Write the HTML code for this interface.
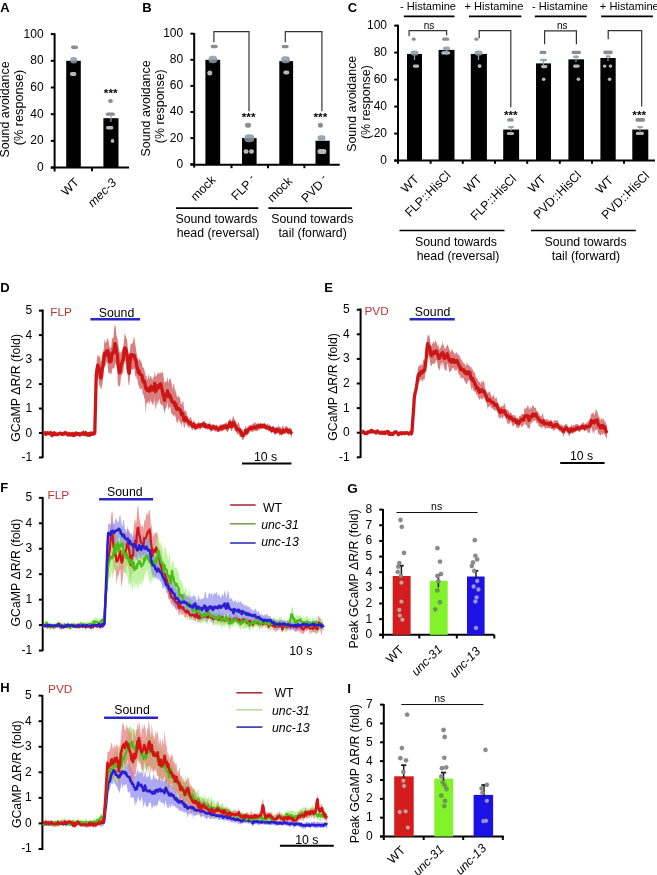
<!DOCTYPE html>
<html><head><meta charset="utf-8"><style>
html,body{margin:0;padding:0;background:#fff;width:657px;height:875px;overflow:hidden}
svg{display:block;will-change:transform}
text{font-family:"Liberation Sans", sans-serif}
</style></head><body>
<svg width="657" height="875" viewBox="0 0 657 875">
<rect width="657" height="875" fill="#fff"/>
<text x="0.30" y="11.60" font-size="13" text-anchor="start" fill="#000" font-weight="bold">A</text>
<line x1="54.60" y1="33.30" x2="54.60" y2="171.50" stroke="#000" stroke-width="2.0" stroke-linecap="butt"/>
<line x1="50.80" y1="167.60" x2="54.60" y2="167.60" stroke="#000" stroke-width="2.0" stroke-linecap="butt"/>
<text x="43.60" y="171.10" font-size="12" text-anchor="end" fill="#000">0</text>
<line x1="50.80" y1="140.90" x2="54.60" y2="140.90" stroke="#000" stroke-width="2.0" stroke-linecap="butt"/>
<text x="43.60" y="144.40" font-size="12" text-anchor="end" fill="#000">20</text>
<line x1="50.80" y1="114.20" x2="54.60" y2="114.20" stroke="#000" stroke-width="2.0" stroke-linecap="butt"/>
<text x="43.60" y="117.70" font-size="12" text-anchor="end" fill="#000">40</text>
<line x1="50.80" y1="87.50" x2="54.60" y2="87.50" stroke="#000" stroke-width="2.0" stroke-linecap="butt"/>
<text x="43.60" y="91.00" font-size="12" text-anchor="end" fill="#000">60</text>
<line x1="50.80" y1="60.80" x2="54.60" y2="60.80" stroke="#000" stroke-width="2.0" stroke-linecap="butt"/>
<text x="43.60" y="64.30" font-size="12" text-anchor="end" fill="#000">80</text>
<line x1="50.80" y1="34.10" x2="54.60" y2="34.10" stroke="#000" stroke-width="2.0" stroke-linecap="butt"/>
<text x="43.60" y="37.60" font-size="12" text-anchor="end" fill="#000">100</text>
<line x1="50.80" y1="167.60" x2="129.00" y2="167.60" stroke="#000" stroke-width="2.0" stroke-linecap="butt"/>
<line x1="92.00" y1="167.60" x2="92.00" y2="171.30" stroke="#000" stroke-width="2.0" stroke-linecap="butt"/>
<text x="9.00" y="109.50" font-size="12.45" text-anchor="middle" fill="#000" transform="rotate(-90 9.00 109.50)">Sound avoidance</text>
<text x="22.70" y="107.50" font-size="12.7" text-anchor="middle" fill="#000" transform="rotate(-90 22.70 107.50)">(% response)</text>
<rect x="66.20" y="60.80" width="14.60" height="106.80" fill="#000"/>
<rect x="103.40" y="118.20" width="15.10" height="49.39" fill="#000"/>
<text x="79.80" y="183.00" font-size="12.3" text-anchor="end" fill="#000" transform="rotate(-45 79.80 183.00)">WT</text>
<text x="117.00" y="183.50" font-size="12.3" text-anchor="end" fill="#000" font-style="italic" transform="rotate(-45 117.00 183.50)">mec-3</text>
<text x="110.70" y="96.74" font-size="11.8" text-anchor="middle" fill="#000" font-weight="bold">***</text>
<rect x="71.00" y="45.50" width="7.00" height="3.40" rx="1.70" ry="1.70" fill="#8c8c8c" fill-opacity="1.0"/>
<rect x="70.20" y="57.05" width="7.00" height="6.50" rx="3.25" ry="3.25" fill="#8a98a2" fill-opacity="0.85"/>
<rect x="69.95" y="72.00" width="6.50" height="4.00" rx="2.00" ry="2.00" fill="#b8b8b8" fill-opacity="1.0"/>
<rect x="108.15" y="99.10" width="4.70" height="3.80" rx="1.90" ry="1.90" fill="#8c8c8c" fill-opacity="1.0"/>
<rect x="105.90" y="112.60" width="9.00" height="3.20" rx="1.60" ry="1.60" fill="#8c8c8c" fill-opacity="1.0"/>
<line x1="111.00" y1="115.50" x2="111.00" y2="122.00" stroke="#8fa3b3" stroke-width="1.2" stroke-linecap="butt"/>
<rect x="105.95" y="126.10" width="7.50" height="3.40" rx="1.70" ry="1.70" fill="#b8b8b8" fill-opacity="1.0"/>
<rect x="110.65" y="139.05" width="3.70" height="3.70" rx="1.85" ry="1.85" fill="#b8b8b8" fill-opacity="1.0"/>
<text x="142.30" y="11.60" font-size="13" text-anchor="start" fill="#000" font-weight="bold">B</text>
<line x1="194.20" y1="33.00" x2="194.20" y2="167.60" stroke="#000" stroke-width="2.0" stroke-linecap="butt"/>
<line x1="190.40" y1="164.20" x2="194.20" y2="164.20" stroke="#000" stroke-width="2.0" stroke-linecap="butt"/>
<text x="183.20" y="167.60" font-size="12" text-anchor="end" fill="#000">0</text>
<line x1="190.40" y1="138.10" x2="194.20" y2="138.10" stroke="#000" stroke-width="2.0" stroke-linecap="butt"/>
<text x="183.20" y="141.50" font-size="12" text-anchor="end" fill="#000">20</text>
<line x1="190.40" y1="112.00" x2="194.20" y2="112.00" stroke="#000" stroke-width="2.0" stroke-linecap="butt"/>
<text x="183.20" y="115.40" font-size="12" text-anchor="end" fill="#000">40</text>
<line x1="190.40" y1="85.90" x2="194.20" y2="85.90" stroke="#000" stroke-width="2.0" stroke-linecap="butt"/>
<text x="183.20" y="89.30" font-size="12" text-anchor="end" fill="#000">60</text>
<line x1="190.40" y1="59.80" x2="194.20" y2="59.80" stroke="#000" stroke-width="2.0" stroke-linecap="butt"/>
<text x="183.20" y="63.20" font-size="12" text-anchor="end" fill="#000">80</text>
<line x1="190.40" y1="33.70" x2="194.20" y2="33.70" stroke="#000" stroke-width="2.0" stroke-linecap="butt"/>
<text x="183.20" y="37.10" font-size="12" text-anchor="end" fill="#000">100</text>
<line x1="190.40" y1="164.70" x2="339.70" y2="164.70" stroke="#000" stroke-width="2.0" stroke-linecap="butt"/>
<line x1="231.50" y1="164.70" x2="231.50" y2="168.20" stroke="#000" stroke-width="2.0" stroke-linecap="butt"/>
<line x1="268.00" y1="164.70" x2="268.00" y2="168.20" stroke="#000" stroke-width="2.0" stroke-linecap="butt"/>
<line x1="304.40" y1="164.70" x2="304.40" y2="168.20" stroke="#000" stroke-width="2.0" stroke-linecap="butt"/>
<text x="150.40" y="108.40" font-size="12.45" text-anchor="middle" fill="#000" transform="rotate(-90 150.40 108.40)">Sound avoidance</text>
<text x="164.20" y="106.20" font-size="12.45" text-anchor="middle" fill="#000" transform="rotate(-90 164.20 106.20)">(% response)</text>
<rect x="205.40" y="59.80" width="14.80" height="104.90" fill="#000"/>
<rect x="242.00" y="138.10" width="14.60" height="26.60" fill="#000"/>
<rect x="279.30" y="61.10" width="13.80" height="103.59" fill="#000"/>
<rect x="315.50" y="140.71" width="14.20" height="23.99" fill="#000"/>
<polyline points="213.90,42.20 213.90,31.70 249.00,31.70 249.00,111.20" fill="none" stroke="#333333" stroke-width="1.2" stroke-linejoin="miter"/>
<polyline points="285.30,42.20 285.30,31.70 321.90,31.70 321.90,111.20" fill="none" stroke="#333333" stroke-width="1.2" stroke-linejoin="miter"/>
<text x="248.60" y="121.14" font-size="11.8" text-anchor="middle" fill="#000" font-weight="bold">***</text>
<text x="320.40" y="121.14" font-size="11.8" text-anchor="middle" fill="#000" font-weight="bold">***</text>
<rect x="210.70" y="44.80" width="7.00" height="3.40" rx="1.70" ry="1.70" fill="#8c8c8c" fill-opacity="1.0"/>
<rect x="208.40" y="55.85" width="9.00" height="7.50" rx="3.75" ry="3.75" fill="#8a98a2" fill-opacity="0.85"/>
<rect x="207.30" y="70.60" width="5.00" height="5.00" rx="2.50" ry="2.50" fill="#b8b8b8" fill-opacity="1.0"/>
<rect x="245.00" y="122.70" width="6.00" height="5.00" rx="2.50" ry="2.50" fill="#8c8c8c" fill-opacity="1.0"/>
<rect x="244.30" y="134.30" width="10.00" height="8.00" rx="4.00" ry="4.00" fill="#8a98a2" fill-opacity="0.85"/>
<rect x="243.50" y="149.25" width="5.00" height="4.50" rx="2.25" ry="2.25" fill="#b8b8b8" fill-opacity="1.0"/>
<rect x="249.00" y="149.25" width="5.00" height="4.50" rx="2.25" ry="2.25" fill="#b8b8b8" fill-opacity="1.0"/>
<rect x="281.70" y="44.90" width="7.00" height="3.40" rx="1.70" ry="1.70" fill="#8c8c8c" fill-opacity="1.0"/>
<rect x="281.00" y="56.30" width="9.00" height="7.00" rx="3.50" ry="3.50" fill="#8a98a2" fill-opacity="0.85"/>
<rect x="283.30" y="70.40" width="6.00" height="4.00" rx="2.00" ry="2.00" fill="#b8b8b8" fill-opacity="1.0"/>
<rect x="317.90" y="122.70" width="5.00" height="5.00" rx="2.50" ry="2.50" fill="#8c8c8c" fill-opacity="1.0"/>
<rect x="317.50" y="135.25" width="8.00" height="5.50" rx="2.75" ry="2.75" fill="#8a98a2" fill-opacity="0.85"/>
<rect x="317.40" y="149.00" width="9.00" height="5.00" rx="2.50" ry="2.50" fill="#b8b8b8" fill-opacity="1.0"/>
<text x="216.30" y="180.70" font-size="12.3" text-anchor="end" fill="#000" transform="rotate(-45 216.30 180.70)">mock</text>
<text x="257.00" y="180.40" font-size="12.3" text-anchor="end" fill="#000" transform="rotate(-45 257.00 180.40)">FLP <tspan dy="-3.5" font-size="10.5">-</tspan></text>
<text x="293.00" y="182.00" font-size="12.3" text-anchor="end" fill="#000" transform="rotate(-45 293.00 182.00)">mock</text>
<text x="329.00" y="180.50" font-size="12.3" text-anchor="end" fill="#000" transform="rotate(-45 329.00 180.50)">PVD <tspan dy="-3.5" font-size="10.5">-</tspan></text>
<line x1="176.00" y1="208.10" x2="258.30" y2="208.10" stroke="#000" stroke-width="1.6" stroke-linecap="butt"/>
<line x1="268.40" y1="208.10" x2="352.10" y2="208.10" stroke="#000" stroke-width="1.6" stroke-linecap="butt"/>
<text x="216.50" y="222.60" font-size="12.3" text-anchor="middle" fill="#000">Sound towards</text>
<text x="218.00" y="237.40" font-size="12.3" text-anchor="middle" fill="#000">head (reversal)</text>
<text x="312.30" y="222.60" font-size="12.3" text-anchor="middle" fill="#000">Sound towards</text>
<text x="312.60" y="237.40" font-size="12.3" text-anchor="middle" fill="#000">tail (forward)</text>
<text x="347.80" y="11.60" font-size="13" text-anchor="start" fill="#000" font-weight="bold">C</text>
<line x1="398.00" y1="24.80" x2="398.00" y2="163.80" stroke="#000" stroke-width="2.0" stroke-linecap="butt"/>
<line x1="394.20" y1="160.60" x2="398.00" y2="160.60" stroke="#000" stroke-width="2.0" stroke-linecap="butt"/>
<text x="387.00" y="164.10" font-size="12" text-anchor="end" fill="#000">0</text>
<line x1="394.20" y1="133.60" x2="398.00" y2="133.60" stroke="#000" stroke-width="2.0" stroke-linecap="butt"/>
<text x="387.00" y="137.10" font-size="12" text-anchor="end" fill="#000">20</text>
<line x1="394.20" y1="106.60" x2="398.00" y2="106.60" stroke="#000" stroke-width="2.0" stroke-linecap="butt"/>
<text x="387.00" y="110.10" font-size="12" text-anchor="end" fill="#000">40</text>
<line x1="394.20" y1="79.60" x2="398.00" y2="79.60" stroke="#000" stroke-width="2.0" stroke-linecap="butt"/>
<text x="387.00" y="83.10" font-size="12" text-anchor="end" fill="#000">60</text>
<line x1="394.20" y1="52.60" x2="398.00" y2="52.60" stroke="#000" stroke-width="2.0" stroke-linecap="butt"/>
<text x="387.00" y="56.10" font-size="12" text-anchor="end" fill="#000">80</text>
<line x1="394.20" y1="25.60" x2="398.00" y2="25.60" stroke="#000" stroke-width="2.0" stroke-linecap="butt"/>
<text x="387.00" y="29.10" font-size="12" text-anchor="end" fill="#000">100</text>
<line x1="394.20" y1="160.40" x2="655.00" y2="160.40" stroke="#000" stroke-width="2.0" stroke-linecap="butt"/>
<line x1="430.60" y1="160.40" x2="430.60" y2="163.80" stroke="#000" stroke-width="2.0" stroke-linecap="butt"/>
<line x1="462.80" y1="160.40" x2="462.80" y2="163.80" stroke="#000" stroke-width="2.0" stroke-linecap="butt"/>
<line x1="495.00" y1="160.40" x2="495.00" y2="163.80" stroke="#000" stroke-width="2.0" stroke-linecap="butt"/>
<line x1="527.20" y1="160.40" x2="527.20" y2="163.80" stroke="#000" stroke-width="2.0" stroke-linecap="butt"/>
<line x1="559.80" y1="160.40" x2="559.80" y2="163.80" stroke="#000" stroke-width="2.0" stroke-linecap="butt"/>
<line x1="592.00" y1="160.40" x2="592.00" y2="163.80" stroke="#000" stroke-width="2.0" stroke-linecap="butt"/>
<line x1="624.00" y1="160.40" x2="624.00" y2="163.80" stroke="#000" stroke-width="2.0" stroke-linecap="butt"/>
<text x="356.00" y="103.80" font-size="12.45" text-anchor="middle" fill="#000" transform="rotate(-90 356.00 103.80)">Sound avoidance</text>
<text x="369.60" y="102.10" font-size="12.45" text-anchor="middle" fill="#000" transform="rotate(-90 369.60 102.10)">(% response)</text>
<rect x="407.00" y="53.95" width="15.00" height="106.45" fill="#000"/>
<rect x="438.60" y="49.90" width="15.90" height="110.50" fill="#000"/>
<rect x="470.80" y="53.95" width="16.10" height="106.45" fill="#000"/>
<rect x="503.20" y="129.55" width="15.90" height="30.85" fill="#000"/>
<rect x="536.00" y="63.40" width="15.00" height="97.00" fill="#000"/>
<rect x="568.40" y="59.35" width="15.60" height="101.05" fill="#000"/>
<rect x="600.40" y="58.00" width="15.30" height="102.40" fill="#000"/>
<rect x="632.30" y="129.55" width="16.00" height="30.85" fill="#000"/>
<text x="428.00" y="9.90" font-size="11.1" text-anchor="middle" fill="#000">- Histamine</text>
<line x1="403.80" y1="16.30" x2="454.50" y2="16.30" stroke="#000" stroke-width="1.8" stroke-linecap="butt"/>
<text x="494.00" y="9.90" font-size="11.1" text-anchor="middle" fill="#000">+ Histamine</text>
<line x1="469.00" y1="16.30" x2="521.40" y2="16.30" stroke="#000" stroke-width="1.8" stroke-linecap="butt"/>
<text x="560.00" y="9.90" font-size="11.1" text-anchor="middle" fill="#000">- Histamine</text>
<line x1="534.80" y1="16.30" x2="586.60" y2="16.30" stroke="#000" stroke-width="1.8" stroke-linecap="butt"/>
<text x="629.30" y="9.90" font-size="11.1" text-anchor="middle" fill="#000">+ Histamine</text>
<line x1="601.20" y1="16.30" x2="652.90" y2="16.30" stroke="#000" stroke-width="1.8" stroke-linecap="butt"/>
<polyline points="409.10,36.00 409.10,30.70 446.60,30.70 446.60,35.50" fill="none" stroke="#333333" stroke-width="1.2" stroke-linejoin="miter"/>
<text x="429.00" y="29.30" font-size="10" text-anchor="middle" fill="#000">ns</text>
<polyline points="544.60,44.20 544.60,30.90 576.40,30.90 576.40,44.20" fill="none" stroke="#333333" stroke-width="1.2" stroke-linejoin="miter"/>
<text x="562.20" y="29.30" font-size="10" text-anchor="middle" fill="#000">ns</text>
<polyline points="479.20,38.20 479.20,30.70 510.80,30.70 510.80,107.30" fill="none" stroke="#333333" stroke-width="1.2" stroke-linejoin="miter"/>
<polyline points="608.20,39.20 608.20,30.70 641.70,30.70 641.70,106.60" fill="none" stroke="#333333" stroke-width="1.2" stroke-linejoin="miter"/>
<text x="510.80" y="119.04" font-size="11.8" text-anchor="middle" fill="#000" font-weight="bold">***</text>
<text x="639.20" y="119.14" font-size="11.8" text-anchor="middle" fill="#000" font-weight="bold">***</text>
<rect x="411.70" y="37.60" width="4.00" height="3.20" rx="1.60" ry="1.60" fill="#8c8c8c" fill-opacity="1.0"/>
<rect x="410.50" y="50.50" width="8.00" height="5.00" rx="2.50" ry="2.50" fill="#8a98a2" fill-opacity="0.85"/>
<rect x="412.75" y="64.40" width="6.50" height="3.40" rx="1.70" ry="1.70" fill="#b8b8b8" fill-opacity="1.0"/>
<rect x="442.20" y="37.60" width="7.00" height="3.20" rx="1.60" ry="1.60" fill="#8c8c8c" fill-opacity="1.0"/>
<rect x="443.00" y="46.50" width="7.00" height="4.00" rx="2.00" ry="2.00" fill="#8a98a2" fill-opacity="0.85"/>
<rect x="441.20" y="51.20" width="9.00" height="3.40" rx="1.70" ry="1.70" fill="#b8b8b8" fill-opacity="1.0"/>
<rect x="474.40" y="37.60" width="4.00" height="3.20" rx="1.60" ry="1.60" fill="#8c8c8c" fill-opacity="1.0"/>
<rect x="474.50" y="50.50" width="8.00" height="5.00" rx="2.50" ry="2.50" fill="#8a98a2" fill-opacity="0.85"/>
<rect x="477.60" y="64.30" width="4.00" height="3.60" rx="1.80" ry="1.80" fill="#b8b8b8" fill-opacity="1.0"/>
<rect x="507.10" y="118.30" width="6.60" height="3.20" rx="1.60" ry="1.60" fill="#8c8c8c" fill-opacity="1.0"/>
<rect x="508.00" y="125.90" width="6.00" height="2.20" rx="1.10" ry="1.10" fill="#8a98a2" fill-opacity="0.85"/>
<rect x="506.85" y="131.90" width="7.30" height="3.00" rx="1.50" ry="1.50" fill="#b8b8b8" fill-opacity="1.0"/>
<rect x="539.50" y="50.80" width="7.00" height="3.20" rx="1.60" ry="1.60" fill="#8c8c8c" fill-opacity="1.0"/>
<rect x="540.00" y="58.70" width="7.00" height="2.60" rx="1.30" ry="1.30" fill="#8a98a2" fill-opacity="0.85"/>
<rect x="541.00" y="65.00" width="6.40" height="3.20" rx="1.60" ry="1.60" fill="#b8b8b8" fill-opacity="1.0"/>
<rect x="541.90" y="77.60" width="3.60" height="3.40" rx="1.70" ry="1.70" fill="#b8b8b8" fill-opacity="1.0"/>
<rect x="571.55" y="50.80" width="9.50" height="3.20" rx="1.60" ry="1.60" fill="#8c8c8c" fill-opacity="1.0"/>
<rect x="573.00" y="55.50" width="6.00" height="2.60" rx="1.30" ry="1.30" fill="#8a98a2" fill-opacity="0.85"/>
<rect x="573.00" y="64.50" width="6.80" height="3.20" rx="1.60" ry="1.60" fill="#b8b8b8" fill-opacity="1.0"/>
<rect x="576.60" y="77.60" width="3.60" height="3.40" rx="1.70" ry="1.70" fill="#b8b8b8" fill-opacity="1.0"/>
<rect x="603.20" y="50.60" width="9.60" height="3.60" rx="1.80" ry="1.80" fill="#8c8c8c" fill-opacity="1.0"/>
<rect x="605.50" y="55.25" width="5.00" height="2.50" rx="1.25" ry="1.25" fill="#8a98a2" fill-opacity="0.85"/>
<rect x="602.80" y="64.40" width="3.60" height="3.40" rx="1.70" ry="1.70" fill="#b8b8b8" fill-opacity="1.0"/>
<rect x="608.70" y="64.40" width="3.60" height="3.40" rx="1.70" ry="1.70" fill="#b8b8b8" fill-opacity="1.0"/>
<rect x="607.80" y="77.60" width="3.60" height="3.40" rx="1.70" ry="1.70" fill="#b8b8b8" fill-opacity="1.0"/>
<rect x="635.30" y="118.10" width="9.80" height="3.60" rx="1.80" ry="1.80" fill="#8c8c8c" fill-opacity="1.0"/>
<rect x="637.00" y="125.90" width="6.00" height="2.20" rx="1.10" ry="1.10" fill="#8a98a2" fill-opacity="0.85"/>
<rect x="635.80" y="131.80" width="8.20" height="3.20" rx="1.60" ry="1.60" fill="#b8b8b8" fill-opacity="1.0"/>
<line x1="414.50" y1="55.00" x2="414.50" y2="60.00" stroke="#8fa3b3" stroke-width="1.2" stroke-linecap="butt"/>
<line x1="446.50" y1="49.00" x2="446.50" y2="55.00" stroke="#8fa3b3" stroke-width="1.2" stroke-linecap="butt"/>
<line x1="478.50" y1="55.00" x2="478.50" y2="60.00" stroke="#8fa3b3" stroke-width="1.2" stroke-linecap="butt"/>
<line x1="511.00" y1="127.00" x2="511.00" y2="131.00" stroke="#8fa3b3" stroke-width="1.2" stroke-linecap="butt"/>
<line x1="543.50" y1="60.00" x2="543.50" y2="66.00" stroke="#8fa3b3" stroke-width="1.2" stroke-linecap="butt"/>
<line x1="576.00" y1="57.00" x2="576.00" y2="62.00" stroke="#8fa3b3" stroke-width="1.2" stroke-linecap="butt"/>
<line x1="608.00" y1="56.00" x2="608.00" y2="61.00" stroke="#8fa3b3" stroke-width="1.2" stroke-linecap="butt"/>
<line x1="640.00" y1="127.00" x2="640.00" y2="131.00" stroke="#8fa3b3" stroke-width="1.2" stroke-linecap="butt"/>
<text x="419.50" y="180.00" font-size="12.3" text-anchor="end" fill="#000" transform="rotate(-45 419.50 180.00)">WT</text>
<text x="451.50" y="176.00" font-size="12.3" text-anchor="end" fill="#000" transform="rotate(-45 451.50 176.00)">FLP::HisCl</text>
<text x="482.50" y="180.00" font-size="12.3" text-anchor="end" fill="#000" transform="rotate(-45 482.50 180.00)">WT</text>
<text x="517.00" y="179.50" font-size="12.3" text-anchor="end" fill="#000" transform="rotate(-45 517.00 179.50)">FLP::HisCl</text>
<text x="546.50" y="180.00" font-size="12.3" text-anchor="end" fill="#000" transform="rotate(-45 546.50 180.00)">WT</text>
<text x="582.00" y="176.00" font-size="12.3" text-anchor="end" fill="#000" transform="rotate(-45 582.00 176.00)">PVD::HisCl</text>
<text x="614.00" y="181.00" font-size="12.3" text-anchor="end" fill="#000" transform="rotate(-45 614.00 181.00)">WT</text>
<text x="650.00" y="176.50" font-size="12.3" text-anchor="end" fill="#000" transform="rotate(-45 650.00 176.50)">PVD::HisCl</text>
<line x1="399.50" y1="230.40" x2="504.50" y2="230.40" stroke="#000" stroke-width="1.5" stroke-linecap="butt"/>
<line x1="531.00" y1="230.40" x2="635.80" y2="230.40" stroke="#000" stroke-width="1.5" stroke-linecap="butt"/>
<text x="456.00" y="246.30" font-size="12.3" text-anchor="middle" fill="#000">Sound towards</text>
<text x="458.00" y="259.60" font-size="12.3" text-anchor="middle" fill="#000">head (reversal)</text>
<text x="585.60" y="246.30" font-size="12.3" text-anchor="middle" fill="#000">Sound towards</text>
<text x="586.00" y="259.60" font-size="12.3" text-anchor="middle" fill="#000">tail (forward)</text>
<text x="0.30" y="292.00" font-size="13" text-anchor="start" fill="#000" font-weight="bold">D</text>
<line x1="42.70" y1="309.50" x2="42.70" y2="458.00" stroke="#000" stroke-width="2.0" stroke-linecap="butt"/>
<line x1="38.90" y1="457.47" x2="42.70" y2="457.47" stroke="#000" stroke-width="2.0" stroke-linecap="butt"/>
<text x="32.10" y="460.97" font-size="12" text-anchor="end" fill="#000">-1</text>
<line x1="38.90" y1="433.00" x2="42.70" y2="433.00" stroke="#000" stroke-width="2.0" stroke-linecap="butt"/>
<text x="32.10" y="436.50" font-size="12" text-anchor="end" fill="#000">0</text>
<line x1="38.90" y1="408.53" x2="42.70" y2="408.53" stroke="#000" stroke-width="2.0" stroke-linecap="butt"/>
<text x="32.10" y="412.03" font-size="12" text-anchor="end" fill="#000">1</text>
<line x1="38.90" y1="384.06" x2="42.70" y2="384.06" stroke="#000" stroke-width="2.0" stroke-linecap="butt"/>
<text x="32.10" y="387.56" font-size="12" text-anchor="end" fill="#000">2</text>
<line x1="38.90" y1="359.59" x2="42.70" y2="359.59" stroke="#000" stroke-width="2.0" stroke-linecap="butt"/>
<text x="32.10" y="363.09" font-size="12" text-anchor="end" fill="#000">3</text>
<line x1="38.90" y1="335.12" x2="42.70" y2="335.12" stroke="#000" stroke-width="2.0" stroke-linecap="butt"/>
<text x="32.10" y="338.62" font-size="12" text-anchor="end" fill="#000">4</text>
<line x1="38.90" y1="310.65" x2="42.70" y2="310.65" stroke="#000" stroke-width="2.0" stroke-linecap="butt"/>
<text x="32.10" y="314.15" font-size="12" text-anchor="end" fill="#000">5</text>
<text x="19.80" y="387.90" font-size="12.3" text-anchor="middle" fill="#000" transform="rotate(-90 19.80 387.90)">GCaMP ΔR/R (fold)</text>
<text x="50.20" y="315.50" font-size="11.8" text-anchor="start" fill="#c03434">FLP</text>
<line x1="90.40" y1="319.20" x2="140.10" y2="319.20" stroke="#2a26c8" stroke-width="2.6" stroke-linecap="butt"/>
<text x="116.50" y="316.60" font-size="12.3" text-anchor="middle" fill="#000">Sound</text>
<line x1="242.00" y1="463.60" x2="291.50" y2="463.60" stroke="#000" stroke-width="2.0" stroke-linecap="butt"/>
<text x="265.60" y="460.60" font-size="12.3" text-anchor="middle" fill="#000">10 s</text>
<polygon points="43.00,431.28 43.75,430.89 44.50,431.51 45.25,430.74 46.00,432.23 46.75,430.70 47.50,430.53 48.25,431.53 49.00,431.82 49.75,431.30 50.50,430.85 51.25,431.36 52.00,434.13 52.75,431.89 53.50,431.89 54.25,431.17 55.00,432.88 55.75,431.98 56.50,432.76 57.25,432.79 58.00,432.73 58.75,431.89 59.50,432.22 60.25,431.33 61.00,431.55 61.75,432.32 62.50,432.03 63.25,431.64 64.00,431.76 64.75,430.12 65.50,431.28 66.25,431.35 67.00,432.44 67.75,432.96 68.50,433.24 69.25,432.03 70.00,432.87 70.75,433.00 71.50,432.05 72.25,431.52 73.00,433.55 73.75,433.94 74.50,432.39 75.25,433.18 76.00,431.25 76.75,431.52 77.50,432.78 78.25,432.61 79.00,432.26 79.75,432.92 80.50,431.84 81.25,431.42 82.00,430.46 82.75,431.19 83.50,429.28 84.25,431.78 85.00,431.54 85.75,430.44 86.50,432.47 87.25,432.84 88.00,432.02 88.75,431.46 89.50,433.71 90.25,432.47 91.00,431.21 91.75,432.19 92.50,432.13 93.25,431.03 94.00,432.17 94.75,431.47 95.50,399.40 96.25,366.82 97.00,358.42 97.75,354.18 98.50,355.82 99.25,358.10 100.00,353.84 100.75,362.36 101.50,360.19 102.25,353.76 103.00,354.48 103.75,349.11 104.50,338.83 105.25,342.83 106.00,342.38 106.75,340.79 107.50,338.08 108.25,339.22 109.00,344.40 109.75,347.15 110.50,347.81 111.25,347.51 112.00,337.10 112.75,339.33 113.50,337.21 114.25,328.08 115.00,324.54 115.75,327.33 116.50,336.05 117.25,337.40 118.00,341.87 118.75,347.29 119.50,351.54 120.25,353.91 121.00,350.87 121.75,352.08 122.50,348.45 123.25,348.48 124.00,340.85 124.75,332.74 125.50,335.52 126.25,337.40 127.00,339.46 127.75,347.09 128.50,354.27 129.25,356.54 130.00,349.23 130.75,343.51 131.50,344.10 132.25,342.69 133.00,343.04 133.75,336.53 134.50,338.85 135.25,344.45 136.00,348.27 136.75,354.85 137.50,357.56 138.25,361.34 139.00,356.77 139.75,360.04 140.50,360.77 141.25,361.46 142.00,364.31 142.75,367.71 143.50,367.47 144.25,369.28 145.00,372.14 145.75,375.89 146.50,375.89 147.25,380.42 148.00,377.24 148.75,373.40 149.50,379.61 150.25,375.71 151.00,375.98 151.75,378.76 152.50,379.78 153.25,377.13 154.00,376.70 154.75,370.88 155.50,376.79 156.25,376.24 157.00,374.47 157.75,373.83 158.50,372.82 159.25,372.27 160.00,374.63 160.75,371.24 161.50,373.39 162.25,371.75 163.00,372.62 163.75,378.84 164.50,383.00 165.25,381.19 166.00,382.06 166.75,381.42 167.50,375.93 168.25,383.71 169.00,379.59 169.75,378.99 170.50,378.59 171.25,382.08 172.00,385.36 172.75,389.45 173.50,383.71 174.25,384.41 175.00,393.33 175.75,388.14 176.50,395.07 177.25,396.75 178.00,397.43 178.75,394.88 179.50,397.20 180.25,399.29 181.00,403.65 181.75,404.54 182.50,401.52 183.25,401.11 184.00,409.06 184.75,411.52 185.50,410.76 186.25,410.64 187.00,414.46 187.75,416.23 188.50,417.69 189.25,418.83 190.00,418.55 190.75,416.23 191.50,419.10 192.25,422.48 193.00,421.80 193.75,420.32 194.50,421.42 195.25,423.15 196.00,423.29 196.75,423.80 197.50,423.03 198.25,422.61 199.00,421.62 199.75,423.43 200.50,423.61 201.25,422.40 202.00,422.28 202.75,420.93 203.50,421.29 204.25,420.37 205.00,423.08 205.75,423.01 206.50,422.89 207.25,423.29 208.00,424.39 208.75,423.30 209.50,422.44 210.25,424.13 211.00,425.49 211.75,424.66 212.50,424.04 213.25,424.34 214.00,424.14 214.75,425.39 215.50,425.06 216.25,424.20 217.00,425.55 217.75,425.17 218.50,426.95 219.25,425.05 220.00,426.16 220.75,423.42 221.50,424.83 222.25,424.71 223.00,423.74 223.75,424.00 224.50,423.73 225.25,422.45 226.00,423.33 226.75,421.87 227.50,424.40 228.25,423.56 229.00,422.34 229.75,418.51 230.50,419.09 231.25,421.39 232.00,419.70 232.75,417.20 233.50,415.68 234.25,419.38 235.00,419.33 235.75,421.19 236.50,422.06 237.25,424.74 238.00,422.79 238.75,421.93 239.50,424.93 240.25,427.77 241.00,427.67 241.75,431.88 242.50,432.52 243.25,432.72 244.00,431.01 244.75,430.00 245.50,425.13 246.25,427.33 247.00,429.33 247.75,426.00 248.50,425.97 249.25,424.91 250.00,425.39 250.75,424.46 251.50,424.99 252.25,424.07 253.00,423.87 253.75,423.59 254.50,422.55 255.25,422.14 256.00,423.13 256.75,423.93 257.50,423.01 258.25,423.85 259.00,423.05 259.75,424.16 260.50,422.18 261.25,423.60 262.00,424.17 262.75,423.02 263.50,423.71 264.25,422.67 265.00,423.59 265.75,424.57 266.50,424.60 267.25,423.60 268.00,423.60 268.75,425.56 269.50,424.32 270.25,425.08 271.00,426.98 271.75,427.55 272.50,426.07 273.25,425.48 274.00,427.46 274.75,428.02 275.50,429.20 276.25,426.50 277.00,426.95 277.75,427.00 278.50,425.15 279.25,426.16 280.00,427.24 280.75,426.98 281.50,428.54 282.25,426.09 283.00,425.14 283.75,428.03 284.50,427.86 285.25,426.05 286.00,426.43 286.75,425.49 287.50,427.29 288.25,428.40 289.00,427.71 289.75,427.31 290.50,428.49 291.25,428.10 292.00,429.51 292.00,438.76 291.25,436.54 290.50,435.04 289.75,434.12 289.00,434.39 288.25,435.23 287.50,433.70 286.75,433.14 286.00,433.80 285.25,433.79 284.50,434.01 283.75,434.80 283.00,433.18 282.25,434.32 281.50,436.14 280.75,434.11 280.00,436.18 279.25,435.37 278.50,432.98 277.75,433.98 277.00,433.41 276.25,433.93 275.50,434.82 274.75,434.89 274.00,433.76 273.25,432.11 272.50,431.49 271.75,433.51 271.00,432.89 270.25,431.90 269.50,431.22 268.75,430.97 268.00,430.61 267.25,429.59 266.50,430.21 265.75,430.08 265.00,429.80 264.25,428.37 263.50,429.00 262.75,427.99 262.00,429.31 261.25,429.20 260.50,427.93 259.75,430.28 259.00,429.58 258.25,430.61 257.50,431.59 256.75,430.69 256.00,431.42 255.25,430.91 254.50,430.19 253.75,431.18 253.00,431.46 252.25,432.31 251.50,432.06 250.75,430.62 250.00,432.21 249.25,432.44 248.50,433.29 247.75,433.02 247.00,436.85 246.25,436.11 245.50,433.60 244.75,437.35 244.00,437.73 243.25,440.14 242.50,439.69 241.75,439.06 241.00,435.28 240.25,437.01 239.50,436.14 238.75,434.07 238.00,434.28 237.25,434.84 236.50,432.84 235.75,431.47 235.00,431.04 234.25,429.85 233.50,427.40 232.75,428.77 232.00,430.40 231.25,431.57 230.50,428.90 229.75,426.40 229.00,429.57 228.25,431.46 227.50,432.85 226.75,430.76 226.00,431.14 225.25,428.92 224.50,429.52 223.75,430.89 223.00,430.09 222.25,431.81 221.50,431.50 220.75,429.79 220.00,431.51 219.25,431.52 218.50,432.32 217.75,431.67 217.00,432.28 216.25,431.20 215.50,431.61 214.75,431.70 214.00,430.31 213.25,430.51 212.50,431.35 211.75,430.68 211.00,432.16 210.25,430.26 209.50,428.30 208.75,428.46 208.00,429.85 207.25,429.48 206.50,428.51 205.75,429.22 205.00,429.30 204.25,426.56 203.50,427.97 202.75,429.07 202.00,427.51 201.25,427.88 200.50,429.49 199.75,430.26 199.00,427.86 198.25,429.40 197.50,429.30 196.75,429.57 196.00,429.48 195.25,431.32 194.50,427.97 193.75,428.08 193.00,429.17 192.25,431.01 191.50,428.79 190.75,425.95 190.00,426.73 189.25,427.98 188.50,427.71 187.75,425.71 187.00,425.97 186.25,423.83 185.50,423.11 184.75,426.96 184.00,428.74 183.25,422.72 182.50,421.77 181.75,427.13 181.00,422.55 180.25,423.76 179.50,420.75 178.75,419.60 178.00,422.09 177.25,423.30 176.50,421.76 175.75,417.03 175.00,416.52 174.25,414.15 173.50,416.89 172.75,414.18 172.00,414.60 171.25,413.00 170.50,407.22 169.75,406.58 169.00,408.35 168.25,409.30 167.50,401.71 166.75,406.51 166.00,408.13 165.25,409.23 164.50,414.12 163.75,409.62 163.00,406.69 162.25,404.40 161.50,405.27 160.75,404.30 160.00,402.61 159.25,398.48 158.50,401.49 157.75,405.49 157.00,399.39 156.25,407.28 155.50,409.66 154.75,396.94 154.00,407.02 153.25,401.57 152.50,405.38 151.75,402.07 151.00,402.10 150.25,398.78 149.50,405.27 148.75,401.67 148.00,401.15 147.25,403.79 146.50,403.33 145.75,413.70 145.00,399.63 144.25,398.15 143.50,394.70 142.75,394.36 142.00,387.88 141.25,389.11 140.50,389.44 139.75,388.80 139.00,385.98 138.25,385.09 137.50,379.43 136.75,378.71 136.00,374.71 135.25,378.12 134.50,369.36 133.75,368.44 133.00,369.54 132.25,369.58 131.50,370.28 130.75,366.34 130.00,376.69 129.25,384.82 128.50,385.13 127.75,375.78 127.00,370.66 126.25,368.95 125.50,360.85 124.75,361.13 124.00,366.07 123.25,372.66 122.50,373.77 121.75,374.71 121.00,376.52 120.25,384.21 119.50,386.98 118.75,385.07 118.00,387.34 117.25,371.22 116.50,366.43 115.75,362.80 115.00,364.87 114.25,368.84 113.50,368.22 112.75,368.05 112.00,370.96 111.25,375.27 110.50,372.38 109.75,373.81 109.00,373.06 108.25,372.61 107.50,363.87 106.75,361.66 106.00,363.96 105.25,366.36 104.50,365.49 103.75,371.08 103.00,379.03 102.25,385.37 101.50,388.61 100.75,389.18 100.00,384.58 99.25,386.48 98.50,378.18 97.75,376.19 97.00,380.01 96.25,385.82 95.50,411.51 94.75,435.08 94.00,435.70 93.25,435.43 92.50,435.35 91.75,436.04 91.00,435.16 90.25,435.94 89.50,436.91 88.75,435.57 88.00,436.15 87.25,437.10 86.50,437.08 85.75,434.81 85.00,436.07 84.25,436.69 83.50,434.91 82.75,435.63 82.00,435.59 81.25,435.60 80.50,435.51 79.75,436.65 79.00,435.87 78.25,435.92 77.50,435.76 76.75,434.84 76.00,434.74 75.25,436.56 74.50,435.97 73.75,437.72 73.00,436.86 72.25,435.22 71.50,436.87 70.75,437.10 70.00,436.21 69.25,435.45 68.50,437.18 67.75,436.49 67.00,435.61 66.25,434.66 65.50,435.32 64.75,435.46 64.00,436.00 63.25,436.21 62.50,436.35 61.75,436.18 61.00,435.66 60.25,434.74 59.50,435.28 58.75,435.45 58.00,436.63 57.25,436.16 56.50,436.38 55.75,435.60 55.00,436.28 54.25,434.53 53.50,434.88 52.75,435.16 52.00,437.46 51.25,434.91 50.50,434.83 49.75,435.51 49.00,435.47 48.25,434.72 47.50,434.35 46.75,435.03 46.00,435.71 45.25,434.41 44.50,435.54 43.75,434.31 43.00,434.40" fill="#d47070" fill-opacity="0.9" stroke="none"/>
<polyline points="43.00,432.68 43.75,432.87 44.50,433.60 45.25,432.67 46.00,434.24 46.75,433.57 47.50,433.00 48.25,433.42 49.00,433.66 49.75,433.70 50.50,432.61 51.25,433.19 52.00,435.61 52.75,433.35 53.50,433.38 54.25,432.78 55.00,434.51 55.75,433.85 56.50,434.29 57.25,434.20 58.00,434.26 58.75,433.51 59.50,433.69 60.25,433.17 61.00,433.80 61.75,434.35 62.50,433.97 63.25,433.50 64.00,433.74 64.75,432.90 65.50,433.51 66.25,433.02 67.00,434.20 67.75,434.79 68.50,434.84 69.25,433.52 70.00,434.72 70.75,434.54 71.50,434.60 72.25,433.47 73.00,435.38 73.75,435.43 74.50,433.96 75.25,434.87 76.00,433.02 76.75,433.25 77.50,434.23 78.25,434.14 79.00,433.72 79.75,434.98 80.50,434.03 81.25,434.16 82.00,433.56 82.75,434.00 83.50,432.95 84.25,434.06 85.00,433.98 85.75,432.61 86.50,434.68 87.25,434.90 88.00,433.92 88.75,433.60 89.50,435.33 90.25,433.90 91.00,432.87 91.75,434.27 92.50,433.73 93.25,433.28 94.00,433.87 94.75,433.13 95.50,404.48 96.25,375.12 97.00,369.09 97.75,365.21 98.50,366.46 99.25,370.93 100.00,372.83 100.75,378.21 101.50,375.73 102.25,368.19 103.00,366.01 103.75,359.78 104.50,353.22 105.25,355.93 106.00,353.14 106.75,351.13 107.50,350.53 108.25,352.91 109.00,357.51 109.75,362.02 110.50,361.66 111.25,360.47 112.00,353.05 112.75,353.56 113.50,352.44 114.25,348.33 115.00,343.71 115.75,346.23 116.50,352.22 117.25,354.19 118.00,363.18 118.75,368.30 119.50,372.86 120.25,371.27 121.00,365.14 121.75,363.57 122.50,360.58 123.25,360.21 124.00,351.98 124.75,347.85 125.50,348.36 126.25,350.63 127.00,354.52 127.75,360.11 128.50,371.66 129.25,373.30 130.00,362.36 130.75,354.77 131.50,354.76 132.25,356.37 133.00,355.12 133.75,355.05 134.50,355.86 135.25,359.86 136.00,360.20 136.75,366.71 137.50,368.40 138.25,372.27 139.00,370.64 139.75,374.17 140.50,374.26 141.25,374.96 142.00,375.40 142.75,380.48 143.50,382.12 144.25,380.82 145.00,383.96 145.75,388.64 146.50,387.61 147.25,390.49 148.00,390.05 148.75,388.60 149.50,391.26 150.25,387.52 151.00,386.31 151.75,388.91 152.50,390.04 153.25,388.89 154.00,389.60 154.75,383.43 155.50,391.52 156.25,390.08 157.00,386.20 157.75,386.73 158.50,387.94 159.25,384.93 160.00,385.51 160.75,383.69 161.50,387.24 162.25,390.60 163.00,395.15 163.75,395.31 164.50,400.37 165.25,394.06 166.00,394.16 166.75,395.31 167.50,390.91 168.25,396.71 169.00,394.29 169.75,395.67 170.50,396.76 171.25,399.35 172.00,401.45 172.75,402.41 173.50,402.54 174.25,402.10 175.00,405.86 175.75,403.75 176.50,408.96 177.25,409.41 178.00,408.14 178.75,408.53 179.50,409.31 180.25,409.65 181.00,412.59 181.75,414.92 182.50,413.20 183.25,415.45 184.00,420.24 184.75,420.45 185.50,417.57 186.25,418.90 187.00,420.48 187.75,420.90 188.50,421.69 189.25,423.38 190.00,422.83 190.75,422.70 191.50,424.09 192.25,426.22 193.00,425.33 193.75,424.35 194.50,425.08 195.25,427.75 196.00,426.57 196.75,426.76 197.50,425.63 198.25,426.22 199.00,425.10 199.75,426.14 200.50,426.14 201.25,424.70 202.00,424.72 202.75,424.60 203.50,424.94 204.25,423.78 205.00,426.67 205.75,426.57 206.50,426.19 207.25,426.10 208.00,427.09 208.75,425.68 209.50,425.69 210.25,426.92 211.00,428.82 211.75,427.44 212.50,427.16 213.25,426.80 214.00,426.94 214.75,428.09 215.50,428.39 216.25,427.39 217.00,428.51 217.75,428.65 218.50,429.81 219.25,428.87 220.00,429.08 220.75,426.93 221.50,428.69 222.25,427.84 223.00,426.52 223.75,427.85 224.50,426.67 225.25,425.88 226.00,427.43 226.75,426.00 227.50,427.89 228.25,426.86 229.00,425.75 229.75,422.38 230.50,424.19 231.25,426.94 232.00,425.95 232.75,423.87 233.50,422.42 234.25,424.68 235.00,425.98 235.75,426.33 236.50,428.18 237.25,429.68 238.00,429.36 238.75,429.41 239.50,429.70 240.25,431.68 241.00,431.04 241.75,435.18 242.50,435.37 243.25,435.60 244.00,434.11 244.75,433.54 245.50,430.50 246.25,431.97 247.00,432.65 247.75,429.49 248.50,429.27 249.25,429.01 250.00,429.15 250.75,427.77 251.50,428.32 252.25,427.83 253.00,427.55 253.75,427.94 254.50,426.79 255.25,427.62 256.00,427.86 256.75,427.29 257.50,426.05 258.25,426.52 259.00,425.88 259.75,426.77 260.50,425.28 261.25,426.14 262.00,426.76 262.75,425.43 263.50,426.17 264.25,425.24 265.00,426.82 265.75,427.31 266.50,427.09 267.25,427.05 268.00,427.80 268.75,428.57 269.50,427.52 270.25,428.20 271.00,429.52 271.75,430.43 272.50,428.52 273.25,428.47 274.00,430.48 274.75,431.30 275.50,431.81 276.25,429.47 277.00,429.81 277.75,430.64 278.50,429.72 279.25,431.04 280.00,432.00 280.75,430.87 281.50,433.00 282.25,430.49 283.00,430.24 283.75,431.73 284.50,430.82 285.25,430.95 286.00,430.50 286.75,429.51 287.50,430.48 288.25,431.73 289.00,430.75 289.75,430.83 290.50,431.78 291.25,432.94 292.00,433.76" fill="none" stroke="#cc1616" stroke-width="3.3" stroke-linejoin="round"/>
<text x="324.20" y="292.00" font-size="13" text-anchor="start" fill="#000" font-weight="bold">E</text>
<line x1="360.60" y1="308.50" x2="360.60" y2="458.00" stroke="#000" stroke-width="2.0" stroke-linecap="butt"/>
<line x1="356.80" y1="457.30" x2="360.60" y2="457.30" stroke="#000" stroke-width="2.0" stroke-linecap="butt"/>
<text x="349.60" y="460.80" font-size="12" text-anchor="end" fill="#000">-1</text>
<line x1="356.80" y1="432.70" x2="360.60" y2="432.70" stroke="#000" stroke-width="2.0" stroke-linecap="butt"/>
<text x="349.60" y="436.20" font-size="12" text-anchor="end" fill="#000">0</text>
<line x1="356.80" y1="408.10" x2="360.60" y2="408.10" stroke="#000" stroke-width="2.0" stroke-linecap="butt"/>
<text x="349.60" y="411.60" font-size="12" text-anchor="end" fill="#000">1</text>
<line x1="356.80" y1="383.50" x2="360.60" y2="383.50" stroke="#000" stroke-width="2.0" stroke-linecap="butt"/>
<text x="349.60" y="387.00" font-size="12" text-anchor="end" fill="#000">2</text>
<line x1="356.80" y1="358.90" x2="360.60" y2="358.90" stroke="#000" stroke-width="2.0" stroke-linecap="butt"/>
<text x="349.60" y="362.40" font-size="12" text-anchor="end" fill="#000">3</text>
<line x1="356.80" y1="334.30" x2="360.60" y2="334.30" stroke="#000" stroke-width="2.0" stroke-linecap="butt"/>
<text x="349.60" y="337.80" font-size="12" text-anchor="end" fill="#000">4</text>
<line x1="356.80" y1="309.70" x2="360.60" y2="309.70" stroke="#000" stroke-width="2.0" stroke-linecap="butt"/>
<text x="349.60" y="313.20" font-size="12" text-anchor="end" fill="#000">5</text>
<text x="337.20" y="386.90" font-size="12.3" text-anchor="middle" fill="#000" transform="rotate(-90 337.20 386.90)">GCaMP ΔR/R (fold)</text>
<text x="364.50" y="315.40" font-size="11.8" text-anchor="start" fill="#c03434">PVD</text>
<line x1="409.50" y1="319.20" x2="454.80" y2="319.20" stroke="#2a26c8" stroke-width="2.6" stroke-linecap="butt"/>
<text x="432.60" y="315.50" font-size="12.3" text-anchor="middle" fill="#000">Sound</text>
<line x1="560.20" y1="462.90" x2="604.60" y2="462.90" stroke="#000" stroke-width="2.0" stroke-linecap="butt"/>
<text x="581.50" y="459.50" font-size="12.3" text-anchor="middle" fill="#000">10 s</text>
<polygon points="361.00,430.71 361.75,430.43 362.50,429.91 363.25,429.17 364.00,430.37 364.75,431.05 365.50,431.39 366.25,431.39 367.00,431.71 367.75,429.45 368.50,429.96 369.25,430.07 370.00,429.57 370.75,430.15 371.50,428.62 372.25,428.94 373.00,430.19 373.75,430.07 374.50,430.02 375.25,430.36 376.00,431.25 376.75,430.84 377.50,429.08 378.25,430.16 379.00,430.90 379.75,431.08 380.50,430.66 381.25,429.77 382.00,430.24 382.75,431.04 383.50,431.62 384.25,430.76 385.00,431.85 385.75,431.20 386.50,430.03 387.25,430.06 388.00,430.03 388.75,432.49 389.50,430.63 390.25,432.16 391.00,431.47 391.75,431.96 392.50,432.15 393.25,431.00 394.00,430.57 394.75,430.79 395.50,429.93 396.25,430.27 397.00,430.79 397.75,431.04 398.50,432.26 399.25,431.76 400.00,431.33 400.75,430.76 401.50,431.79 402.25,431.37 403.00,430.72 403.75,431.55 404.50,431.22 405.25,430.94 406.00,431.17 406.75,431.22 407.50,431.87 408.25,432.29 409.00,431.30 409.75,431.46 410.50,430.20 411.25,431.53 412.00,429.73 412.75,417.25 413.50,407.62 414.25,394.83 415.00,389.63 415.75,386.49 416.50,381.78 417.25,374.57 418.00,367.84 418.75,365.57 419.50,366.36 420.25,364.84 421.00,364.07 421.75,366.09 422.50,364.34 423.25,359.49 424.00,359.97 424.75,361.89 425.50,353.25 426.25,346.97 427.00,339.55 427.75,335.08 428.50,335.77 429.25,334.85 430.00,339.84 430.75,345.20 431.50,346.09 432.25,343.48 433.00,343.16 433.75,341.10 434.50,344.09 435.25,340.11 436.00,341.28 436.75,343.36 437.50,346.64 438.25,343.76 439.00,348.65 439.75,348.89 440.50,347.94 441.25,344.72 442.00,346.16 442.75,340.38 443.50,345.49 444.25,347.19 445.00,349.39 445.75,347.91 446.50,346.54 447.25,344.15 448.00,345.49 448.75,348.10 449.50,350.07 450.25,351.28 451.00,352.26 451.75,349.07 452.50,349.79 453.25,351.92 454.00,352.14 454.75,355.06 455.50,352.88 456.25,352.69 457.00,352.06 457.75,355.18 458.50,353.72 459.25,356.97 460.00,355.27 460.75,359.29 461.50,359.79 462.25,360.81 463.00,362.57 463.75,363.13 464.50,363.45 465.25,364.92 466.00,366.69 466.75,361.05 467.50,365.10 468.25,364.46 469.00,365.29 469.75,366.07 470.50,367.41 471.25,366.78 472.00,370.34 472.75,368.49 473.50,372.46 474.25,371.28 475.00,373.80 475.75,377.08 476.50,378.33 477.25,378.11 478.00,380.01 478.75,382.09 479.50,381.98 480.25,382.61 481.00,384.78 481.75,379.71 482.50,382.69 483.25,380.75 484.00,381.40 484.75,385.86 485.50,389.23 486.25,390.29 487.00,393.22 487.75,392.62 488.50,392.50 489.25,391.34 490.00,391.60 490.75,394.55 491.50,397.09 492.25,396.06 493.00,396.81 493.75,393.50 494.50,398.18 495.25,399.05 496.00,396.28 496.75,398.58 497.50,401.96 498.25,403.33 499.00,406.18 499.75,406.36 500.50,407.49 501.25,405.41 502.00,406.77 502.75,406.03 503.50,405.43 504.25,403.03 505.00,404.83 505.75,408.70 506.50,409.16 507.25,410.17 508.00,409.55 508.75,411.20 509.50,413.19 510.25,412.60 511.00,411.67 511.75,414.33 512.50,415.07 513.25,415.28 514.00,415.13 514.75,415.39 515.50,414.63 516.25,418.54 517.00,417.71 517.75,416.80 518.50,419.21 519.25,415.82 520.00,415.89 520.75,415.67 521.50,414.01 522.25,414.06 523.00,413.79 523.75,414.89 524.50,407.31 525.25,409.78 526.00,406.84 526.75,408.65 527.50,405.35 528.25,405.83 529.00,409.00 529.75,409.21 530.50,406.62 531.25,409.23 532.00,406.16 532.75,405.23 533.50,405.75 534.25,408.05 535.00,407.54 535.75,407.83 536.50,410.85 537.25,410.94 538.00,412.17 538.75,412.95 539.50,415.11 540.25,415.95 541.00,416.85 541.75,415.75 542.50,412.94 543.25,415.36 544.00,419.51 544.75,418.77 545.50,419.77 546.25,419.42 547.00,418.96 547.75,419.54 548.50,419.57 549.25,421.20 550.00,421.02 550.75,419.01 551.50,420.31 552.25,421.46 553.00,423.30 553.75,420.45 554.50,420.62 555.25,420.36 556.00,420.97 556.75,419.94 557.50,420.10 558.25,421.83 559.00,423.46 559.75,424.54 560.50,424.56 561.25,425.06 562.00,424.34 562.75,425.64 563.50,426.62 564.25,424.50 565.00,425.06 565.75,423.59 566.50,424.12 567.25,425.06 568.00,426.48 568.75,426.45 569.50,428.05 570.25,428.06 571.00,425.49 571.75,424.62 572.50,426.26 573.25,424.67 574.00,425.49 574.75,424.89 575.50,424.31 576.25,424.04 577.00,424.27 577.75,424.06 578.50,424.95 579.25,425.33 580.00,425.35 580.75,424.71 581.50,424.12 582.25,422.69 583.00,422.93 583.75,422.17 584.50,423.90 585.25,423.63 586.00,423.61 586.75,422.60 587.50,421.78 588.25,421.48 589.00,420.76 589.75,418.94 590.50,416.83 591.25,413.69 592.00,413.59 592.75,413.40 593.50,411.77 594.25,415.60 595.00,413.85 595.75,408.90 596.50,410.33 597.25,411.20 598.00,414.48 598.75,416.46 599.50,417.29 600.25,421.06 601.00,418.06 601.75,418.66 602.50,420.09 603.25,417.48 604.00,420.57 604.75,421.37 605.50,421.38 606.25,425.34 607.00,423.98 607.00,437.17 606.25,438.67 605.50,436.04 604.75,434.91 604.00,434.08 603.25,432.48 602.50,435.41 601.75,433.24 601.00,435.02 600.25,435.72 599.50,433.82 598.75,435.03 598.00,432.45 597.25,429.17 596.50,429.95 595.75,430.22 595.00,429.30 594.25,434.10 593.50,430.32 592.75,433.93 592.00,429.23 591.25,426.74 590.50,429.72 589.75,433.20 589.00,432.07 588.25,433.70 587.50,431.24 586.75,430.47 586.00,431.03 585.25,430.27 584.50,431.75 583.75,430.39 583.00,429.17 582.25,430.21 581.50,429.69 580.75,430.95 580.00,431.80 579.25,431.90 578.50,431.78 577.75,430.82 577.00,430.33 576.25,430.64 575.50,432.20 574.75,432.01 574.00,433.00 573.25,432.77 572.50,434.17 571.75,433.43 571.00,432.04 570.25,434.50 569.50,436.02 568.75,435.19 568.00,434.02 567.25,432.86 566.50,430.64 565.75,431.57 565.00,433.18 564.25,434.91 563.50,436.49 562.75,433.70 562.00,433.24 561.25,432.24 560.50,431.43 559.75,432.10 559.00,430.57 558.25,430.10 557.50,428.30 556.75,428.74 556.00,429.09 555.25,429.45 554.50,430.21 553.75,430.68 553.00,430.11 552.25,428.79 551.50,429.14 550.75,428.88 550.00,427.73 549.25,428.67 548.50,427.95 547.75,428.71 547.00,427.83 546.25,427.71 545.50,429.46 544.75,427.87 544.00,427.71 543.25,425.63 542.50,427.22 541.75,428.81 541.00,426.67 540.25,426.98 539.50,426.53 538.75,425.91 538.00,423.68 537.25,423.33 536.50,423.08 535.75,420.55 535.00,419.95 534.25,421.64 533.50,420.99 532.75,420.90 532.00,423.75 531.25,422.23 530.50,423.84 529.75,428.44 529.00,428.72 528.25,427.64 527.50,427.69 526.75,425.35 526.00,424.30 525.25,425.54 524.50,421.50 523.75,425.34 523.00,425.48 522.25,427.04 521.50,426.97 520.75,425.01 520.00,425.57 519.25,427.54 518.50,428.49 517.75,426.96 517.00,428.48 516.25,426.68 515.50,423.87 514.75,424.41 514.00,425.37 513.25,426.54 512.50,426.04 511.75,423.83 511.00,421.33 510.25,421.76 509.50,423.92 508.75,424.75 508.00,422.16 507.25,424.44 506.50,419.77 505.75,418.81 505.00,416.78 504.25,415.32 503.50,416.80 502.75,418.27 502.00,419.49 501.25,416.04 500.50,418.63 499.75,417.26 499.00,419.56 498.25,415.81 497.50,412.41 496.75,410.18 496.00,410.54 495.25,409.85 494.50,411.19 493.75,409.31 493.00,409.23 492.25,408.17 491.50,408.31 490.75,406.94 490.00,405.67 489.25,405.90 488.50,407.08 487.75,409.82 487.00,405.11 486.25,401.85 485.50,401.32 484.75,399.01 484.00,398.24 483.25,397.13 482.50,399.54 481.75,399.78 481.00,397.92 480.25,398.54 479.50,400.35 478.75,397.99 478.00,397.83 477.25,393.77 476.50,395.68 475.75,392.57 475.00,391.86 474.25,390.88 473.50,391.41 472.75,387.30 472.00,390.62 471.25,388.59 470.50,385.21 469.75,380.58 469.00,380.13 468.25,380.83 467.50,383.00 466.75,383.66 466.00,383.89 465.25,381.48 464.50,381.17 463.75,379.05 463.00,377.61 462.25,378.13 461.50,378.31 460.75,378.50 460.00,374.20 459.25,375.56 458.50,374.49 457.75,370.00 457.00,368.47 456.25,371.30 455.50,370.00 454.75,371.19 454.00,367.56 453.25,369.05 452.50,367.78 451.75,369.27 451.00,371.77 450.25,371.08 449.50,373.00 448.75,368.91 448.00,364.71 447.25,363.61 446.50,370.97 445.75,370.27 445.00,370.21 444.25,368.36 443.50,364.68 442.75,361.73 442.00,367.47 441.25,362.27 440.50,365.11 439.75,371.56 439.00,368.11 438.25,368.78 437.50,364.31 436.75,359.99 436.00,360.39 435.25,362.47 434.50,364.31 433.75,363.17 433.00,364.08 432.25,363.82 431.50,366.18 430.75,365.94 430.00,361.76 429.25,357.68 428.50,356.72 427.75,353.90 427.00,358.09 426.25,365.37 425.50,372.29 424.75,378.45 424.00,380.29 423.25,379.09 422.50,381.64 421.75,380.71 421.00,379.48 420.25,379.81 419.50,381.95 418.75,381.85 418.00,382.79 417.25,387.43 416.50,391.99 415.75,396.77 415.00,397.64 414.25,403.12 413.50,414.26 412.75,423.33 412.00,433.80 411.25,435.85 410.50,433.93 409.75,435.60 409.00,436.05 408.25,435.65 407.50,434.91 406.75,434.49 406.00,434.51 405.25,434.79 404.50,435.48 403.75,435.52 403.00,434.40 402.25,434.81 401.50,435.43 400.75,434.71 400.00,435.35 399.25,435.47 398.50,437.10 397.75,435.55 397.00,435.19 396.25,433.93 395.50,433.73 394.75,434.77 394.00,435.47 393.25,436.02 392.50,436.29 391.75,435.84 391.00,434.91 390.25,436.06 389.50,434.58 388.75,435.62 388.00,433.18 387.25,433.83 386.50,434.03 385.75,434.61 385.00,436.49 384.25,433.59 383.50,434.92 382.75,435.49 382.00,434.83 381.25,434.52 380.50,435.27 379.75,434.70 379.00,434.50 378.25,434.27 377.50,433.06 376.75,434.39 376.00,434.91 375.25,434.07 374.50,433.68 373.75,433.97 373.00,433.78 372.25,433.27 371.50,431.92 370.75,433.72 370.00,432.98 369.25,433.46 368.50,433.72 367.75,433.60 367.00,435.05 366.25,434.50 365.50,435.20 364.75,435.38 364.00,434.45 363.25,433.15 362.50,433.78 361.75,433.48 361.00,433.38" fill="#d47070" fill-opacity="0.9" stroke="none"/>
<polyline points="361.00,432.03 361.75,432.19 362.50,432.28 363.25,431.56 364.00,432.49 364.75,433.53 365.50,433.46 366.25,433.00 367.00,433.51 367.75,432.16 368.50,432.12 369.25,431.88 370.00,431.17 370.75,431.96 371.50,430.40 372.25,430.58 373.00,431.68 373.75,431.68 374.50,431.64 375.25,431.95 376.00,432.77 376.75,432.27 377.50,430.96 378.25,431.98 379.00,432.45 379.75,432.97 380.50,432.55 381.25,432.55 382.00,433.10 382.75,432.92 383.50,433.11 384.25,432.08 385.00,433.28 385.75,432.60 386.50,432.14 387.25,431.71 388.00,431.51 388.75,434.05 389.50,433.01 390.25,434.63 391.00,433.53 391.75,433.83 392.50,434.43 393.25,433.98 394.00,432.75 394.75,432.42 395.50,431.90 396.25,432.07 397.00,432.90 397.75,433.38 398.50,434.61 399.25,433.59 400.00,433.14 400.75,432.91 401.50,433.83 402.25,432.92 403.00,432.78 403.75,433.40 404.50,433.45 405.25,433.14 406.00,432.89 406.75,432.66 407.50,433.19 408.25,433.70 409.00,433.74 409.75,433.46 410.50,432.35 411.25,433.71 412.00,432.10 412.75,420.16 413.50,410.79 414.25,398.38 415.00,393.25 415.75,390.61 416.50,386.51 417.25,381.53 418.00,376.13 418.75,374.03 419.50,375.29 420.25,372.83 421.00,371.73 421.75,372.96 422.50,372.25 423.25,370.44 424.00,370.95 424.75,370.10 425.50,363.94 426.25,357.64 427.00,348.26 427.75,343.58 428.50,345.74 429.25,346.52 430.00,349.17 430.75,353.84 431.50,355.71 432.25,354.07 433.00,353.44 433.75,351.69 434.50,353.31 435.25,351.30 436.00,350.85 436.75,351.85 437.50,353.98 438.25,355.97 439.00,358.51 439.75,357.56 440.50,355.54 441.25,353.95 442.00,354.88 442.75,352.46 443.50,355.24 444.25,358.29 445.00,357.83 445.75,357.29 446.50,356.46 447.25,353.79 448.00,355.63 448.75,358.90 449.50,360.73 450.25,359.42 451.00,362.10 451.75,360.44 452.50,359.45 453.25,361.96 454.00,359.84 454.75,362.33 455.50,361.01 456.25,361.14 457.00,360.52 457.75,362.46 458.50,364.45 459.25,365.87 460.00,366.79 460.75,369.51 461.50,368.73 462.25,370.00 463.00,370.10 463.75,369.71 464.50,372.30 465.25,372.33 466.00,373.53 466.75,372.09 467.50,373.68 468.25,372.00 469.00,372.07 469.75,372.65 470.50,376.61 471.25,378.41 472.00,379.75 472.75,378.35 473.50,380.94 474.25,382.03 475.00,384.19 475.75,385.42 476.50,388.33 477.25,387.55 478.00,388.29 478.75,390.94 479.50,392.14 480.25,390.72 481.00,391.17 481.75,389.75 482.50,391.64 483.25,390.64 484.00,391.77 484.75,392.90 485.50,395.13 486.25,396.11 487.00,398.64 487.75,400.67 488.50,400.09 489.25,399.43 490.00,400.63 490.75,400.63 491.50,402.22 492.25,402.20 493.00,402.45 493.75,403.23 494.50,405.30 495.25,404.86 496.00,404.70 496.75,404.59 497.50,406.93 498.25,408.83 499.00,410.81 499.75,410.84 500.50,412.59 501.25,410.13 502.00,411.26 502.75,411.90 503.50,411.62 504.25,410.78 505.00,411.96 505.75,414.49 506.50,415.03 507.25,416.62 508.00,415.72 508.75,416.74 509.50,418.35 510.25,417.40 511.00,417.17 511.75,418.64 512.50,419.24 513.25,420.54 514.00,419.43 514.75,419.69 515.50,420.02 516.25,422.66 517.00,422.23 517.75,421.24 518.50,423.61 519.25,422.34 520.00,421.16 520.75,420.12 521.50,419.20 522.25,419.71 523.00,419.14 523.75,419.99 524.50,416.22 525.25,416.53 526.00,415.65 526.75,416.48 527.50,415.67 528.25,417.10 529.00,420.31 529.75,418.07 530.50,416.63 531.25,416.33 532.00,416.71 532.75,414.15 533.50,415.08 534.25,415.60 535.00,414.52 535.75,414.04 536.50,416.60 537.25,417.12 538.00,418.25 538.75,419.49 539.50,420.06 540.25,420.73 541.00,421.97 541.75,422.21 542.50,421.65 543.25,420.83 544.00,423.79 544.75,422.79 545.50,423.72 546.25,423.29 547.00,423.55 547.75,423.83 548.50,423.41 549.25,424.82 550.00,424.26 550.75,422.85 551.50,424.63 552.25,425.06 553.00,426.56 553.75,425.76 554.50,425.85 555.25,424.93 556.00,424.69 556.75,424.75 557.50,425.07 558.25,427.04 559.00,427.27 559.75,428.15 560.50,428.19 561.25,428.90 562.00,428.75 562.75,430.43 563.50,431.35 564.25,429.87 565.00,429.43 565.75,428.19 566.50,427.81 567.25,429.03 568.00,430.48 568.75,430.23 569.50,431.86 570.25,431.21 571.00,428.80 571.75,429.76 572.50,430.71 573.25,429.38 574.00,429.57 574.75,429.12 575.50,429.48 576.25,427.99 577.00,427.80 577.75,427.65 578.50,428.90 579.25,428.50 580.00,428.11 580.75,428.03 581.50,426.91 582.25,427.27 583.00,426.35 583.75,427.65 584.50,428.25 585.25,426.99 586.00,427.04 586.75,426.25 587.50,426.83 588.25,426.57 589.00,425.94 589.75,426.24 590.50,424.13 591.25,420.61 592.00,422.36 592.75,421.49 593.50,421.32 594.25,422.92 595.00,420.76 595.75,420.46 596.50,421.10 597.25,420.00 598.00,423.72 598.75,425.51 599.50,425.45 600.25,427.74 601.00,427.91 601.75,425.77 602.50,426.15 603.25,425.80 604.00,428.22 604.75,427.20 605.50,429.20 606.25,431.71 607.00,430.66" fill="none" stroke="#cc1616" stroke-width="3.3" stroke-linejoin="round"/>
<text x="0.30" y="492.00" font-size="13" text-anchor="start" fill="#000" font-weight="bold">F</text>
<line x1="42.70" y1="497.00" x2="42.70" y2="651.00" stroke="#000" stroke-width="2.0" stroke-linecap="butt"/>
<line x1="38.90" y1="650.55" x2="42.70" y2="650.55" stroke="#000" stroke-width="2.0" stroke-linecap="butt"/>
<text x="32.10" y="654.05" font-size="12" text-anchor="end" fill="#000">-1</text>
<line x1="38.90" y1="625.10" x2="42.70" y2="625.10" stroke="#000" stroke-width="2.0" stroke-linecap="butt"/>
<text x="32.10" y="628.60" font-size="12" text-anchor="end" fill="#000">0</text>
<line x1="38.90" y1="599.65" x2="42.70" y2="599.65" stroke="#000" stroke-width="2.0" stroke-linecap="butt"/>
<text x="32.10" y="603.15" font-size="12" text-anchor="end" fill="#000">1</text>
<line x1="38.90" y1="574.20" x2="42.70" y2="574.20" stroke="#000" stroke-width="2.0" stroke-linecap="butt"/>
<text x="32.10" y="577.70" font-size="12" text-anchor="end" fill="#000">2</text>
<line x1="38.90" y1="548.75" x2="42.70" y2="548.75" stroke="#000" stroke-width="2.0" stroke-linecap="butt"/>
<text x="32.10" y="552.25" font-size="12" text-anchor="end" fill="#000">3</text>
<line x1="38.90" y1="523.30" x2="42.70" y2="523.30" stroke="#000" stroke-width="2.0" stroke-linecap="butt"/>
<text x="32.10" y="526.80" font-size="12" text-anchor="end" fill="#000">4</text>
<line x1="38.90" y1="497.85" x2="42.70" y2="497.85" stroke="#000" stroke-width="2.0" stroke-linecap="butt"/>
<text x="32.10" y="501.35" font-size="12" text-anchor="end" fill="#000">5</text>
<text x="20.00" y="572.60" font-size="12.3" text-anchor="middle" fill="#000" transform="rotate(-90 20.00 572.60)">GCaMP ΔR/R (fold)</text>
<text x="47.50" y="499.40" font-size="11.8" text-anchor="start" fill="#c03434">FLP</text>
<line x1="99.10" y1="499.20" x2="153.10" y2="499.20" stroke="#2a26c8" stroke-width="2.6" stroke-linecap="butt"/>
<text x="124.80" y="496.40" font-size="12.3" text-anchor="middle" fill="#000">Sound</text>
<text x="300.80" y="654.50" font-size="12.3" text-anchor="middle" fill="#000">10 s</text>
<polygon points="43.00,624.75 43.75,623.84 44.50,624.21 45.25,624.03 46.00,624.12 46.75,623.94 47.50,625.83 48.25,623.89 49.00,624.04 49.75,623.74 50.50,624.89 51.25,624.75 52.00,624.70 52.75,624.22 53.50,626.09 54.25,623.09 55.00,624.42 55.75,623.17 56.50,623.23 57.25,623.94 58.00,624.78 58.75,621.62 59.50,622.07 60.25,624.24 61.00,624.48 61.75,625.79 62.50,624.75 63.25,625.28 64.00,623.73 64.75,621.83 65.50,624.58 66.25,623.76 67.00,624.54 67.75,625.23 68.50,624.93 69.25,625.23 70.00,625.41 70.75,623.58 71.50,623.01 72.25,623.53 73.00,624.29 73.75,623.18 74.50,624.23 75.25,624.41 76.00,622.64 76.75,623.51 77.50,623.53 78.25,625.26 79.00,625.11 79.75,624.37 80.50,624.14 81.25,624.00 82.00,624.47 82.75,625.41 83.50,623.55 84.25,622.27 85.00,624.81 85.75,625.91 86.50,624.94 87.25,624.94 88.00,623.77 88.75,623.81 89.50,622.85 90.25,624.56 91.00,625.67 91.75,624.26 92.50,624.68 93.25,625.37 94.00,624.80 94.75,623.57 95.50,623.64 96.25,624.62 97.00,624.50 97.75,624.36 98.50,622.18 99.25,623.47 100.00,624.80 100.75,622.73 101.50,622.02 102.25,624.04 103.00,622.68 103.75,622.11 104.50,612.38 105.25,598.17 106.00,583.40 106.75,574.31 107.50,558.14 108.25,548.37 109.00,536.66 109.75,535.85 110.50,525.26 111.25,514.67 112.00,510.75 112.75,513.54 113.50,528.59 114.25,525.23 115.00,537.58 115.75,533.47 116.50,543.68 117.25,545.14 118.00,537.60 118.75,539.53 119.50,539.87 120.25,529.38 121.00,543.77 121.75,549.31 122.50,547.69 123.25,537.79 124.00,536.66 124.75,538.60 125.50,536.44 126.25,534.35 127.00,529.77 127.75,525.92 128.50,531.75 129.25,530.76 130.00,535.53 130.75,549.81 131.50,541.67 132.25,539.85 133.00,534.63 133.75,527.35 134.50,520.85 135.25,518.83 136.00,524.94 136.75,517.17 137.50,506.80 138.25,505.27 139.00,515.17 139.75,520.13 140.50,524.31 141.25,526.93 142.00,526.13 142.75,524.40 143.50,529.96 144.25,519.76 145.00,521.17 145.75,517.65 146.50,513.43 147.25,512.94 148.00,516.38 148.75,510.71 149.50,509.56 150.25,514.75 151.00,529.31 151.75,522.25 152.50,537.42 153.25,536.04 154.00,532.31 154.75,534.94 155.50,532.73 156.25,532.93 157.00,531.79 157.75,535.25 158.50,544.48 159.25,547.08 160.00,549.00 160.75,550.74 161.50,552.49 162.25,560.07 163.00,562.89 163.75,559.84 164.50,565.43 165.25,564.21 166.00,571.88 166.75,571.42 167.50,572.84 168.25,578.00 169.00,583.50 169.75,582.53 170.50,586.11 171.25,590.13 172.00,590.77 172.75,590.34 173.50,592.01 174.25,591.45 175.00,592.80 175.75,595.88 176.50,597.93 177.25,595.14 178.00,599.48 178.75,601.41 179.50,602.73 180.25,599.94 181.00,602.19 181.75,602.36 182.50,603.22 183.25,600.69 184.00,604.76 184.75,606.07 185.50,606.73 186.25,607.95 187.00,604.57 187.75,607.21 188.50,607.08 189.25,609.97 190.00,608.56 190.75,609.46 191.50,610.55 192.25,609.61 193.00,609.16 193.75,609.45 194.50,609.07 195.25,612.90 196.00,609.50 196.75,607.77 197.50,611.95 198.25,614.12 199.00,611.90 199.75,613.15 200.50,611.20 201.25,609.58 202.00,610.12 202.75,610.28 203.50,611.63 204.25,612.92 205.00,611.10 205.75,612.46 206.50,612.00 207.25,610.87 208.00,613.27 208.75,611.18 209.50,612.11 210.25,611.14 211.00,614.26 211.75,613.00 212.50,615.55 213.25,616.39 214.00,615.53 214.75,613.86 215.50,614.24 216.25,614.10 217.00,614.66 217.75,615.75 218.50,615.16 219.25,614.78 220.00,616.20 220.75,614.27 221.50,615.19 222.25,612.35 223.00,615.75 223.75,615.91 224.50,616.62 225.25,616.28 226.00,614.60 226.75,616.09 227.50,615.35 228.25,614.23 229.00,615.69 229.75,613.85 230.50,615.77 231.25,616.83 232.00,617.41 232.75,617.43 233.50,616.38 234.25,614.13 235.00,615.26 235.75,614.03 236.50,613.06 237.25,616.57 238.00,617.65 238.75,617.15 239.50,616.92 240.25,619.14 241.00,618.76 241.75,616.86 242.50,616.44 243.25,617.42 244.00,616.06 244.75,616.67 245.50,618.91 246.25,617.88 247.00,619.35 247.75,616.25 248.50,618.65 249.25,619.38 250.00,615.76 250.75,617.75 251.50,617.28 252.25,619.65 253.00,620.61 253.75,618.05 254.50,618.79 255.25,617.80 256.00,618.54 256.75,616.42 257.50,616.64 258.25,620.06 259.00,619.64 259.75,619.60 260.50,619.79 261.25,619.39 262.00,619.53 262.75,621.40 263.50,619.14 264.25,617.48 265.00,617.91 265.75,620.72 266.50,620.38 267.25,619.79 268.00,620.39 268.75,623.12 269.50,619.86 270.25,617.99 271.00,621.06 271.75,618.83 272.50,619.30 273.25,622.03 274.00,622.44 274.75,621.59 275.50,623.60 276.25,623.52 277.00,622.83 277.75,621.55 278.50,622.03 279.25,623.53 280.00,621.51 280.75,620.65 281.50,622.98 282.25,625.20 283.00,623.88 283.75,623.27 284.50,621.77 285.25,621.39 286.00,621.08 286.75,623.86 287.50,622.71 288.25,623.23 289.00,623.08 289.75,622.52 290.50,623.29 291.25,622.71 292.00,621.24 292.75,620.29 293.50,621.53 294.25,621.58 295.00,622.87 295.75,622.42 296.50,623.21 297.25,623.54 298.00,623.79 298.75,622.60 299.50,622.85 300.25,622.36 301.00,623.75 301.75,625.29 302.50,623.40 303.25,625.33 304.00,624.82 304.75,623.32 305.50,622.70 306.25,622.83 307.00,623.49 307.75,620.79 308.50,621.78 309.25,622.04 310.00,624.66 310.75,622.63 311.50,624.45 312.25,622.77 313.00,624.48 313.75,622.51 314.50,621.31 315.25,619.99 316.00,621.62 316.75,622.85 317.50,623.44 318.25,616.07 319.00,615.92 319.75,618.24 320.50,617.98 321.25,621.46 322.00,623.38 322.00,635.08 321.25,633.96 320.50,630.13 319.75,631.68 319.00,628.25 318.25,630.69 317.50,633.69 316.75,632.80 316.00,634.38 315.25,632.25 314.50,632.34 313.75,632.35 313.00,632.60 312.25,632.18 311.50,633.11 310.75,631.81 310.00,635.34 309.25,630.71 308.50,629.46 307.75,630.00 307.00,631.49 306.25,631.28 305.50,630.17 304.75,631.66 304.00,633.69 303.25,634.07 302.50,632.60 301.75,633.53 301.00,633.43 300.25,631.51 299.50,631.54 298.75,631.01 298.00,630.78 297.25,630.69 296.50,631.90 295.75,632.16 295.00,631.04 294.25,629.55 293.50,630.22 292.75,628.36 292.00,628.93 291.25,629.78 290.50,631.46 289.75,629.03 289.00,629.69 288.25,629.86 287.50,629.76 286.75,632.69 286.00,628.94 285.25,631.11 284.50,629.10 283.75,630.63 283.00,631.55 282.25,632.90 281.50,629.62 280.75,627.17 280.00,627.75 279.25,629.59 278.50,629.01 277.75,629.27 277.00,632.12 276.25,630.42 275.50,632.15 274.75,629.46 274.00,630.35 273.25,630.46 272.50,628.32 271.75,626.49 271.00,629.24 270.25,627.18 269.50,627.09 268.75,630.37 268.00,628.95 267.25,627.99 266.50,626.68 265.75,628.12 265.00,626.70 264.25,625.85 263.50,626.20 262.75,627.77 262.00,626.63 261.25,627.69 260.50,626.13 259.75,627.72 259.00,626.85 258.25,626.99 257.50,625.04 256.75,626.06 256.00,626.09 255.25,624.48 254.50,626.36 253.75,626.21 253.00,628.80 252.25,627.87 251.50,626.04 250.75,626.35 250.00,623.64 249.25,625.78 248.50,626.25 247.75,625.46 247.00,627.54 246.25,627.73 245.50,625.21 244.75,623.75 244.00,622.96 243.25,624.63 242.50,624.27 241.75,624.52 241.00,625.82 240.25,626.40 239.50,622.67 238.75,623.65 238.00,623.96 237.25,624.15 236.50,621.15 235.75,622.25 235.00,623.40 234.25,621.94 233.50,623.50 232.75,624.18 232.00,624.66 231.25,624.58 230.50,623.37 229.75,622.59 229.00,622.67 228.25,622.29 227.50,622.65 226.75,623.94 226.00,623.66 225.25,622.99 224.50,624.31 223.75,624.57 223.00,625.68 222.25,622.12 221.50,624.27 220.75,622.57 220.00,624.86 219.25,623.46 218.50,622.59 217.75,624.19 217.00,622.47 216.25,620.93 215.50,621.12 214.75,622.60 214.00,622.79 213.25,622.45 212.50,622.50 211.75,621.49 211.00,622.18 210.25,618.72 209.50,619.60 208.75,618.65 208.00,621.53 207.25,620.08 206.50,620.27 205.75,621.16 205.00,619.57 204.25,620.22 203.50,620.16 202.75,620.37 202.00,620.73 201.25,619.43 200.50,623.00 199.75,622.98 199.00,620.18 198.25,623.51 197.50,621.99 196.75,617.21 196.00,620.48 195.25,622.09 194.50,620.17 193.75,620.85 193.00,619.27 192.25,619.19 191.50,619.60 190.75,618.91 190.00,619.73 189.25,619.06 188.50,616.19 187.75,617.90 187.00,616.11 186.25,617.43 185.50,617.72 184.75,617.45 184.00,615.62 183.25,613.64 182.50,614.92 181.75,614.36 181.00,614.79 180.25,611.48 179.50,615.82 178.75,615.22 178.00,611.21 177.25,608.23 176.50,611.43 175.75,608.91 175.00,607.25 174.25,606.54 173.50,605.71 172.75,606.57 172.00,603.56 171.25,605.09 170.50,602.29 169.75,599.41 169.00,599.70 168.25,597.49 167.50,592.84 166.75,588.57 166.00,589.25 165.25,582.46 164.50,582.93 163.75,582.53 163.00,580.78 162.25,581.03 161.50,577.47 160.75,573.97 160.00,571.30 159.25,571.77 158.50,572.00 157.75,570.98 157.00,564.82 156.25,562.16 155.50,565.74 154.75,567.70 154.00,564.59 153.25,561.97 152.50,569.57 151.75,565.54 151.00,557.08 150.25,545.54 149.50,543.12 148.75,548.25 148.00,549.37 147.25,548.00 146.50,551.58 145.75,553.70 145.00,554.08 144.25,552.91 143.50,559.30 142.75,559.74 142.00,559.07 141.25,563.07 140.50,561.21 139.75,559.70 139.00,554.84 138.25,545.20 137.50,545.68 136.75,556.60 136.00,560.06 135.25,558.47 134.50,569.38 133.75,560.88 133.00,573.43 132.25,573.60 131.50,575.02 130.75,582.31 130.00,579.21 129.25,570.29 128.50,569.13 127.75,564.60 127.00,564.92 126.25,567.10 125.50,571.63 124.75,574.41 124.00,569.19 123.25,572.40 122.50,580.42 121.75,586.87 121.00,583.02 120.25,569.12 119.50,571.46 118.75,574.63 118.00,575.63 117.25,579.57 116.50,585.17 115.75,568.67 115.00,571.76 114.25,566.06 113.50,574.89 112.75,564.90 112.00,549.79 111.25,553.18 110.50,560.26 109.75,566.68 109.00,566.77 108.25,570.37 107.50,578.98 106.75,591.95 106.00,601.57 105.25,610.75 104.50,618.64 103.75,626.98 103.00,628.04 102.25,628.82 101.50,626.52 100.75,627.54 100.00,629.08 99.25,627.59 98.50,626.69 97.75,628.28 97.00,628.56 96.25,628.31 95.50,627.18 94.75,626.94 94.00,628.20 93.25,629.22 92.50,629.20 91.75,629.46 91.00,629.58 90.25,628.58 89.50,627.37 88.75,627.34 88.00,626.81 87.25,628.35 86.50,628.35 85.75,629.62 85.00,628.41 84.25,625.87 83.50,627.41 82.75,628.52 82.00,628.14 81.25,627.37 80.50,628.01 79.75,628.73 79.00,628.72 78.25,628.94 77.50,628.16 76.75,628.21 76.00,627.20 75.25,627.48 74.50,628.09 73.75,627.28 73.00,628.61 72.25,627.43 71.50,628.09 70.75,627.27 70.00,629.51 69.25,628.35 68.50,628.03 67.75,628.95 67.00,628.54 66.25,627.46 65.50,628.85 64.75,627.33 64.00,628.43 63.25,628.96 62.50,628.89 61.75,629.78 61.00,628.37 60.25,627.90 59.50,625.25 58.75,624.97 58.00,628.01 57.25,627.49 56.50,627.17 55.75,627.50 55.00,627.95 54.25,626.88 53.50,629.07 52.75,627.47 52.00,628.17 51.25,628.85 50.50,629.45 49.75,627.82 49.00,627.26 48.25,627.13 47.50,628.93 46.75,626.78 46.00,627.18 45.25,627.58 44.50,628.20 43.75,627.79 43.00,628.24" fill="#e47a7a" fill-opacity="0.75" stroke="none"/>
<polygon points="43.00,623.79 43.75,623.90 44.50,622.59 45.25,622.12 46.00,620.30 46.75,620.36 47.50,622.67 48.25,623.22 49.00,624.42 49.75,623.26 50.50,621.60 51.25,623.33 52.00,623.52 52.75,622.22 53.50,624.84 54.25,623.17 55.00,623.87 55.75,624.36 56.50,622.83 57.25,620.46 58.00,621.37 58.75,623.33 59.50,623.11 60.25,622.63 61.00,622.42 61.75,622.35 62.50,622.53 63.25,621.98 64.00,623.68 64.75,621.97 65.50,624.60 66.25,623.96 67.00,622.98 67.75,621.31 68.50,621.89 69.25,623.87 70.00,625.68 70.75,624.74 71.50,624.23 72.25,623.93 73.00,622.10 73.75,621.76 74.50,623.08 75.25,623.74 76.00,622.82 76.75,624.10 77.50,623.32 78.25,622.05 79.00,622.87 79.75,623.52 80.50,620.45 81.25,621.69 82.00,620.91 82.75,621.93 83.50,622.76 84.25,621.82 85.00,622.47 85.75,623.27 86.50,621.52 87.25,621.23 88.00,621.67 88.75,621.75 89.50,621.44 90.25,621.26 91.00,621.98 91.75,619.80 92.50,619.03 93.25,619.84 94.00,618.53 94.75,618.82 95.50,616.99 96.25,617.61 97.00,618.42 97.75,618.59 98.50,619.35 99.25,619.47 100.00,619.30 100.75,619.61 101.50,616.84 102.25,615.68 103.00,616.77 103.75,618.24 104.50,613.31 105.25,595.85 106.00,585.73 106.75,573.75 107.50,559.03 108.25,553.01 109.00,547.55 109.75,545.06 110.50,542.00 111.25,542.48 112.00,542.75 112.75,539.31 113.50,533.36 114.25,526.20 115.00,523.89 115.75,537.46 116.50,530.16 117.25,531.20 118.00,522.65 118.75,533.06 119.50,530.40 120.25,527.51 121.00,529.31 121.75,528.78 122.50,525.92 123.25,525.92 124.00,528.89 124.75,532.79 125.50,537.10 126.25,544.11 127.00,538.33 127.75,538.17 128.50,544.66 129.25,537.79 130.00,538.85 130.75,546.37 131.50,546.88 132.25,545.74 133.00,549.59 133.75,545.03 134.50,552.57 135.25,545.89 136.00,546.66 136.75,552.46 137.50,542.77 138.25,544.84 139.00,545.19 139.75,547.71 140.50,543.03 141.25,550.70 142.00,549.68 142.75,549.24 143.50,547.99 144.25,533.37 145.00,537.41 145.75,537.79 146.50,531.28 147.25,537.58 148.00,538.79 148.75,542.50 149.50,544.23 150.25,545.94 151.00,545.49 151.75,546.72 152.50,544.77 153.25,546.53 154.00,543.93 154.75,549.59 155.50,547.87 156.25,536.45 157.00,545.27 157.75,531.94 158.50,535.48 159.25,540.49 160.00,544.12 160.75,541.48 161.50,545.88 162.25,546.21 163.00,550.70 163.75,557.95 164.50,547.85 165.25,545.44 166.00,550.19 166.75,553.85 167.50,555.00 168.25,560.80 169.00,554.62 169.75,554.56 170.50,565.91 171.25,569.61 172.00,558.51 172.75,563.27 173.50,560.18 174.25,569.27 175.00,567.72 175.75,566.95 176.50,568.62 177.25,569.60 178.00,572.71 178.75,571.93 179.50,582.49 180.25,578.75 181.00,579.05 181.75,584.15 182.50,580.80 183.25,587.84 184.00,590.05 184.75,592.32 185.50,586.63 186.25,587.84 187.00,595.00 187.75,596.33 188.50,590.54 189.25,588.58 190.00,594.79 190.75,598.39 191.50,599.59 192.25,601.03 193.00,601.00 193.75,603.58 194.50,600.52 195.25,599.03 196.00,603.19 196.75,604.15 197.50,603.38 198.25,604.55 199.00,604.43 199.75,606.63 200.50,607.56 201.25,607.30 202.00,611.54 202.75,606.05 203.50,607.13 204.25,606.41 205.00,609.22 205.75,607.37 206.50,606.20 207.25,607.81 208.00,605.85 208.75,604.98 209.50,608.91 210.25,608.60 211.00,609.65 211.75,608.55 212.50,608.77 213.25,608.85 214.00,612.31 214.75,612.58 215.50,612.62 216.25,611.65 217.00,612.84 217.75,614.12 218.50,607.98 219.25,608.52 220.00,611.04 220.75,611.84 221.50,614.34 222.25,615.21 223.00,612.07 223.75,612.97 224.50,614.30 225.25,614.97 226.00,612.44 226.75,611.07 227.50,614.20 228.25,612.01 229.00,618.36 229.75,617.40 230.50,616.94 231.25,614.25 232.00,616.44 232.75,616.69 233.50,614.52 234.25,615.50 235.00,613.98 235.75,613.27 236.50,613.62 237.25,613.55 238.00,616.07 238.75,616.08 239.50,616.05 240.25,619.20 241.00,617.05 241.75,614.91 242.50,618.45 243.25,615.84 244.00,617.07 244.75,617.01 245.50,615.02 246.25,617.12 247.00,616.48 247.75,618.21 248.50,617.90 249.25,620.84 250.00,618.26 250.75,618.04 251.50,615.87 252.25,617.59 253.00,617.80 253.75,619.54 254.50,619.58 255.25,616.27 256.00,618.95 256.75,616.17 257.50,615.22 258.25,616.16 259.00,615.69 259.75,619.67 260.50,619.27 261.25,617.93 262.00,616.58 262.75,614.98 263.50,617.60 264.25,615.18 265.00,617.05 265.75,618.49 266.50,618.02 267.25,619.35 268.00,618.53 268.75,618.39 269.50,620.95 270.25,617.81 271.00,620.32 271.75,620.50 272.50,617.79 273.25,617.25 274.00,617.41 274.75,617.55 275.50,619.20 276.25,619.91 277.00,621.96 277.75,617.75 278.50,619.60 279.25,617.43 280.00,616.82 280.75,617.69 281.50,619.63 282.25,619.80 283.00,620.73 283.75,619.04 284.50,619.15 285.25,620.09 286.00,621.45 286.75,619.71 287.50,619.62 288.25,618.87 289.00,620.02 289.75,619.07 290.50,613.96 291.25,609.01 292.00,607.07 292.75,608.18 293.50,611.80 294.25,613.21 295.00,617.03 295.75,618.03 296.50,614.59 297.25,615.86 298.00,614.97 298.75,616.36 299.50,616.52 300.25,614.52 301.00,615.10 301.75,617.11 302.50,617.59 303.25,618.30 304.00,618.67 304.75,617.89 305.50,617.42 306.25,616.72 307.00,614.58 307.75,616.38 308.50,618.50 309.25,618.85 310.00,617.93 310.75,622.78 311.50,621.02 312.25,618.18 313.00,616.66 313.75,619.15 314.50,619.30 315.25,620.29 316.00,616.86 316.75,616.85 317.50,619.90 318.25,621.05 319.00,622.79 319.75,620.98 320.50,619.19 321.25,618.60 322.00,619.69 322.75,621.07 322.75,630.10 322.00,630.47 321.25,629.90 320.50,630.21 319.75,629.62 319.00,631.63 318.25,631.77 317.50,631.44 316.75,627.41 316.00,628.76 315.25,630.58 314.50,628.36 313.75,627.23 313.00,626.19 312.25,628.22 311.50,631.88 310.75,633.67 310.00,628.12 309.25,629.11 308.50,628.19 307.75,626.82 307.00,627.21 306.25,628.31 305.50,626.44 304.75,627.89 304.00,629.81 303.25,627.87 302.50,627.06 301.75,629.05 301.00,625.60 300.25,624.44 299.50,625.71 298.75,625.26 298.00,624.73 297.25,626.41 296.50,624.89 295.75,627.67 295.00,626.98 294.25,625.99 293.50,627.03 292.75,624.00 292.00,624.41 291.25,621.48 290.50,625.42 289.75,628.13 289.00,630.31 288.25,627.70 287.50,629.32 286.75,631.21 286.00,632.27 285.25,631.68 284.50,629.28 283.75,628.93 283.00,630.10 282.25,629.70 281.50,629.82 280.75,628.13 280.00,628.04 279.25,629.13 278.50,628.42 277.75,628.72 277.00,631.15 276.25,629.80 275.50,627.14 274.75,626.98 274.00,625.99 273.25,625.32 272.50,626.11 271.75,628.34 271.00,630.25 270.25,629.70 269.50,632.47 268.75,628.23 268.00,627.19 267.25,630.02 266.50,626.43 265.75,627.92 265.00,627.85 264.25,624.84 263.50,627.60 262.75,624.94 262.00,625.84 261.25,626.83 260.50,629.13 259.75,629.12 259.00,627.32 258.25,627.59 257.50,627.35 256.75,625.11 256.00,627.11 255.25,626.01 254.50,627.42 253.75,627.15 253.00,626.71 252.25,627.20 251.50,626.76 250.75,629.19 250.00,630.84 249.25,630.38 248.50,628.89 247.75,626.67 247.00,624.98 246.25,627.91 245.50,627.02 244.75,629.41 244.00,628.72 243.25,628.30 242.50,628.28 241.75,626.71 241.00,629.97 240.25,629.42 239.50,628.42 238.75,627.03 238.00,625.50 237.25,626.00 236.50,624.64 235.75,623.48 235.00,625.44 234.25,625.59 233.50,624.60 232.75,626.78 232.00,627.40 231.25,624.92 230.50,629.67 229.75,628.79 229.00,630.87 228.25,626.17 227.50,626.23 226.75,622.53 226.00,622.47 225.25,626.77 224.50,627.04 223.75,624.67 223.00,625.01 222.25,626.25 221.50,628.55 220.75,625.50 220.00,626.26 219.25,624.22 218.50,623.19 217.75,626.74 217.00,625.74 216.25,623.97 215.50,624.40 214.75,624.94 214.00,624.80 213.25,624.51 212.50,622.76 211.75,621.88 211.00,622.08 210.25,622.02 209.50,620.43 208.75,618.11 208.00,621.57 207.25,623.83 206.50,623.19 205.75,622.35 205.00,622.62 204.25,620.99 203.50,622.51 202.75,622.24 202.00,625.18 201.25,621.70 200.50,621.76 199.75,621.20 199.00,617.11 198.25,616.44 197.50,616.51 196.75,619.24 196.00,622.50 195.25,617.72 194.50,619.38 193.75,619.74 193.00,619.03 192.25,619.40 191.50,620.73 190.75,618.67 190.00,618.08 189.25,610.92 188.50,614.39 187.75,620.75 187.00,619.19 186.25,612.67 185.50,610.41 184.75,610.99 184.00,610.89 183.25,610.10 182.50,607.28 181.75,608.09 181.00,605.70 180.25,606.11 179.50,610.30 178.75,602.81 178.00,600.74 177.25,604.72 176.50,608.20 175.75,602.18 175.00,601.22 174.25,596.93 173.50,593.90 172.75,589.23 172.00,586.33 171.25,604.70 170.50,602.09 169.75,592.58 169.00,591.82 168.25,591.94 167.50,591.45 166.75,587.88 166.00,581.17 165.25,582.48 164.50,580.48 163.75,588.47 163.00,583.57 162.25,583.64 161.50,583.46 160.75,576.40 160.00,575.51 159.25,569.93 158.50,567.77 157.75,566.17 157.00,579.05 156.25,575.55 155.50,579.02 154.75,581.28 154.00,574.67 153.25,579.26 152.50,578.52 151.75,585.73 151.00,578.16 150.25,581.91 149.50,584.11 148.75,576.42 148.00,574.03 147.25,571.14 146.50,570.28 145.75,572.08 145.00,578.55 144.25,574.13 143.50,583.91 142.75,579.43 142.00,581.87 141.25,586.45 140.50,582.54 139.75,585.86 139.00,581.08 138.25,589.97 137.50,586.96 136.75,585.13 136.00,582.48 135.25,584.75 134.50,589.29 133.75,579.85 133.00,591.34 132.25,590.49 131.50,582.81 130.75,588.73 130.00,582.47 129.25,583.09 128.50,585.53 127.75,580.01 127.00,572.37 126.25,578.68 125.50,572.93 124.75,571.77 124.00,572.70 123.25,565.59 122.50,558.23 121.75,559.79 121.00,563.20 120.25,560.69 119.50,561.55 118.75,571.12 118.00,568.99 117.25,566.96 116.50,565.88 115.75,571.06 115.00,560.63 114.25,571.62 113.50,571.27 112.75,580.48 112.00,572.75 111.25,572.11 110.50,578.19 109.75,576.95 109.00,577.28 108.25,584.58 107.50,586.20 106.75,595.65 106.00,601.14 105.25,610.16 104.50,622.25 103.75,624.56 103.00,623.46 102.25,623.90 101.50,623.28 100.75,625.69 100.00,625.58 99.25,625.17 98.50,625.10 97.75,626.09 97.00,624.75 96.25,625.56 95.50,625.38 94.75,625.45 94.00,624.01 93.25,625.59 92.50,625.80 91.75,627.07 91.00,628.87 90.25,627.46 89.50,627.93 88.75,626.48 88.00,627.35 87.25,627.66 86.50,627.25 85.75,628.22 85.00,626.97 84.25,628.00 83.50,628.62 82.75,627.23 82.00,625.81 81.25,626.14 80.50,625.63 79.75,627.18 79.00,627.02 78.25,626.91 77.50,628.02 76.75,628.22 76.00,627.62 75.25,629.03 74.50,627.39 73.75,626.78 73.00,627.78 72.25,628.02 71.50,628.27 70.75,629.08 70.00,630.16 69.25,628.55 68.50,626.96 67.75,626.71 67.00,629.42 66.25,628.83 65.50,629.68 64.75,626.93 64.00,628.64 63.25,627.49 62.50,626.98 61.75,627.53 61.00,626.83 60.25,627.23 59.50,627.80 58.75,628.95 58.00,627.99 57.25,627.45 56.50,627.39 55.75,629.47 55.00,628.90 54.25,628.57 53.50,630.00 52.75,627.40 52.00,628.95 51.25,629.01 50.50,627.83 49.75,628.50 49.00,629.67 48.25,628.21 47.50,627.12 46.75,624.69 46.00,625.64 45.25,626.67 44.50,627.31 43.75,628.61 43.00,629.60" fill="#a6f07a" fill-opacity="0.7" stroke="none"/>
<polygon points="43.00,624.73 43.75,623.85 44.50,623.84 45.25,624.52 46.00,624.57 46.75,623.11 47.50,623.66 48.25,623.11 49.00,624.27 49.75,623.22 50.50,623.69 51.25,623.80 52.00,623.76 52.75,624.44 53.50,624.46 54.25,623.70 55.00,623.53 55.75,624.42 56.50,624.22 57.25,623.53 58.00,622.87 58.75,622.64 59.50,624.14 60.25,624.01 61.00,623.56 61.75,623.86 62.50,624.72 63.25,624.51 64.00,625.13 64.75,624.72 65.50,623.61 66.25,624.34 67.00,623.11 67.75,623.01 68.50,622.89 69.25,623.65 70.00,623.79 70.75,623.54 71.50,623.41 72.25,623.73 73.00,623.57 73.75,624.33 74.50,624.49 75.25,624.52 76.00,624.03 76.75,624.66 77.50,623.90 78.25,623.21 79.00,622.73 79.75,623.98 80.50,623.69 81.25,623.78 82.00,622.64 82.75,623.36 83.50,623.40 84.25,624.18 85.00,623.28 85.75,623.77 86.50,623.53 87.25,623.62 88.00,624.74 88.75,624.70 89.50,624.28 90.25,624.13 91.00,624.03 91.75,623.22 92.50,624.03 93.25,623.78 94.00,623.26 94.75,623.32 95.50,623.37 96.25,623.92 97.00,623.61 97.75,623.31 98.50,622.92 99.25,622.31 100.00,624.70 100.75,624.28 101.50,624.08 102.25,622.25 103.00,622.36 103.75,622.56 104.50,621.72 105.25,602.03 106.00,580.27 106.75,559.04 107.50,534.86 108.25,523.95 109.00,523.97 109.75,522.99 110.50,525.92 111.25,523.86 112.00,523.87 112.75,522.61 113.50,523.89 114.25,524.16 115.00,520.41 115.75,518.05 116.50,519.18 117.25,521.34 118.00,522.67 118.75,520.59 119.50,516.03 120.25,515.04 121.00,520.34 121.75,523.57 122.50,526.89 123.25,520.28 124.00,520.18 124.75,528.25 125.50,529.01 126.25,530.73 127.00,532.37 127.75,528.50 128.50,529.30 129.25,532.68 130.00,532.31 130.75,534.69 131.50,532.98 132.25,534.66 133.00,537.37 133.75,535.33 134.50,536.21 135.25,533.38 136.00,533.48 136.75,537.51 137.50,540.16 138.25,540.53 139.00,537.84 139.75,539.80 140.50,540.07 141.25,542.46 142.00,534.65 142.75,535.48 143.50,534.93 144.25,537.69 145.00,537.42 145.75,537.09 146.50,537.94 147.25,538.67 148.00,537.13 148.75,537.44 149.50,539.93 150.25,539.39 151.00,548.96 151.75,553.69 152.50,555.76 153.25,553.09 154.00,554.13 154.75,557.44 155.50,561.33 156.25,560.04 157.00,561.48 157.75,560.60 158.50,560.83 159.25,561.37 160.00,562.61 160.75,557.99 161.50,556.40 162.25,564.50 163.00,566.82 163.75,570.38 164.50,571.48 165.25,573.52 166.00,576.05 166.75,575.31 167.50,575.81 168.25,578.44 169.00,579.25 169.75,580.78 170.50,579.58 171.25,580.31 172.00,583.81 172.75,582.64 173.50,585.20 174.25,586.84 175.00,587.89 175.75,588.37 176.50,589.00 177.25,589.18 178.00,590.77 178.75,591.37 179.50,594.39 180.25,596.60 181.00,594.21 181.75,595.13 182.50,595.79 183.25,596.09 184.00,592.35 184.75,594.06 185.50,594.93 186.25,595.65 187.00,596.52 187.75,596.99 188.50,595.74 189.25,596.93 190.00,598.25 190.75,594.63 191.50,598.21 192.25,595.22 193.00,597.80 193.75,593.56 194.50,596.42 195.25,595.24 196.00,598.87 196.75,600.83 197.50,599.79 198.25,594.47 199.00,597.18 199.75,599.14 200.50,599.21 201.25,599.30 202.00,598.44 202.75,598.66 203.50,598.55 204.25,596.70 205.00,591.89 205.75,591.64 206.50,597.75 207.25,598.50 208.00,597.68 208.75,592.55 209.50,593.07 210.25,594.16 211.00,594.34 211.75,592.22 212.50,596.65 213.25,594.19 214.00,593.42 214.75,592.77 215.50,594.23 216.25,591.63 217.00,592.60 217.75,596.38 218.50,594.54 219.25,594.04 220.00,597.03 220.75,597.65 221.50,596.95 222.25,593.47 223.00,595.22 223.75,596.09 224.50,589.95 225.25,592.68 226.00,595.91 226.75,598.41 227.50,590.16 228.25,591.80 229.00,594.97 229.75,599.62 230.50,598.85 231.25,597.70 232.00,598.95 232.75,600.54 233.50,602.70 234.25,600.80 235.00,600.56 235.75,600.86 236.50,601.19 237.25,603.59 238.00,602.72 238.75,599.24 239.50,603.25 240.25,601.46 241.00,601.06 241.75,603.80 242.50,603.36 243.25,604.24 244.00,604.78 244.75,606.11 245.50,604.90 246.25,605.36 247.00,607.29 247.75,605.83 248.50,607.24 249.25,606.66 250.00,606.99 250.75,609.27 251.50,608.75 252.25,610.60 253.00,610.09 253.75,611.33 254.50,609.40 255.25,608.59 256.00,609.31 256.75,611.56 257.50,612.80 258.25,610.61 259.00,611.68 259.75,613.94 260.50,614.47 261.25,613.75 262.00,615.42 262.75,614.83 263.50,615.99 264.25,614.99 265.00,614.19 265.75,615.98 266.50,613.07 267.25,613.90 268.00,615.70 268.75,616.19 269.50,616.34 270.25,615.63 271.00,617.46 271.75,618.38 272.50,618.94 273.25,618.39 274.00,619.30 274.75,620.22 275.50,618.78 276.25,620.15 277.00,619.96 277.75,620.15 278.50,620.63 279.25,619.86 280.00,620.64 280.75,619.24 281.50,619.71 282.25,620.31 283.00,620.44 283.75,620.73 284.50,620.28 285.25,620.98 286.00,621.51 286.75,621.08 287.50,620.85 288.25,619.47 289.00,621.39 289.75,621.87 290.50,621.50 291.25,621.61 292.00,622.45 292.75,620.94 293.50,622.86 294.25,621.67 295.00,621.77 295.75,621.55 296.50,621.93 297.25,622.44 298.00,621.48 298.75,622.81 299.50,621.94 300.25,621.92 301.00,620.51 301.75,621.70 302.50,619.97 303.25,621.80 304.00,621.19 304.75,621.41 305.50,621.23 306.25,620.52 307.00,621.82 307.75,621.25 308.50,621.31 309.25,620.61 310.00,621.35 310.75,621.11 311.50,620.73 312.25,621.50 313.00,620.10 313.75,621.31 314.50,620.43 315.25,621.51 316.00,621.74 316.75,621.60 317.50,621.49 318.25,622.00 319.00,622.40 319.75,622.26 320.50,621.38 321.25,623.07 322.00,621.15 322.75,622.18 323.50,623.89 323.50,632.02 322.75,629.74 322.00,628.53 321.25,629.48 320.50,628.46 319.75,629.27 319.00,628.63 318.25,629.40 317.50,628.45 316.75,628.36 316.00,628.79 315.25,628.05 314.50,627.36 313.75,628.44 313.00,627.70 312.25,628.51 311.50,628.16 310.75,629.49 310.00,628.91 309.25,628.83 308.50,628.62 307.75,628.84 307.00,628.44 306.25,627.75 305.50,628.24 304.75,627.47 304.00,627.05 303.25,628.58 302.50,627.74 301.75,629.91 301.00,628.91 300.25,628.66 299.50,629.39 298.75,629.88 298.00,628.90 297.25,630.24 296.50,629.94 295.75,631.08 295.00,629.11 294.25,631.76 293.50,630.18 292.75,629.21 292.00,629.59 291.25,629.92 290.50,629.50 289.75,628.88 289.00,628.35 288.25,629.21 287.50,627.84 286.75,629.03 286.00,629.89 285.25,627.80 284.50,626.58 283.75,627.99 283.00,626.88 282.25,628.52 281.50,628.47 280.75,627.75 280.00,627.65 279.25,627.50 278.50,629.03 277.75,629.98 277.00,630.18 276.25,628.11 275.50,627.91 274.75,627.70 274.00,626.15 273.25,626.14 272.50,626.37 271.75,626.28 271.00,624.91 270.25,624.05 269.50,624.34 268.75,624.46 268.00,625.07 267.25,623.17 266.50,624.08 265.75,624.19 265.00,624.01 264.25,625.34 263.50,625.65 262.75,623.71 262.00,623.59 261.25,622.96 260.50,623.12 259.75,624.43 259.00,622.71 258.25,623.73 257.50,624.36 256.75,623.31 256.00,622.53 255.25,620.56 254.50,620.53 253.75,621.90 253.00,623.83 252.25,622.42 251.50,620.83 250.75,620.65 250.00,620.85 249.25,620.59 248.50,621.55 247.75,619.43 247.00,621.03 246.25,621.60 245.50,620.05 244.75,623.44 244.00,620.16 243.25,618.74 242.50,618.77 241.75,624.49 241.00,620.56 240.25,622.92 239.50,623.69 238.75,622.85 238.00,620.59 237.25,623.32 236.50,618.35 235.75,619.86 235.00,620.42 234.25,616.59 233.50,621.10 232.75,619.82 232.00,623.18 231.25,621.31 230.50,619.86 229.75,622.68 229.00,618.97 228.25,614.86 227.50,612.02 226.75,617.74 226.00,620.04 225.25,618.04 224.50,613.60 223.75,619.11 223.00,617.12 222.25,616.18 221.50,617.79 220.75,620.28 220.00,617.71 219.25,618.45 218.50,617.18 217.75,620.84 217.00,616.57 216.25,617.65 215.50,617.76 214.75,617.81 214.00,619.21 213.25,626.46 212.50,621.98 211.75,617.98 211.00,619.35 210.25,620.54 209.50,616.12 208.75,619.65 208.00,617.56 207.25,621.11 206.50,623.75 205.75,618.72 205.00,615.58 204.25,616.30 203.50,617.88 202.75,619.53 202.00,620.21 201.25,620.07 200.50,619.01 199.75,621.11 199.00,619.75 198.25,617.35 197.50,618.74 196.75,619.64 196.00,617.84 195.25,614.68 194.50,615.87 193.75,617.33 193.00,617.98 192.25,616.20 191.50,616.61 190.75,617.48 190.00,616.92 189.25,613.43 188.50,615.35 187.75,612.54 187.00,612.80 186.25,611.20 185.50,611.63 184.75,612.40 184.00,610.33 183.25,609.30 182.50,610.74 181.75,610.05 181.00,608.92 180.25,611.81 179.50,610.42 178.75,606.88 178.00,606.42 177.25,606.89 176.50,607.25 175.75,609.03 175.00,608.55 174.25,601.78 173.50,603.54 172.75,603.31 172.00,602.35 171.25,598.67 170.50,598.43 169.75,599.02 169.00,599.48 168.25,595.62 167.50,592.61 166.75,593.54 166.00,592.11 165.25,588.34 164.50,587.23 163.75,587.48 163.00,588.86 162.25,587.12 161.50,582.28 160.75,582.60 160.00,580.48 159.25,579.49 158.50,579.53 157.75,577.62 157.00,580.83 156.25,576.87 155.50,577.13 154.75,576.41 154.00,576.77 153.25,578.04 152.50,575.06 151.75,573.89 151.00,569.48 150.25,564.78 149.50,558.72 148.75,560.81 148.00,559.26 147.25,560.55 146.50,557.36 145.75,556.37 145.00,556.18 144.25,556.44 143.50,555.25 142.75,555.95 142.00,554.10 141.25,558.24 140.50,558.32 139.75,556.35 139.00,553.21 138.25,559.28 137.50,561.16 136.75,560.37 136.00,556.50 135.25,558.05 134.50,556.18 133.75,556.90 133.00,561.67 132.25,556.66 131.50,552.87 130.75,554.39 130.00,553.89 129.25,554.46 128.50,551.57 127.75,547.45 127.00,548.41 126.25,547.32 125.50,545.96 124.75,546.98 124.00,544.83 123.25,547.62 122.50,546.75 121.75,545.81 121.00,542.89 120.25,541.29 119.50,537.36 118.75,537.25 118.00,539.49 117.25,541.58 116.50,543.44 115.75,545.03 115.00,541.71 114.25,544.10 113.50,541.92 112.75,539.11 112.00,541.54 111.25,540.16 110.50,542.65 109.75,541.13 109.00,541.83 108.25,541.73 107.50,555.39 106.75,573.23 106.00,591.98 105.25,608.71 104.50,626.20 103.75,627.12 103.00,626.04 102.25,625.95 101.50,627.73 100.75,628.51 100.00,628.38 99.25,626.58 98.50,626.43 97.75,626.92 97.00,627.06 96.25,627.25 95.50,626.85 94.75,627.38 94.00,627.43 93.25,628.15 92.50,628.36 91.75,628.22 91.00,628.05 90.25,628.43 89.50,628.65 88.75,628.22 88.00,628.50 87.25,626.93 86.50,626.80 85.75,627.14 85.00,627.32 84.25,627.47 83.50,626.77 82.75,627.92 82.00,627.14 81.25,627.58 80.50,627.96 79.75,628.26 79.00,627.64 78.25,626.92 77.50,627.52 76.75,628.07 76.00,628.23 75.25,628.84 74.50,627.97 73.75,627.67 73.00,626.64 72.25,627.02 71.50,627.36 70.75,627.84 70.00,628.33 69.25,627.42 68.50,627.03 67.75,626.83 67.00,627.28 66.25,627.76 65.50,626.58 64.75,627.85 64.00,628.42 63.25,627.71 62.50,628.08 61.75,628.27 61.00,629.78 60.25,629.14 59.50,628.74 58.75,627.69 58.00,627.01 57.25,626.83 56.50,627.55 55.75,628.07 55.00,627.15 54.25,627.77 53.50,627.78 52.75,627.70 52.00,627.18 51.25,627.61 50.50,627.64 49.75,626.91 49.00,627.32 48.25,626.82 47.50,626.80 46.75,626.65 46.00,627.52 45.25,627.87 44.50,626.92 43.75,627.32 43.00,627.88" fill="#8a84f0" fill-opacity="0.65" stroke="none"/>
<polyline points="43.00,626.64 43.75,625.52 44.50,626.18 45.25,626.04 46.00,625.75 46.75,625.33 47.50,627.12 48.25,625.58 49.00,625.44 49.75,625.57 50.50,627.19 51.25,626.72 52.00,626.34 52.75,625.67 53.50,627.60 54.25,625.16 55.00,626.38 55.75,625.64 56.50,625.21 57.25,625.97 58.00,626.35 58.75,623.58 59.50,623.85 60.25,626.36 61.00,626.34 61.75,627.66 62.50,626.45 63.25,626.76 64.00,625.76 64.75,624.68 65.50,626.61 66.25,625.57 67.00,626.20 67.75,626.70 68.50,626.39 69.25,626.82 70.00,626.97 70.75,624.94 71.50,625.60 72.25,625.65 73.00,626.65 73.75,625.47 74.50,626.23 75.25,625.94 76.00,625.17 76.75,625.87 77.50,625.41 78.25,626.96 79.00,626.64 79.75,626.37 80.50,625.89 81.25,625.78 82.00,626.19 82.75,626.97 83.50,625.93 84.25,624.53 85.00,626.78 85.75,627.44 86.50,626.41 87.25,626.60 88.00,625.17 88.75,625.59 89.50,625.65 90.25,627.07 91.00,627.77 91.75,626.51 92.50,626.43 93.25,626.83 94.00,626.17 94.75,625.35 95.50,625.29 96.25,626.02 97.00,626.55 97.75,626.36 98.50,624.69 99.25,626.02 100.00,627.12 100.75,625.00 101.50,624.62 102.25,626.61 103.00,626.15 103.75,624.70 104.50,615.56 105.25,603.31 106.00,591.15 106.75,581.99 107.50,569.48 108.25,560.71 109.00,554.25 109.75,550.51 110.50,542.27 111.25,535.64 112.00,530.99 112.75,535.41 113.50,547.24 114.25,546.71 115.00,555.39 115.75,554.55 116.50,561.74 117.25,561.22 118.00,559.90 118.75,557.04 119.50,554.69 120.25,551.09 121.00,559.89 121.75,562.63 122.50,561.33 123.25,554.12 124.00,554.40 124.75,554.77 125.50,551.18 126.25,548.81 127.00,544.52 127.75,542.28 128.50,547.35 129.25,550.44 130.00,556.23 130.75,565.07 131.50,559.32 132.25,555.06 133.00,555.57 133.75,543.92 134.50,545.01 135.25,540.63 136.00,545.39 136.75,537.28 137.50,528.29 138.25,527.73 139.00,533.82 139.75,535.92 140.50,540.54 141.25,542.70 142.00,543.42 142.75,543.76 143.50,545.61 144.25,538.10 145.00,538.83 145.75,537.67 146.50,536.26 147.25,533.12 148.00,531.43 148.75,532.33 149.50,529.42 150.25,533.57 151.00,543.15 151.75,547.10 152.50,555.82 153.25,550.56 154.00,549.60 154.75,552.16 155.50,549.12 156.25,547.50 157.00,550.68 157.75,553.04 158.50,558.26 159.25,558.88 160.00,561.03 160.75,565.32 161.50,567.37 162.25,571.45 163.00,572.08 163.75,571.33 164.50,574.18 165.25,574.27 166.00,580.02 166.75,579.68 167.50,583.04 168.25,586.07 169.00,590.34 169.75,590.98 170.50,593.86 171.25,597.06 172.00,597.03 172.75,598.42 173.50,598.84 174.25,599.42 175.00,601.19 175.75,601.72 176.50,603.32 177.25,602.25 178.00,604.81 178.75,607.87 179.50,608.15 180.25,605.48 181.00,607.09 181.75,606.98 182.50,608.54 183.25,607.14 184.00,609.81 184.75,610.75 185.50,611.51 186.25,612.70 187.00,610.38 187.75,612.55 188.50,611.61 189.25,614.12 190.00,615.00 190.75,614.90 191.50,615.58 192.25,614.42 193.00,614.67 193.75,615.69 194.50,614.88 195.25,617.50 196.00,615.26 196.75,612.61 197.50,615.71 198.25,618.07 199.00,615.99 199.75,618.16 200.50,617.46 201.25,615.29 202.00,615.56 202.75,615.83 203.50,616.15 204.25,616.94 205.00,614.95 205.75,616.74 206.50,616.58 207.25,615.80 208.00,617.56 208.75,615.37 209.50,616.06 210.25,614.97 211.00,617.74 211.75,616.27 212.50,618.39 213.25,619.07 214.00,618.72 214.75,617.82 215.50,617.72 216.25,617.75 217.00,618.28 217.75,619.70 218.50,618.97 219.25,619.70 220.00,619.62 220.75,618.64 221.50,619.04 222.25,617.01 223.00,619.90 223.75,619.67 224.50,620.87 225.25,619.63 226.00,618.50 226.75,620.19 227.50,618.87 228.25,618.71 229.00,619.73 229.75,619.01 230.50,620.18 231.25,620.82 232.00,621.31 232.75,620.66 233.50,619.85 234.25,618.73 235.00,619.39 235.75,618.83 236.50,618.20 237.25,621.34 238.00,621.26 238.75,620.03 239.50,619.69 240.25,622.61 241.00,622.17 241.75,621.24 242.50,619.72 243.25,620.26 244.00,619.40 244.75,619.84 245.50,621.71 246.25,622.01 247.00,623.05 247.75,621.07 248.50,622.39 249.25,622.64 250.00,620.88 250.75,622.19 251.50,622.27 252.25,623.37 253.00,624.87 253.75,622.10 254.50,622.77 255.25,621.44 256.00,622.72 256.75,621.74 257.50,621.52 258.25,623.67 259.00,622.96 259.75,624.15 260.50,623.11 261.25,622.18 262.00,622.21 262.75,624.12 263.50,622.58 264.25,621.71 265.00,621.84 265.75,623.95 266.50,623.25 267.25,622.84 268.00,624.06 268.75,626.59 269.50,624.10 270.25,623.66 271.00,625.21 271.75,623.05 272.50,625.15 273.25,625.92 274.00,626.45 274.75,625.53 275.50,626.87 276.25,626.28 277.00,626.37 277.75,625.49 278.50,625.88 279.25,626.56 280.00,624.98 280.75,624.24 281.50,626.63 282.25,629.51 283.00,627.73 283.75,626.82 284.50,624.85 285.25,625.97 286.00,624.80 286.75,627.36 287.50,625.96 288.25,626.00 289.00,626.18 289.75,626.00 290.50,626.97 291.25,626.43 292.00,625.89 292.75,625.41 293.50,626.23 294.25,624.96 295.00,626.26 295.75,626.84 296.50,627.53 297.25,627.21 298.00,627.00 298.75,625.71 299.50,626.06 300.25,625.93 301.00,627.38 301.75,628.57 302.50,628.22 303.25,629.58 304.00,628.72 304.75,627.52 305.50,626.81 306.25,627.33 307.00,627.63 307.75,626.40 308.50,625.89 309.25,626.47 310.00,628.57 310.75,626.87 311.50,628.36 312.25,628.09 313.00,628.95 313.75,627.12 314.50,625.87 315.25,627.47 316.00,628.62 316.75,628.07 317.50,629.40 318.25,625.28 319.00,622.54 319.75,625.85 320.50,623.72 321.25,626.81 322.00,628.30" fill="none" stroke="#d41414" stroke-width="2.2" stroke-linejoin="round"/>
<polyline points="43.00,625.49 43.75,625.68 44.50,624.79 45.25,624.55 46.00,623.20 46.75,622.54 47.50,625.13 48.25,625.71 49.00,626.83 49.75,625.49 50.50,625.20 51.25,626.71 52.00,626.85 52.75,625.33 53.50,627.37 54.25,626.01 55.00,626.27 55.75,626.56 56.50,624.87 57.25,624.24 58.00,624.43 58.75,626.32 59.50,625.45 60.25,625.14 61.00,624.97 61.75,625.55 62.50,625.15 63.25,625.10 64.00,626.25 64.75,624.88 65.50,626.79 66.25,626.20 67.00,626.11 67.75,624.33 68.50,624.54 69.25,626.40 70.00,628.13 70.75,626.79 71.50,626.34 72.25,626.20 73.00,624.91 73.75,624.51 74.50,625.29 75.25,626.44 76.00,625.63 76.75,626.21 77.50,625.48 78.25,624.65 79.00,624.99 79.75,625.34 80.50,623.64 81.25,624.30 82.00,624.08 82.75,624.89 83.50,626.03 84.25,624.96 85.00,624.72 85.75,625.61 86.50,624.73 87.25,624.79 88.00,624.88 88.75,624.22 89.50,623.91 90.25,623.93 91.00,624.98 91.75,624.10 92.50,623.29 93.25,623.20 94.00,621.12 94.75,622.09 95.50,621.52 96.25,621.91 97.00,621.96 97.75,623.07 98.50,622.52 99.25,622.68 100.00,622.68 100.75,622.54 101.50,619.82 102.25,620.55 103.00,620.19 103.75,621.27 104.50,618.28 105.25,604.80 106.00,593.48 106.75,585.46 107.50,570.84 108.25,566.25 109.00,561.88 109.75,560.13 110.50,558.04 111.25,556.46 112.00,558.39 112.75,556.92 113.50,551.83 114.25,550.29 115.00,544.10 115.75,553.54 116.50,545.28 117.25,544.87 118.00,542.75 118.75,551.60 119.50,546.40 120.25,544.67 121.00,546.07 121.75,542.98 122.50,544.26 123.25,549.37 124.00,555.91 124.75,554.88 125.50,553.62 126.25,558.07 127.00,553.58 127.75,555.91 128.50,559.80 129.25,562.57 130.00,559.34 130.75,562.88 131.50,561.53 132.25,565.70 133.00,567.59 133.75,562.43 134.50,570.17 135.25,566.65 136.00,566.29 136.75,568.37 137.50,563.70 138.25,564.39 139.00,561.09 139.75,561.84 140.50,563.01 141.25,566.45 142.00,566.08 142.75,564.60 143.50,563.88 144.25,558.15 145.00,560.49 145.75,557.18 146.50,555.86 147.25,556.11 148.00,558.25 148.75,559.63 149.50,562.11 150.25,562.57 151.00,562.40 151.75,565.72 152.50,561.54 153.25,563.40 154.00,560.85 154.75,566.99 155.50,563.90 156.25,557.88 157.00,561.12 157.75,551.32 158.50,550.76 159.25,554.49 160.00,558.40 160.75,560.23 161.50,563.30 162.25,562.62 163.00,564.88 163.75,572.33 164.50,565.09 165.25,569.38 166.00,568.91 166.75,569.91 167.50,575.88 168.25,577.31 169.00,575.74 169.75,576.35 170.50,582.71 171.25,583.10 172.00,570.86 172.75,576.10 173.50,577.18 174.25,582.40 175.00,582.87 175.75,586.01 176.50,583.85 177.25,586.05 178.00,587.40 178.75,588.46 179.50,596.00 180.25,594.71 181.00,596.18 181.75,596.91 182.50,594.99 183.25,600.02 184.00,601.49 184.75,602.27 185.50,602.81 186.25,601.84 187.00,605.29 187.75,606.27 188.50,604.47 189.25,602.79 190.00,607.12 190.75,607.32 191.50,608.27 192.25,610.18 193.00,610.37 193.75,611.31 194.50,610.35 195.25,609.29 196.00,612.17 196.75,611.82 197.50,609.97 198.25,610.29 199.00,609.72 199.75,613.83 200.50,614.20 201.25,614.52 202.00,617.57 202.75,614.89 203.50,614.48 204.25,613.59 205.00,616.38 205.75,614.03 206.50,614.04 207.25,614.83 208.00,614.00 208.75,612.22 209.50,614.52 210.25,615.85 211.00,615.65 211.75,616.54 212.50,616.48 213.25,615.72 214.00,617.83 214.75,617.88 215.50,618.94 216.25,618.08 217.00,618.60 217.75,619.75 218.50,615.58 219.25,615.81 220.00,616.82 220.75,618.01 221.50,620.80 222.25,620.30 223.00,618.17 223.75,618.88 224.50,620.14 225.25,619.98 226.00,616.87 226.75,617.94 227.50,620.48 228.25,618.54 229.00,623.69 229.75,622.81 230.50,623.46 231.25,620.19 232.00,622.24 232.75,622.48 233.50,620.12 234.25,620.75 235.00,619.87 235.75,618.37 236.50,620.43 237.25,620.60 238.00,621.14 238.75,622.25 239.50,622.93 240.25,624.25 241.00,623.97 241.75,620.52 242.50,622.88 243.25,621.76 244.00,621.76 244.75,621.69 245.50,619.46 246.25,621.39 247.00,620.31 247.75,622.54 248.50,623.68 249.25,625.83 250.00,625.52 250.75,623.64 251.50,622.34 252.25,623.33 253.00,622.73 253.75,623.48 254.50,623.39 255.25,620.46 256.00,622.56 256.75,621.00 257.50,621.46 258.25,621.52 259.00,622.93 259.75,624.63 260.50,624.40 261.25,622.48 262.00,621.09 262.75,620.27 263.50,622.86 264.25,620.92 265.00,622.75 265.75,622.79 266.50,621.82 267.25,624.15 268.00,622.86 268.75,622.61 269.50,624.77 270.25,622.27 271.00,624.22 271.75,623.99 272.50,622.36 273.25,621.63 274.00,621.68 274.75,622.34 275.50,623.19 276.25,623.95 277.00,625.75 277.75,623.23 278.50,624.16 279.25,623.19 280.00,622.29 280.75,623.56 281.50,624.16 282.25,624.18 283.00,625.41 283.75,623.52 284.50,623.86 285.25,625.23 286.00,626.20 286.75,624.76 287.50,624.02 288.25,623.56 289.00,624.05 289.75,623.09 290.50,618.76 291.25,614.40 292.00,614.61 292.75,616.56 293.50,619.70 294.25,618.74 295.00,622.10 295.75,623.13 296.50,621.03 297.25,621.78 298.00,620.19 298.75,620.91 299.50,620.74 300.25,619.29 301.00,620.89 301.75,621.77 302.50,621.77 303.25,622.86 304.00,622.67 304.75,622.79 305.50,622.05 306.25,623.30 307.00,621.29 307.75,622.37 308.50,624.05 309.25,624.41 310.00,622.84 310.75,626.85 311.50,625.04 312.25,623.42 313.00,622.14 313.75,623.32 314.50,623.26 315.25,624.54 316.00,621.77 316.75,622.03 317.50,624.82 318.25,625.21 319.00,626.88 319.75,625.02 320.50,624.34 321.25,624.02 322.00,624.88 322.75,625.92" fill="none" stroke="#4cbc18" stroke-width="2.2" stroke-linejoin="round"/>
<polyline points="43.00,626.51 43.75,625.75 44.50,625.37 45.25,625.96 46.00,625.90 46.75,625.22 47.50,625.36 48.25,624.91 49.00,625.81 49.75,625.25 50.50,625.43 51.25,625.70 52.00,625.50 52.75,625.99 53.50,625.96 54.25,625.89 55.00,625.57 55.75,626.07 56.50,625.85 57.25,625.09 58.00,624.54 58.75,624.74 59.50,625.89 60.25,625.97 61.00,626.27 61.75,625.67 62.50,626.24 63.25,626.18 64.00,627.04 64.75,626.52 65.50,625.31 66.25,626.21 67.00,625.50 67.75,624.89 68.50,625.29 69.25,625.48 70.00,625.90 70.75,625.69 71.50,625.57 72.25,625.52 73.00,625.26 73.75,626.29 74.50,626.04 75.25,626.52 76.00,626.32 76.75,626.48 77.50,625.92 78.25,625.34 79.00,625.37 79.75,626.16 80.50,626.06 81.25,625.66 82.00,625.37 82.75,626.02 83.50,625.27 84.25,625.96 85.00,625.74 85.75,625.73 86.50,625.26 87.25,625.27 88.00,626.20 88.75,626.09 89.50,626.35 90.25,626.31 91.00,625.83 91.75,625.35 92.50,625.78 93.25,625.74 94.00,624.93 94.75,625.01 95.50,625.03 96.25,625.52 97.00,625.17 97.75,625.01 98.50,624.91 99.25,624.24 100.00,626.37 100.75,625.89 101.50,625.69 102.25,624.18 103.00,624.16 103.75,624.62 104.50,623.80 105.25,605.52 106.00,586.15 106.75,566.17 107.50,545.07 108.25,533.06 109.00,533.81 109.75,533.49 110.50,534.69 111.25,531.45 112.00,531.35 112.75,530.82 113.50,532.32 114.25,532.79 115.00,531.53 115.75,530.78 116.50,530.39 117.25,530.25 118.00,530.21 118.75,528.76 119.50,529.44 120.25,530.75 121.00,533.83 121.75,534.06 122.50,535.98 123.25,535.61 124.00,534.71 124.75,538.03 125.50,538.33 126.25,539.10 127.00,539.56 127.75,538.53 128.50,540.96 129.25,543.43 130.00,540.93 130.75,544.14 131.50,543.98 132.25,544.57 133.00,546.38 133.75,545.01 134.50,544.14 135.25,545.80 136.00,547.37 136.75,548.89 137.50,550.41 138.25,549.66 139.00,545.37 139.75,546.69 140.50,548.71 141.25,549.77 142.00,546.14 142.75,545.98 143.50,546.55 144.25,548.16 145.00,548.57 145.75,547.86 146.50,546.71 147.25,549.26 148.00,550.33 148.75,549.62 149.50,549.88 150.25,552.27 151.00,559.25 151.75,562.67 152.50,564.17 153.25,565.18 154.00,565.49 154.75,566.68 155.50,569.04 156.25,569.56 157.00,571.31 157.75,568.59 158.50,569.15 159.25,570.12 160.00,572.14 160.75,572.21 161.50,572.89 162.25,575.29 163.00,577.13 163.75,578.55 164.50,579.83 165.25,581.46 166.00,584.40 166.75,584.94 167.50,585.78 168.25,586.14 169.00,589.03 169.75,588.64 170.50,590.33 171.25,589.35 172.00,591.36 172.75,593.09 173.50,593.39 174.25,593.72 175.00,596.23 175.75,598.59 176.50,598.22 177.25,598.22 178.00,598.92 178.75,600.49 179.50,602.54 180.25,603.50 181.00,601.91 181.75,602.36 182.50,602.53 183.25,602.32 184.00,601.41 184.75,602.61 185.50,602.73 186.25,602.60 187.00,603.95 187.75,604.41 188.50,605.12 189.25,604.77 190.00,606.36 190.75,605.57 191.50,606.51 192.25,607.20 193.00,607.59 193.75,604.58 194.50,605.05 195.25,603.67 196.00,607.15 196.75,608.80 197.50,607.91 198.25,606.49 199.00,607.74 199.75,608.43 200.50,608.40 201.25,607.93 202.00,609.99 202.75,608.74 203.50,608.56 204.25,605.65 205.00,606.13 205.75,606.82 206.50,611.12 207.25,610.91 208.00,608.02 208.75,609.06 209.50,606.66 210.25,606.34 211.00,607.54 211.75,607.16 212.50,609.73 213.25,609.74 214.00,607.28 214.75,606.65 215.50,607.85 216.25,607.58 217.00,607.04 217.75,608.31 218.50,606.53 219.25,605.67 220.00,607.01 220.75,607.81 221.50,607.52 222.25,605.80 223.00,605.93 223.75,605.81 224.50,603.58 225.25,606.12 226.00,608.56 226.75,608.32 227.50,603.46 228.25,604.88 229.00,607.14 229.75,609.01 230.50,609.33 231.25,609.69 232.00,609.92 232.75,609.72 233.50,613.15 234.25,609.00 235.00,609.66 235.75,610.41 236.50,610.65 237.25,611.46 238.00,609.69 238.75,609.85 239.50,612.18 240.25,611.23 241.00,612.19 241.75,614.07 242.50,611.11 243.25,611.82 244.00,612.24 244.75,613.16 245.50,612.76 246.25,614.53 247.00,613.86 247.75,613.44 248.50,615.18 249.25,614.19 250.00,614.46 250.75,615.36 251.50,615.05 252.25,615.75 253.00,615.83 253.75,616.24 254.50,614.85 255.25,615.56 256.00,617.21 256.75,617.37 257.50,617.69 258.25,617.30 259.00,616.89 259.75,618.94 260.50,618.70 261.25,618.87 262.00,619.68 262.75,619.81 263.50,621.07 264.25,619.98 265.00,619.85 265.75,620.52 266.50,620.61 267.25,619.93 268.00,620.84 268.75,620.50 269.50,620.52 270.25,619.85 271.00,621.22 271.75,621.94 272.50,622.95 273.25,622.11 274.00,622.57 274.75,624.32 275.50,623.78 276.25,623.81 277.00,624.61 277.75,624.34 278.50,624.50 279.25,623.73 280.00,624.34 280.75,624.20 281.50,623.93 282.25,624.18 283.00,623.58 283.75,624.75 284.50,623.84 285.25,624.09 286.00,624.93 286.75,624.91 287.50,624.62 288.25,624.23 289.00,624.73 289.75,624.86 290.50,625.25 291.25,625.47 292.00,625.67 292.75,625.65 293.50,626.36 294.25,626.29 295.00,625.22 295.75,625.63 296.50,625.26 297.25,625.59 298.00,624.26 298.75,625.62 299.50,625.24 300.25,625.46 301.00,625.28 301.75,625.61 302.50,624.18 303.25,624.96 304.00,624.00 304.75,624.70 305.50,625.20 306.25,624.23 307.00,625.53 307.75,624.76 308.50,624.76 309.25,625.29 310.00,625.47 310.75,625.02 311.50,624.57 312.25,625.00 313.00,623.80 313.75,624.75 314.50,624.37 315.25,625.03 316.00,624.95 316.75,625.23 317.50,625.34 318.25,625.06 319.00,625.14 319.75,625.17 320.50,624.46 321.25,625.97 322.00,625.47 322.75,625.77 323.50,627.27" fill="none" stroke="#2a1ed0" stroke-width="2.6" stroke-linejoin="round"/>
<line x1="230.10" y1="505.00" x2="255.70" y2="505.00" stroke="#b0303c" stroke-width="1.6" stroke-linecap="butt"/>
<line x1="230.10" y1="523.80" x2="255.70" y2="523.80" stroke="#7ea050" stroke-width="1.6" stroke-linecap="butt"/>
<line x1="230.10" y1="543.00" x2="255.70" y2="543.00" stroke="#3232b4" stroke-width="1.6" stroke-linecap="butt"/>
<text x="263.00" y="511.60" font-size="12.3" text-anchor="start" fill="#000">WT</text>
<text x="261.20" y="528.90" font-size="12.3" text-anchor="start" fill="#000" font-style="italic">unc-31</text>
<text x="261.20" y="545.70" font-size="12.3" text-anchor="start" fill="#000" font-style="italic">unc-13</text>
<text x="0.30" y="692.00" font-size="13" text-anchor="start" fill="#000" font-weight="bold">H</text>
<line x1="42.40" y1="695.00" x2="42.40" y2="850.00" stroke="#000" stroke-width="2.0" stroke-linecap="butt"/>
<line x1="38.60" y1="848.95" x2="42.40" y2="848.95" stroke="#000" stroke-width="2.0" stroke-linecap="butt"/>
<text x="31.80" y="852.45" font-size="12" text-anchor="end" fill="#000">-1</text>
<line x1="38.60" y1="823.40" x2="42.40" y2="823.40" stroke="#000" stroke-width="2.0" stroke-linecap="butt"/>
<text x="31.80" y="826.90" font-size="12" text-anchor="end" fill="#000">0</text>
<line x1="38.60" y1="797.85" x2="42.40" y2="797.85" stroke="#000" stroke-width="2.0" stroke-linecap="butt"/>
<text x="31.80" y="801.35" font-size="12" text-anchor="end" fill="#000">1</text>
<line x1="38.60" y1="772.30" x2="42.40" y2="772.30" stroke="#000" stroke-width="2.0" stroke-linecap="butt"/>
<text x="31.80" y="775.80" font-size="12" text-anchor="end" fill="#000">2</text>
<line x1="38.60" y1="746.75" x2="42.40" y2="746.75" stroke="#000" stroke-width="2.0" stroke-linecap="butt"/>
<text x="31.80" y="750.25" font-size="12" text-anchor="end" fill="#000">3</text>
<line x1="38.60" y1="721.20" x2="42.40" y2="721.20" stroke="#000" stroke-width="2.0" stroke-linecap="butt"/>
<text x="31.80" y="724.70" font-size="12" text-anchor="end" fill="#000">4</text>
<line x1="38.60" y1="695.65" x2="42.40" y2="695.65" stroke="#000" stroke-width="2.0" stroke-linecap="butt"/>
<text x="31.80" y="699.15" font-size="12" text-anchor="end" fill="#000">5</text>
<text x="21.40" y="774.25" font-size="12.3" text-anchor="middle" fill="#000" transform="rotate(-90 21.40 774.25)">GCaMP ΔR/R (fold)</text>
<text x="48.10" y="693.40" font-size="11.8" text-anchor="start" fill="#c03434">PVD</text>
<line x1="104.10" y1="717.70" x2="158.00" y2="717.70" stroke="#2a26c8" stroke-width="2.6" stroke-linecap="butt"/>
<text x="132.00" y="713.70" font-size="12.3" text-anchor="middle" fill="#000">Sound</text>
<line x1="279.90" y1="845.70" x2="333.80" y2="845.70" stroke="#000" stroke-width="2.0" stroke-linecap="butt"/>
<text x="306.80" y="843.50" font-size="12.3" text-anchor="middle" fill="#000">10 s</text>
<polygon points="43.00,822.38 43.75,822.49 44.50,821.50 45.25,822.30 46.00,821.65 46.75,822.63 47.50,822.54 48.25,821.80 49.00,821.73 49.75,820.78 50.50,821.20 51.25,819.92 52.00,821.20 52.75,822.49 53.50,821.82 54.25,821.89 55.00,820.81 55.75,820.48 56.50,821.15 57.25,821.34 58.00,821.11 58.75,820.96 59.50,821.84 60.25,821.13 61.00,820.79 61.75,820.39 62.50,821.48 63.25,822.13 64.00,821.42 64.75,821.76 65.50,822.17 66.25,822.21 67.00,821.84 67.75,820.83 68.50,821.19 69.25,821.23 70.00,822.16 70.75,822.26 71.50,821.89 72.25,821.28 73.00,821.11 73.75,821.72 74.50,821.92 75.25,820.86 76.00,821.26 76.75,821.82 77.50,821.40 78.25,821.38 79.00,820.88 79.75,821.52 80.50,821.27 81.25,821.96 82.00,821.87 82.75,822.02 83.50,822.27 84.25,820.68 85.00,821.27 85.75,821.81 86.50,822.09 87.25,822.32 88.00,821.65 88.75,820.94 89.50,821.29 90.25,822.02 91.00,820.90 91.75,821.05 92.50,820.84 93.25,820.82 94.00,820.93 94.75,821.87 95.50,822.75 96.25,820.69 97.00,821.59 97.75,821.57 98.50,821.68 99.25,821.61 100.00,821.29 100.75,821.04 101.50,821.13 102.25,819.70 103.00,819.49 103.75,819.99 104.50,815.59 105.25,807.30 106.00,799.72 106.75,789.34 107.50,783.16 108.25,776.95 109.00,774.39 109.75,773.49 110.50,768.57 111.25,766.52 112.00,759.43 112.75,758.87 113.50,754.49 114.25,755.78 115.00,759.40 115.75,764.10 116.50,763.74 117.25,765.50 118.00,763.10 118.75,761.26 119.50,762.47 120.25,759.39 121.00,755.17 121.75,756.86 122.50,760.51 123.25,760.23 124.00,761.24 124.75,761.27 125.50,756.89 126.25,756.41 127.00,761.78 127.75,763.84 128.50,764.67 129.25,759.48 130.00,764.14 130.75,767.40 131.50,769.16 132.25,773.18 133.00,767.67 133.75,771.92 134.50,776.13 135.25,776.00 136.00,775.52 136.75,771.93 137.50,770.59 138.25,769.77 139.00,774.58 139.75,771.52 140.50,773.08 141.25,771.31 142.00,772.48 142.75,773.29 143.50,776.92 144.25,775.73 145.00,770.41 145.75,773.49 146.50,778.26 147.25,776.46 148.00,776.33 148.75,777.26 149.50,770.96 150.25,776.16 151.00,780.53 151.75,779.08 152.50,779.95 153.25,773.91 154.00,774.87 154.75,778.64 155.50,778.58 156.25,777.67 157.00,779.66 157.75,779.93 158.50,778.96 159.25,778.59 160.00,776.21 160.75,781.14 161.50,781.07 162.25,778.28 163.00,780.69 163.75,781.64 164.50,780.05 165.25,776.96 166.00,774.32 166.75,779.89 167.50,781.05 168.25,781.97 169.00,777.43 169.75,782.60 170.50,785.01 171.25,784.62 172.00,786.23 172.75,787.91 173.50,786.74 174.25,787.59 175.00,788.82 175.75,791.95 176.50,789.06 177.25,788.56 178.00,789.41 178.75,794.35 179.50,794.15 180.25,793.44 181.00,794.45 181.75,793.73 182.50,791.83 183.25,794.17 184.00,793.54 184.75,797.00 185.50,795.35 186.25,796.37 187.00,799.28 187.75,799.13 188.50,798.92 189.25,798.96 190.00,799.35 190.75,798.63 191.50,801.27 192.25,801.87 193.00,802.96 193.75,801.71 194.50,800.69 195.25,801.97 196.00,805.05 196.75,803.09 197.50,802.22 198.25,801.79 199.00,803.43 199.75,804.16 200.50,803.46 201.25,803.84 202.00,804.86 202.75,804.47 203.50,805.25 204.25,807.23 205.00,808.39 205.75,809.00 206.50,809.84 207.25,809.44 208.00,809.16 208.75,807.30 209.50,807.90 210.25,808.43 211.00,810.18 211.75,808.06 212.50,808.87 213.25,809.87 214.00,809.56 214.75,810.34 215.50,811.99 216.25,813.08 217.00,812.64 217.75,811.61 218.50,812.61 219.25,813.45 220.00,812.76 220.75,812.02 221.50,812.04 222.25,812.62 223.00,814.77 223.75,813.53 224.50,812.96 225.25,812.59 226.00,812.04 226.75,813.49 227.50,815.25 228.25,814.73 229.00,815.01 229.75,813.56 230.50,815.50 231.25,816.11 232.00,816.65 232.75,816.69 233.50,815.59 234.25,816.00 235.00,816.40 235.75,817.42 236.50,817.02 237.25,815.93 238.00,816.57 238.75,815.86 239.50,815.03 240.25,816.73 241.00,817.68 241.75,817.74 242.50,817.62 243.25,817.46 244.00,816.86 244.75,816.00 245.50,817.64 246.25,817.53 247.00,816.84 247.75,818.07 248.50,817.50 249.25,818.84 250.00,816.23 250.75,817.64 251.50,817.76 252.25,820.00 253.00,820.90 253.75,818.27 254.50,818.41 255.25,818.95 256.00,819.54 256.75,817.00 257.50,817.50 258.25,819.53 259.00,819.37 259.75,819.75 260.50,819.92 261.25,819.01 262.00,817.74 262.75,819.39 263.50,819.15 264.25,819.42 265.00,820.43 265.75,819.58 266.50,818.77 267.25,819.21 268.00,819.56 268.75,820.38 269.50,821.09 270.25,820.60 271.00,819.20 271.75,820.01 272.50,819.81 273.25,819.01 274.00,819.58 274.75,819.59 275.50,820.76 276.25,820.23 277.00,821.11 277.75,821.58 278.50,820.80 279.25,820.58 280.00,821.30 280.75,820.22 281.50,820.74 282.25,821.32 283.00,820.68 283.75,821.04 284.50,820.01 285.25,820.19 286.00,820.38 286.75,820.24 287.50,820.81 288.25,821.15 289.00,820.85 289.75,820.97 290.50,821.92 291.25,820.50 292.00,820.84 292.75,820.68 293.50,821.51 294.25,821.54 295.00,822.44 295.75,821.40 296.50,820.82 297.25,821.59 298.00,821.77 298.75,821.19 299.50,821.76 300.25,822.89 301.00,821.62 301.75,822.23 302.50,823.48 303.25,823.49 304.00,822.74 304.75,823.14 305.50,822.13 306.25,821.68 307.00,821.41 307.75,822.17 308.50,822.35 309.25,822.34 310.00,823.80 310.75,822.95 311.50,821.77 312.25,822.29 313.00,821.91 313.75,821.78 314.50,821.48 315.25,821.38 316.00,822.53 316.75,822.50 317.50,821.49 318.25,822.12 319.00,822.20 319.75,821.65 320.50,822.60 321.25,822.54 322.00,821.89 322.75,822.34 323.50,823.28 324.25,821.87 325.00,821.39 325.75,822.04 326.50,821.98 327.25,821.01 327.25,828.00 326.50,827.39 325.75,827.78 325.00,826.41 324.25,827.18 323.50,828.33 322.75,827.59 322.00,827.66 321.25,827.94 320.50,828.09 319.75,827.28 319.00,827.44 318.25,827.96 317.50,828.10 316.75,828.22 316.00,827.73 315.25,828.20 314.50,827.39 313.75,827.79 313.00,827.43 312.25,826.85 311.50,827.02 310.75,827.93 310.00,828.74 309.25,826.53 308.50,827.57 307.75,827.16 307.00,826.96 306.25,827.07 305.50,828.13 304.75,828.24 304.00,828.65 303.25,828.35 302.50,828.87 301.75,828.45 301.00,826.88 300.25,827.53 299.50,826.81 298.75,825.91 298.00,826.29 297.25,826.52 296.50,826.22 295.75,826.52 295.00,827.09 294.25,828.04 293.50,827.58 292.75,826.02 292.00,825.53 291.25,825.70 290.50,827.31 289.75,827.21 289.00,826.17 288.25,826.45 287.50,825.62 286.75,825.63 286.00,825.95 285.25,825.17 284.50,825.03 283.75,825.68 283.00,825.05 282.25,826.23 281.50,825.40 280.75,824.57 280.00,825.28 279.25,824.73 278.50,825.72 277.75,825.81 277.00,825.63 276.25,825.83 275.50,825.48 274.75,825.70 274.00,824.55 273.25,824.69 272.50,824.92 271.75,824.99 271.00,825.30 270.25,825.62 269.50,824.91 268.75,824.65 268.00,825.08 267.25,825.07 266.50,824.39 265.75,824.67 265.00,825.24 264.25,824.50 263.50,824.42 262.75,824.36 262.00,823.43 261.25,824.57 260.50,824.51 259.75,825.23 259.00,824.27 258.25,825.68 257.50,824.21 256.75,823.55 256.00,824.40 255.25,824.25 254.50,823.73 253.75,824.55 253.00,826.20 252.25,826.26 251.50,823.90 250.75,824.23 250.00,821.90 249.25,823.75 248.50,823.66 247.75,823.79 247.00,822.88 246.25,823.05 245.50,824.05 244.75,821.95 244.00,823.50 243.25,823.12 242.50,823.52 241.75,823.49 241.00,824.35 240.25,824.45 239.50,823.03 238.75,824.78 238.00,824.39 237.25,822.01 236.50,822.52 235.75,823.28 235.00,822.34 234.25,822.90 233.50,820.83 232.75,822.07 232.00,823.27 231.25,821.86 230.50,821.81 229.75,821.02 229.00,821.03 228.25,821.45 227.50,821.55 226.75,820.02 226.00,819.86 225.25,820.77 224.50,820.13 223.75,821.00 223.00,820.60 222.25,819.61 221.50,819.23 220.75,820.36 220.00,819.21 219.25,820.32 218.50,820.10 217.75,819.47 217.00,818.12 216.25,818.91 215.50,818.86 214.75,817.98 214.00,819.12 213.25,819.10 212.50,817.86 211.75,818.57 211.00,819.29 210.25,819.00 209.50,818.34 208.75,817.13 208.00,817.17 207.25,818.82 206.50,819.82 205.75,818.10 205.00,817.51 204.25,817.34 203.50,816.36 202.75,816.48 202.00,815.75 201.25,817.10 200.50,816.59 199.75,815.36 199.00,814.36 198.25,814.13 197.50,814.93 196.75,815.26 196.00,815.36 195.25,815.45 194.50,816.14 193.75,814.53 193.00,818.72 192.25,813.26 191.50,814.79 190.75,813.88 190.00,813.16 189.25,813.96 188.50,813.91 187.75,817.93 187.00,814.63 186.25,812.24 185.50,812.05 184.75,813.62 184.00,810.70 183.25,813.26 182.50,811.24 181.75,810.57 181.00,810.92 180.25,811.50 179.50,810.19 178.75,810.68 178.00,807.94 177.25,808.91 176.50,807.52 175.75,807.94 175.00,806.12 174.25,805.76 173.50,805.40 172.75,807.45 172.00,803.16 171.25,805.80 170.50,808.53 169.75,804.09 169.00,807.33 168.25,807.93 167.50,808.07 166.75,804.94 166.00,803.69 165.25,799.91 164.50,807.56 163.75,804.10 163.00,803.02 162.25,802.66 161.50,802.21 160.75,803.42 160.00,798.83 159.25,801.98 158.50,799.72 157.75,804.78 157.00,805.92 156.25,805.69 155.50,804.48 154.75,806.70 154.00,807.32 153.25,804.49 152.50,807.66 151.75,809.52 151.00,803.80 150.25,801.96 149.50,802.95 148.75,803.01 148.00,808.14 147.25,805.86 146.50,807.08 145.75,805.57 145.00,801.06 144.25,804.50 143.50,807.94 142.75,802.34 142.00,798.84 141.25,797.02 140.50,801.61 139.75,800.66 139.00,800.39 138.25,795.77 137.50,798.89 136.75,804.59 136.00,800.13 135.25,806.01 134.50,803.56 133.75,797.12 133.00,798.07 132.25,796.72 131.50,797.69 130.75,798.46 130.00,791.06 129.25,792.20 128.50,792.68 127.75,792.05 127.00,786.57 126.25,783.60 125.50,784.26 124.75,786.25 124.00,784.52 123.25,785.29 122.50,789.22 121.75,782.83 121.00,786.00 120.25,789.24 119.50,793.99 118.75,789.83 118.00,791.57 117.25,786.79 116.50,786.32 115.75,784.88 115.00,783.88 114.25,783.32 113.50,780.26 112.75,784.39 112.00,783.15 111.25,783.97 110.50,786.37 109.75,789.84 109.00,790.69 108.25,790.64 107.50,797.72 106.75,802.21 106.00,809.94 105.25,815.88 104.50,821.92 103.75,826.00 103.00,825.31 102.25,824.69 101.50,824.64 100.75,824.75 100.00,825.16 99.25,825.42 98.50,825.67 97.75,825.33 97.00,825.15 96.25,825.51 95.50,826.31 94.75,826.01 94.00,826.15 93.25,825.09 92.50,824.54 91.75,824.53 91.00,824.41 90.25,825.66 89.50,825.12 88.75,825.20 88.00,825.14 87.25,826.66 86.50,825.69 85.75,825.60 85.00,825.29 84.25,824.84 83.50,825.98 82.75,826.24 82.00,825.65 81.25,825.79 80.50,825.53 79.75,825.40 79.00,825.55 78.25,825.23 77.50,825.05 76.75,825.67 76.00,825.48 75.25,824.57 74.50,825.36 73.75,825.02 73.00,824.92 72.25,824.88 71.50,825.43 70.75,825.66 70.00,825.58 69.25,825.37 68.50,824.24 67.75,823.92 67.00,825.69 66.25,826.89 65.50,825.72 64.75,825.50 64.00,824.53 63.25,826.04 62.50,825.57 61.75,825.38 61.00,824.44 60.25,825.26 59.50,825.63 58.75,824.95 58.00,825.65 57.25,824.69 56.50,825.14 55.75,824.91 55.00,825.87 54.25,825.46 53.50,825.35 52.75,825.85 52.00,825.05 51.25,824.07 50.50,825.48 49.75,825.14 49.00,825.91 48.25,826.34 47.50,825.67 46.75,825.99 46.00,826.09 45.25,825.75 44.50,825.54 43.75,825.51 43.00,825.42" fill="#8a84f0" fill-opacity="0.7" stroke="none"/>
<polygon points="43.00,821.66 43.75,821.99 44.50,821.83 45.25,819.33 46.00,820.55 46.75,819.52 47.50,820.40 48.25,820.50 49.00,821.38 49.75,821.32 50.50,820.73 51.25,822.22 52.00,820.66 52.75,820.02 53.50,820.12 54.25,822.06 55.00,819.96 55.75,821.08 56.50,820.95 57.25,821.91 58.00,823.46 58.75,818.55 59.50,820.30 60.25,820.69 61.00,820.57 61.75,819.27 62.50,820.02 63.25,819.22 64.00,817.76 64.75,817.80 65.50,819.62 66.25,820.98 67.00,818.81 67.75,821.05 68.50,821.47 69.25,820.75 70.00,822.75 70.75,820.60 71.50,821.24 72.25,820.57 73.00,818.98 73.75,820.56 74.50,821.11 75.25,819.27 76.00,820.31 76.75,819.39 77.50,819.71 78.25,820.15 79.00,820.36 79.75,820.80 80.50,819.76 81.25,820.87 82.00,820.00 82.75,819.75 83.50,820.49 84.25,821.20 85.00,818.79 85.75,819.29 86.50,819.48 87.25,821.34 88.00,819.72 88.75,823.22 89.50,821.44 90.25,819.10 91.00,819.93 91.75,820.09 92.50,819.84 93.25,820.21 94.00,818.83 94.75,818.91 95.50,820.23 96.25,819.05 97.00,817.52 97.75,817.54 98.50,818.36 99.25,816.49 100.00,814.19 100.75,814.33 101.50,813.06 102.25,814.90 103.00,813.95 103.75,813.93 104.50,808.88 105.25,797.03 106.00,789.17 106.75,772.09 107.50,765.85 108.25,755.87 109.00,757.92 109.75,759.88 110.50,757.68 111.25,759.19 112.00,754.44 112.75,756.75 113.50,754.30 114.25,751.74 115.00,754.58 115.75,750.14 116.50,752.69 117.25,743.90 118.00,750.69 118.75,743.48 119.50,746.06 120.25,749.50 121.00,750.96 121.75,753.82 122.50,739.39 123.25,741.01 124.00,746.65 124.75,741.57 125.50,740.66 126.25,737.99 127.00,736.20 127.75,726.08 128.50,728.73 129.25,726.43 130.00,726.29 130.75,726.80 131.50,729.08 132.25,727.93 133.00,729.49 133.75,729.25 134.50,733.54 135.25,738.65 136.00,733.46 136.75,729.59 137.50,733.46 138.25,731.89 139.00,732.27 139.75,738.07 140.50,738.90 141.25,742.71 142.00,738.89 142.75,739.97 143.50,742.94 144.25,741.61 145.00,740.61 145.75,744.70 146.50,738.47 147.25,737.30 148.00,731.37 148.75,732.88 149.50,733.90 150.25,735.02 151.00,739.24 151.75,732.06 152.50,737.71 153.25,741.91 154.00,739.01 154.75,738.51 155.50,741.07 156.25,742.82 157.00,745.42 157.75,746.28 158.50,743.61 159.25,749.77 160.00,748.04 160.75,750.85 161.50,747.94 162.25,746.45 163.00,748.35 163.75,756.63 164.50,750.45 165.25,749.53 166.00,755.56 166.75,761.02 167.50,759.88 168.25,758.38 169.00,763.48 169.75,762.52 170.50,757.25 171.25,756.19 172.00,767.83 172.75,762.64 173.50,763.42 174.25,769.56 175.00,766.35 175.75,770.23 176.50,773.33 177.25,774.87 178.00,774.25 178.75,776.75 179.50,773.95 180.25,773.91 181.00,779.22 181.75,781.95 182.50,780.17 183.25,776.14 184.00,778.81 184.75,781.51 185.50,777.07 186.25,778.44 187.00,781.26 187.75,785.46 188.50,781.40 189.25,787.46 190.00,788.49 190.75,789.32 191.50,784.37 192.25,785.82 193.00,789.00 193.75,787.61 194.50,789.93 195.25,788.99 196.00,792.47 196.75,793.22 197.50,790.34 198.25,788.58 199.00,794.59 199.75,795.48 200.50,796.20 201.25,797.76 202.00,796.00 202.75,798.80 203.50,797.54 204.25,795.10 205.00,797.74 205.75,799.32 206.50,796.94 207.25,799.25 208.00,797.73 208.75,796.82 209.50,799.67 210.25,802.11 211.00,796.14 211.75,797.98 212.50,801.54 213.25,800.22 214.00,800.20 214.75,804.02 215.50,803.04 216.25,803.66 217.00,799.60 217.75,801.31 218.50,801.16 219.25,803.62 220.00,806.16 220.75,804.06 221.50,804.05 222.25,802.74 223.00,804.11 223.75,806.40 224.50,808.17 225.25,806.91 226.00,806.09 226.75,807.65 227.50,805.51 228.25,808.73 229.00,809.93 229.75,809.59 230.50,808.98 231.25,809.36 232.00,810.44 232.75,810.87 233.50,811.37 234.25,811.55 235.00,812.24 235.75,812.40 236.50,813.25 237.25,812.65 238.00,812.14 238.75,810.72 239.50,812.15 240.25,814.61 241.00,812.53 241.75,811.40 242.50,811.10 243.25,814.92 244.00,812.77 244.75,814.94 245.50,812.55 246.25,814.40 247.00,812.62 247.75,813.79 248.50,814.52 249.25,813.43 250.00,815.46 250.75,815.11 251.50,817.41 252.25,814.30 253.00,815.55 253.75,816.39 254.50,813.48 255.25,813.47 256.00,813.59 256.75,814.15 257.50,815.10 258.25,813.49 259.00,814.52 259.75,814.13 260.50,814.98 261.25,814.98 262.00,813.59 262.75,814.90 263.50,817.46 264.25,816.81 265.00,815.93 265.75,814.52 266.50,814.33 267.25,812.54 268.00,813.65 268.75,814.48 269.50,813.45 270.25,813.73 271.00,814.41 271.75,814.16 272.50,815.23 273.25,816.48 274.00,814.99 274.75,813.72 275.50,814.23 276.25,814.51 277.00,812.75 277.75,813.64 278.50,813.54 279.25,812.04 280.00,811.46 280.75,812.89 281.50,812.87 282.25,814.80 283.00,813.23 283.75,814.57 284.50,813.80 285.25,812.70 286.00,812.48 286.75,809.14 287.50,812.42 288.25,810.99 289.00,811.99 289.75,809.77 290.50,810.58 291.25,810.74 292.00,811.37 292.75,810.41 293.50,809.57 294.25,812.08 295.00,811.94 295.75,811.38 296.50,812.90 297.25,810.99 298.00,812.16 298.75,811.58 299.50,808.81 300.25,809.69 301.00,809.41 301.75,809.09 302.50,808.04 303.25,806.87 304.00,808.00 304.75,807.44 305.50,806.98 306.25,807.40 307.00,808.16 307.75,808.56 308.50,808.76 309.25,808.68 310.00,807.87 310.75,807.75 311.50,806.85 312.25,805.89 313.00,804.85 313.75,807.27 314.50,807.41 315.25,807.92 316.00,809.23 316.75,809.48 317.50,811.35 318.25,811.04 319.00,809.05 319.75,811.84 320.50,811.46 321.25,811.02 322.00,810.36 322.75,812.42 323.50,811.93 324.25,810.70 325.00,810.50 325.75,810.93 326.50,812.82 327.25,812.30 327.25,819.76 326.50,820.04 325.75,819.41 325.00,817.70 324.25,819.04 323.50,819.11 322.75,819.99 322.00,818.07 321.25,819.15 320.50,822.85 319.75,820.40 319.00,818.49 318.25,819.95 317.50,820.27 316.75,818.62 316.00,817.96 315.25,816.41 314.50,815.76 313.75,816.32 313.00,816.45 312.25,816.85 311.50,819.20 310.75,818.28 310.00,815.46 309.25,816.80 308.50,818.25 307.75,817.24 307.00,817.34 306.25,817.76 305.50,817.02 304.75,817.84 304.00,817.01 303.25,817.42 302.50,820.50 301.75,819.58 301.00,818.79 300.25,818.57 299.50,819.73 298.75,821.70 298.00,822.32 297.25,820.53 296.50,822.97 295.75,822.19 295.00,821.45 294.25,823.47 293.50,821.47 292.75,821.37 292.00,820.25 291.25,819.36 290.50,820.06 289.75,820.98 289.00,820.45 288.25,819.61 287.50,822.09 286.75,818.23 286.00,820.84 285.25,820.77 284.50,821.81 283.75,822.49 283.00,821.00 282.25,821.79 281.50,821.40 280.75,821.07 280.00,820.95 279.25,820.36 278.50,820.78 277.75,821.88 277.00,820.76 276.25,821.57 275.50,821.53 274.75,822.04 274.00,821.36 273.25,822.67 272.50,821.58 271.75,821.53 271.00,823.66 270.25,822.04 269.50,822.46 268.75,821.49 268.00,821.44 267.25,822.56 266.50,822.33 265.75,821.81 265.00,823.16 264.25,825.41 263.50,823.06 262.75,821.46 262.00,820.93 261.25,822.04 260.50,822.44 259.75,820.35 259.00,820.78 258.25,821.55 257.50,822.39 256.75,821.93 256.00,821.06 255.25,820.87 254.50,821.79 253.75,822.26 253.00,821.86 252.25,822.10 251.50,824.55 250.75,821.86 250.00,822.65 249.25,821.74 248.50,822.96 247.75,821.76 247.00,822.96 246.25,823.24 245.50,820.69 244.75,822.18 244.00,820.27 243.25,821.83 242.50,819.79 241.75,817.83 241.00,819.45 240.25,821.09 239.50,819.19 238.75,818.90 238.00,820.20 237.25,818.85 236.50,819.14 235.75,818.57 235.00,818.69 234.25,818.55 233.50,819.19 232.75,817.72 232.00,818.03 231.25,817.06 230.50,818.06 229.75,817.39 229.00,818.22 228.25,819.04 227.50,814.19 226.75,817.88 226.00,814.97 225.25,815.18 224.50,817.30 223.75,816.49 223.00,814.50 222.25,814.64 221.50,817.36 220.75,817.69 220.00,817.04 219.25,815.63 218.50,813.27 217.75,814.10 217.00,813.65 216.25,818.06 215.50,819.96 214.75,819.37 214.00,815.64 213.25,818.06 212.50,816.83 211.75,817.00 211.00,814.40 210.25,817.31 209.50,814.55 208.75,812.70 208.00,810.13 207.25,811.60 206.50,811.99 205.75,812.61 205.00,812.91 204.25,808.84 203.50,812.58 202.75,813.13 202.00,812.16 201.25,812.11 200.50,812.40 199.75,812.10 199.00,811.07 198.25,810.26 197.50,809.70 196.75,809.55 196.00,809.50 195.25,807.41 194.50,807.75 193.75,807.72 193.00,804.36 192.25,802.66 191.50,805.48 190.75,807.52 190.00,805.81 189.25,805.39 188.50,797.91 187.75,804.67 187.00,802.33 186.25,801.52 185.50,799.11 184.75,803.97 184.00,797.14 183.25,797.01 182.50,800.44 181.75,800.15 181.00,797.98 180.25,793.16 179.50,793.52 178.75,797.40 178.00,801.27 177.25,796.59 176.50,791.05 175.75,789.26 175.00,790.61 174.25,791.20 173.50,786.36 172.75,784.76 172.00,788.06 171.25,783.01 170.50,781.84 169.75,788.04 169.00,790.01 168.25,784.56 167.50,784.50 166.75,783.61 166.00,779.99 165.25,778.34 164.50,776.92 163.75,778.73 163.00,771.63 162.25,771.42 161.50,776.43 160.75,779.61 160.00,780.43 159.25,782.94 158.50,771.09 157.75,778.02 157.00,767.32 156.25,766.71 155.50,766.95 154.75,769.64 154.00,766.83 153.25,770.35 152.50,768.21 151.75,769.80 151.00,768.87 150.25,765.15 149.50,766.63 148.75,764.10 148.00,769.44 147.25,765.85 146.50,771.85 145.75,769.47 145.00,766.86 144.25,770.70 143.50,777.61 142.75,770.39 142.00,768.31 141.25,766.57 140.50,763.57 139.75,763.71 139.00,758.22 138.25,760.71 137.50,761.88 136.75,757.39 136.00,757.94 135.25,764.67 134.50,766.85 133.75,766.04 133.00,770.37 132.25,759.18 131.50,766.65 130.75,755.37 130.00,761.81 129.25,765.26 128.50,758.07 127.75,759.91 127.00,766.90 126.25,766.82 125.50,766.38 124.75,768.84 124.00,772.73 123.25,769.11 122.50,767.65 121.75,778.21 121.00,775.36 120.25,779.03 119.50,780.06 118.75,778.34 118.00,786.16 117.25,778.02 116.50,784.12 115.75,778.12 115.00,778.96 114.25,778.22 113.50,783.04 112.75,781.83 112.00,779.88 111.25,781.88 110.50,781.52 109.75,785.90 109.00,784.86 108.25,783.61 107.50,788.69 106.75,794.22 106.00,802.64 105.25,808.73 104.50,816.31 103.75,820.83 103.00,821.83 102.25,820.79 101.50,819.66 100.75,820.82 100.00,820.94 99.25,822.67 98.50,823.64 97.75,822.67 97.00,822.68 96.25,824.48 95.50,825.65 94.75,823.88 94.00,824.20 93.25,824.91 92.50,823.91 91.75,824.84 91.00,825.37 90.25,824.97 89.50,825.42 88.75,827.62 88.00,825.75 87.25,826.02 86.50,824.38 85.75,824.85 85.00,824.72 84.25,826.66 83.50,825.35 82.75,824.52 82.00,825.13 81.25,826.13 80.50,823.58 79.75,825.04 79.00,825.63 78.25,826.03 77.50,825.93 76.75,824.06 76.00,826.54 75.25,824.73 74.50,825.91 73.75,825.68 73.00,824.73 72.25,825.70 71.50,827.13 70.75,824.81 70.00,826.59 69.25,825.00 68.50,825.98 67.75,826.38 67.00,824.59 66.25,825.12 65.50,824.17 64.75,823.73 64.00,823.09 63.25,824.93 62.50,824.52 61.75,824.95 61.00,825.42 60.25,825.64 59.50,825.94 58.75,823.96 58.00,827.62 57.25,825.69 56.50,824.99 55.75,825.36 55.00,824.98 54.25,826.76 53.50,826.20 52.75,825.06 52.00,826.72 51.25,827.62 50.50,825.06 49.75,825.03 49.00,825.24 48.25,825.07 47.50,825.80 46.75,824.32 46.00,824.76 45.25,824.99 44.50,826.56 43.75,826.62 43.00,825.58" fill="#a6f07a" fill-opacity="0.8" stroke="none"/>
<polygon points="43.00,820.28 43.75,819.77 44.50,821.28 45.25,818.82 46.00,819.64 46.75,820.42 47.50,821.05 48.25,819.49 49.00,821.58 49.75,819.52 50.50,820.37 51.25,820.01 52.00,820.69 52.75,821.27 53.50,821.55 54.25,822.14 55.00,822.10 55.75,822.00 56.50,821.70 57.25,820.45 58.00,819.68 58.75,820.81 59.50,821.32 60.25,820.94 61.00,819.57 61.75,819.67 62.50,821.47 63.25,820.31 64.00,820.75 64.75,819.96 65.50,819.37 66.25,821.07 67.00,820.84 67.75,819.37 68.50,819.19 69.25,820.31 70.00,819.76 70.75,820.34 71.50,820.51 72.25,820.70 73.00,822.74 73.75,820.22 74.50,823.45 75.25,823.51 76.00,822.85 76.75,820.96 77.50,819.89 78.25,818.57 79.00,820.93 79.75,821.44 80.50,822.10 81.25,822.66 82.00,822.73 82.75,822.47 83.50,821.91 84.25,822.49 85.00,822.83 85.75,822.61 86.50,823.38 87.25,823.18 88.00,823.11 88.75,821.22 89.50,819.29 90.25,822.17 91.00,821.82 91.75,821.21 92.50,821.34 93.25,822.65 94.00,821.14 94.75,821.24 95.50,822.90 96.25,821.34 97.00,821.11 97.75,820.32 98.50,819.99 99.25,818.83 100.00,819.88 100.75,817.14 101.50,818.34 102.25,818.35 103.00,816.76 103.75,817.58 104.50,805.30 105.25,794.14 106.00,776.29 106.75,764.41 107.50,751.42 108.25,752.01 109.00,751.64 109.75,750.23 110.50,747.61 111.25,742.94 112.00,742.55 112.75,749.31 113.50,747.48 114.25,745.59 115.00,744.70 115.75,748.72 116.50,743.31 117.25,745.36 118.00,746.78 118.75,758.43 119.50,746.68 120.25,744.95 121.00,736.34 121.75,729.41 122.50,721.42 123.25,725.04 124.00,725.36 124.75,730.51 125.50,729.72 126.25,723.26 127.00,728.96 127.75,726.49 128.50,731.11 129.25,727.41 130.00,733.16 130.75,732.10 131.50,730.37 132.25,740.00 133.00,741.29 133.75,728.37 134.50,730.00 135.25,736.75 136.00,729.44 136.75,729.89 137.50,722.47 138.25,729.29 139.00,720.14 139.75,725.00 140.50,731.27 141.25,736.22 142.00,722.95 142.75,729.59 143.50,728.23 144.25,724.46 145.00,726.45 145.75,730.77 146.50,737.48 147.25,728.81 148.00,728.38 148.75,720.02 149.50,725.24 150.25,732.71 151.00,737.28 151.75,722.71 152.50,731.57 153.25,737.03 154.00,735.18 154.75,741.08 155.50,729.45 156.25,735.64 157.00,731.99 157.75,731.92 158.50,740.40 159.25,744.62 160.00,737.00 160.75,741.25 161.50,747.15 162.25,738.20 163.00,741.71 163.75,744.82 164.50,731.11 165.25,737.39 166.00,745.83 166.75,745.17 167.50,754.00 168.25,752.43 169.00,756.42 169.75,759.21 170.50,757.23 171.25,753.20 172.00,757.85 172.75,753.63 173.50,761.61 174.25,761.37 175.00,765.64 175.75,762.51 176.50,763.63 177.25,770.99 178.00,771.92 178.75,770.41 179.50,766.87 180.25,777.43 181.00,775.65 181.75,775.70 182.50,779.83 183.25,780.73 184.00,781.86 184.75,781.97 185.50,782.63 186.25,780.81 187.00,780.78 187.75,776.92 188.50,777.44 189.25,781.45 190.00,784.56 190.75,786.25 191.50,785.87 192.25,789.55 193.00,787.79 193.75,789.98 194.50,790.18 195.25,793.83 196.00,791.91 196.75,796.95 197.50,795.92 198.25,800.47 199.00,796.18 199.75,799.87 200.50,800.08 201.25,802.88 202.00,799.13 202.75,798.74 203.50,799.08 204.25,801.45 205.00,802.51 205.75,800.06 206.50,802.93 207.25,800.62 208.00,801.78 208.75,803.07 209.50,804.73 210.25,804.67 211.00,802.19 211.75,800.43 212.50,806.73 213.25,806.03 214.00,808.77 214.75,807.09 215.50,807.20 216.25,806.22 217.00,804.17 217.75,801.93 218.50,804.65 219.25,805.66 220.00,806.66 220.75,808.16 221.50,805.22 222.25,808.54 223.00,806.38 223.75,809.63 224.50,806.67 225.25,808.22 226.00,807.54 226.75,808.13 227.50,810.67 228.25,809.17 229.00,808.70 229.75,808.09 230.50,811.13 231.25,811.89 232.00,811.12 232.75,811.43 233.50,810.05 234.25,810.24 235.00,809.20 235.75,810.84 236.50,810.06 237.25,811.21 238.00,810.94 238.75,808.46 239.50,810.34 240.25,812.13 241.00,812.40 241.75,812.97 242.50,813.75 243.25,813.76 244.00,812.47 244.75,814.41 245.50,812.66 246.25,812.30 247.00,813.24 247.75,811.79 248.50,813.31 249.25,814.68 250.00,814.37 250.75,811.48 251.50,810.93 252.25,813.63 253.00,813.57 253.75,813.46 254.50,812.65 255.25,814.68 256.00,812.94 256.75,813.70 257.50,813.57 258.25,813.33 259.00,812.56 259.75,811.86 260.50,811.07 261.25,810.89 262.00,804.81 262.75,798.25 263.50,801.22 264.25,808.92 265.00,811.39 265.75,814.47 266.50,812.30 267.25,813.36 268.00,811.19 268.75,812.67 269.50,811.85 270.25,812.14 271.00,813.27 271.75,811.48 272.50,814.05 273.25,815.24 274.00,814.99 274.75,815.92 275.50,815.18 276.25,813.88 277.00,813.82 277.75,813.09 278.50,813.50 279.25,811.34 280.00,813.63 280.75,814.73 281.50,813.08 282.25,815.05 283.00,815.24 283.75,817.02 284.50,814.75 285.25,813.38 286.00,812.82 286.75,812.57 287.50,814.77 288.25,812.95 289.00,813.36 289.75,814.81 290.50,815.61 291.25,815.98 292.00,814.76 292.75,814.31 293.50,816.03 294.25,817.43 295.00,817.23 295.75,816.40 296.50,815.82 297.25,815.06 298.00,813.15 298.75,810.76 299.50,812.09 300.25,812.46 301.00,809.39 301.75,810.81 302.50,810.31 303.25,811.83 304.00,813.23 304.75,810.51 305.50,807.26 306.25,811.94 307.00,809.75 307.75,810.04 308.50,808.89 309.25,809.76 310.00,810.98 310.75,807.88 311.50,808.56 312.25,808.10 313.00,808.18 313.75,808.80 314.50,808.66 315.25,809.28 316.00,806.18 316.75,798.06 317.50,793.71 318.25,802.40 319.00,806.36 319.75,806.42 320.50,805.23 321.25,804.20 322.00,803.69 322.75,808.07 323.50,808.75 324.25,812.11 325.00,810.38 325.75,814.06 326.50,813.86 327.25,814.38 327.25,822.00 326.50,820.50 325.75,821.27 325.00,818.32 324.25,821.22 323.50,817.50 322.75,818.40 322.00,812.20 321.25,812.97 320.50,814.81 319.75,815.21 319.00,813.26 318.25,810.13 317.50,803.93 316.75,807.15 316.00,812.81 315.25,816.39 314.50,818.63 313.75,819.30 313.00,815.70 312.25,816.37 311.50,817.06 310.75,814.53 310.00,817.61 309.25,817.98 308.50,816.20 307.75,818.13 307.00,818.45 306.25,819.20 305.50,815.92 304.75,817.50 304.00,820.34 303.25,821.06 302.50,819.53 301.75,818.61 301.00,819.42 300.25,820.67 299.50,820.19 298.75,818.83 298.00,820.44 297.25,821.89 296.50,823.25 295.75,824.06 295.00,824.31 294.25,823.87 293.50,824.70 292.75,821.83 292.00,822.24 291.25,823.63 290.50,822.98 289.75,821.13 289.00,821.50 288.25,822.74 287.50,824.11 286.75,821.50 286.00,821.20 285.25,822.18 284.50,822.63 283.75,823.32 283.00,821.93 282.25,822.64 281.50,821.87 280.75,822.67 280.00,819.90 279.25,818.98 278.50,820.35 277.75,820.31 277.00,822.05 276.25,822.85 275.50,822.58 274.75,822.64 274.00,822.78 273.25,822.90 272.50,822.05 271.75,820.88 271.00,820.60 270.25,819.10 269.50,819.23 268.75,819.03 268.00,817.91 267.25,819.81 266.50,819.46 265.75,821.77 265.00,820.22 264.25,817.91 263.50,813.21 262.75,809.30 262.00,813.50 261.25,818.34 260.50,818.74 259.75,819.13 259.00,820.11 258.25,819.38 257.50,819.84 256.75,820.52 256.00,820.26 255.25,822.67 254.50,821.38 253.75,819.89 253.00,822.21 252.25,821.52 251.50,819.44 250.75,819.75 250.00,821.63 249.25,822.37 248.50,820.44 247.75,820.78 247.00,820.70 246.25,820.45 245.50,820.09 244.75,822.49 244.00,818.96 243.25,820.58 242.50,820.06 241.75,820.16 241.00,820.63 240.25,820.01 239.50,818.93 238.75,815.83 238.00,818.65 237.25,818.48 236.50,817.11 235.75,818.04 235.00,817.83 234.25,818.30 233.50,818.14 232.75,816.99 232.00,817.47 231.25,818.87 230.50,819.06 229.75,816.28 229.00,817.31 228.25,819.88 227.50,819.64 226.75,819.16 226.00,817.86 225.25,817.00 224.50,816.95 223.75,818.96 223.00,815.53 222.25,816.94 221.50,815.74 220.75,815.72 220.00,815.14 219.25,814.68 218.50,814.19 217.75,812.80 217.00,815.09 216.25,814.35 215.50,816.99 214.75,817.05 214.00,819.02 213.25,816.56 212.50,818.01 211.75,814.70 211.00,814.64 210.25,814.66 209.50,815.62 208.75,814.91 208.00,815.40 207.25,813.51 206.50,813.98 205.75,811.51 205.00,812.03 204.25,810.94 203.50,810.45 202.75,811.67 202.00,813.54 201.25,818.64 200.50,815.94 199.75,813.85 199.00,808.80 198.25,814.20 197.50,810.09 196.75,812.83 196.00,809.26 195.25,810.52 194.50,810.55 193.75,812.87 193.00,811.83 192.25,811.19 191.50,813.96 190.75,810.83 190.00,810.21 189.25,807.35 188.50,805.45 187.75,801.83 187.00,804.09 186.25,800.11 185.50,804.57 184.75,810.68 184.00,805.05 183.25,801.92 182.50,799.31 181.75,797.94 181.00,797.14 180.25,803.79 179.50,798.70 178.75,793.72 178.00,792.18 177.25,795.50 176.50,790.65 175.75,792.59 175.00,794.22 174.25,789.24 173.50,788.45 172.75,790.05 172.00,785.47 171.25,783.55 170.50,784.77 169.75,786.55 169.00,793.66 168.25,789.29 167.50,782.03 166.75,781.91 166.00,789.55 165.25,778.71 164.50,775.52 163.75,779.94 163.00,780.87 162.25,778.84 161.50,780.93 160.75,777.90 160.00,778.06 159.25,785.52 158.50,776.80 157.75,775.62 157.00,776.14 156.25,771.13 155.50,769.52 154.75,771.70 154.00,769.88 153.25,773.79 152.50,771.54 151.75,764.94 151.00,771.11 150.25,773.18 149.50,766.04 148.75,766.40 148.00,776.21 147.25,764.82 146.50,772.90 145.75,766.68 145.00,763.53 144.25,761.63 143.50,767.68 142.75,772.43 142.00,769.68 141.25,768.54 140.50,763.14 139.75,763.62 139.00,760.20 138.25,762.86 137.50,756.05 136.75,766.59 136.00,773.19 135.25,776.87 134.50,773.35 133.75,778.17 133.00,784.34 132.25,782.93 131.50,784.79 130.75,776.06 130.00,773.46 129.25,771.55 128.50,770.30 127.75,759.60 127.00,762.11 126.25,764.59 125.50,764.03 124.75,770.07 124.00,761.94 123.25,762.63 122.50,767.16 121.75,765.26 121.00,768.56 120.25,779.39 119.50,783.24 118.75,787.51 118.00,778.11 117.25,772.08 116.50,771.21 115.75,774.09 115.00,771.80 114.25,778.71 113.50,778.52 112.75,779.71 112.00,780.39 111.25,779.24 110.50,782.92 109.75,778.01 109.00,780.66 108.25,783.67 107.50,772.71 106.75,785.71 106.00,799.31 105.25,808.89 104.50,813.56 103.75,824.44 103.00,824.02 102.25,828.15 101.50,826.34 100.75,826.39 100.00,826.32 99.25,824.92 98.50,825.45 97.75,826.08 97.00,826.61 96.25,827.34 95.50,828.17 94.75,826.70 94.00,827.14 93.25,828.03 92.50,825.75 91.75,825.51 91.00,826.78 90.25,827.30 89.50,825.74 88.75,827.53 88.00,827.49 87.25,827.47 86.50,827.90 85.75,827.94 85.00,827.09 84.25,826.72 83.50,827.27 82.75,826.55 82.00,826.88 81.25,827.09 80.50,826.90 79.75,826.43 79.00,826.39 78.25,823.67 77.50,824.39 76.75,824.87 76.00,826.87 75.25,828.08 74.50,828.81 73.75,825.30 73.00,827.93 72.25,826.83 71.50,825.45 70.75,824.57 70.00,824.66 69.25,825.53 68.50,825.11 67.75,824.95 67.00,826.07 66.25,826.23 65.50,823.85 64.75,824.08 64.00,825.88 63.25,825.07 62.50,826.35 61.75,824.66 61.00,824.75 60.25,825.41 59.50,825.39 58.75,825.14 58.00,823.80 57.25,824.97 56.50,826.31 55.75,826.52 55.00,826.78 54.25,827.22 53.50,827.16 52.75,826.24 52.00,826.08 51.25,825.15 50.50,826.22 49.75,825.84 49.00,826.29 48.25,825.13 47.50,825.79 46.75,825.22 46.00,824.92 45.25,824.57 44.50,826.21 43.75,825.29 43.00,824.13" fill="#e47a7a" fill-opacity="0.7" stroke="none"/>
<polyline points="43.00,823.60 43.75,823.86 44.50,823.64 45.25,824.03 46.00,823.19 46.75,824.05 47.50,824.02 48.25,823.98 49.00,823.68 49.75,823.24 50.50,823.18 51.25,822.27 52.00,823.42 52.75,824.14 53.50,823.49 54.25,823.54 55.00,822.99 55.75,823.00 56.50,823.19 57.25,822.98 58.00,823.60 58.75,823.11 59.50,823.82 60.25,823.55 61.00,822.79 61.75,823.13 62.50,823.53 63.25,824.03 64.00,822.92 64.75,823.65 65.50,823.71 66.25,824.04 67.00,823.69 67.75,822.34 68.50,822.82 69.25,823.34 70.00,823.95 70.75,823.89 71.50,823.79 72.25,823.10 73.00,822.68 73.75,823.34 74.50,823.93 75.25,822.64 76.00,823.58 76.75,823.80 77.50,823.43 78.25,822.95 79.00,823.21 79.75,823.49 80.50,823.70 81.25,823.87 82.00,823.70 82.75,824.08 83.50,823.97 84.25,823.31 85.00,823.37 85.75,823.54 86.50,823.51 87.25,823.97 88.00,823.28 88.75,823.11 89.50,823.00 90.25,823.62 91.00,822.58 91.75,822.73 92.50,822.75 93.25,823.13 94.00,823.40 94.75,823.76 95.50,824.32 96.25,823.90 97.00,823.72 97.75,823.69 98.50,823.35 99.25,823.56 100.00,822.90 100.75,822.55 101.50,822.79 102.25,822.49 103.00,822.12 103.75,822.54 104.50,818.32 105.25,810.94 106.00,804.56 106.75,796.53 107.50,789.22 108.25,783.28 109.00,781.32 109.75,781.61 110.50,778.25 111.25,775.04 112.00,773.16 112.75,772.78 113.50,769.99 114.25,771.38 115.00,771.34 115.75,774.91 116.50,774.84 117.25,775.30 118.00,777.17 118.75,777.09 119.50,777.10 120.25,774.51 121.00,774.74 121.75,771.62 122.50,772.52 123.25,771.77 124.00,771.84 124.75,773.37 125.50,772.28 126.25,773.53 127.00,775.83 127.75,776.39 128.50,776.90 129.25,777.06 130.00,778.86 130.75,781.38 131.50,782.01 132.25,783.97 133.00,784.10 133.75,786.04 134.50,787.40 135.25,789.68 136.00,788.28 136.75,789.16 137.50,785.84 138.25,782.67 139.00,785.45 139.75,784.66 140.50,785.08 141.25,784.92 142.00,786.86 142.75,787.76 143.50,790.86 144.25,789.48 145.00,785.63 145.75,788.32 146.50,790.62 147.25,791.26 148.00,791.31 148.75,790.86 149.50,790.46 150.25,791.62 151.00,792.09 151.75,791.98 152.50,793.59 153.25,792.25 154.00,791.62 154.75,793.29 155.50,790.56 156.25,789.91 157.00,790.23 157.75,791.62 158.50,789.63 159.25,789.59 160.00,788.96 160.75,791.24 161.50,790.69 162.25,790.24 163.00,790.99 163.75,791.96 164.50,793.13 165.25,788.84 166.00,787.88 166.75,790.42 167.50,791.82 168.25,792.58 169.00,795.07 169.75,794.00 170.50,795.54 171.25,793.89 172.00,794.45 172.75,796.16 173.50,795.49 174.25,797.27 175.00,799.04 175.75,799.71 176.50,798.47 177.25,801.14 178.00,800.15 178.75,802.47 179.50,801.75 180.25,801.36 181.00,802.19 181.75,801.07 182.50,802.41 183.25,803.75 184.00,803.63 184.75,806.68 185.50,805.00 186.25,805.59 187.00,807.50 187.75,808.68 188.50,807.46 189.25,807.35 190.00,807.23 190.75,806.83 191.50,807.90 192.25,807.18 193.00,808.33 193.75,807.78 194.50,809.76 195.25,809.54 196.00,810.62 196.75,810.73 197.50,809.93 198.25,809.73 199.00,809.99 199.75,811.16 200.50,810.45 201.25,811.49 202.00,810.65 202.75,811.19 203.50,811.50 204.25,811.82 205.00,812.55 205.75,812.75 206.50,813.59 207.25,813.16 208.00,813.04 208.75,813.33 209.50,813.72 210.25,812.72 211.00,814.28 211.75,814.98 212.50,814.86 213.25,814.20 214.00,814.76 214.75,814.59 215.50,815.32 216.25,815.86 217.00,815.55 217.75,815.42 218.50,815.62 219.25,816.36 220.00,815.90 220.75,815.84 221.50,815.93 222.25,816.25 223.00,817.56 223.75,817.12 224.50,816.45 225.25,816.85 226.00,816.34 226.75,816.85 227.50,818.21 228.25,817.65 229.00,817.52 229.75,816.94 230.50,818.34 231.25,818.70 232.00,819.01 232.75,818.91 233.50,818.25 234.25,819.50 235.00,819.42 235.75,819.86 236.50,819.45 237.25,818.97 238.00,819.90 238.75,819.94 239.50,818.99 240.25,820.16 241.00,821.17 241.75,820.93 242.50,821.13 243.25,820.13 244.00,820.00 244.75,819.20 245.50,820.72 246.25,820.46 247.00,820.27 247.75,820.71 248.50,820.36 249.25,821.27 250.00,819.36 250.75,820.36 251.50,820.49 252.25,822.68 253.00,823.19 253.75,821.69 254.50,821.20 255.25,821.84 256.00,821.75 256.75,821.42 257.50,821.48 258.25,822.20 259.00,821.69 259.75,822.29 260.50,821.97 261.25,822.47 262.00,821.33 262.75,822.11 263.50,822.06 264.25,821.89 265.00,822.64 265.75,822.36 266.50,822.15 267.25,822.47 268.00,821.86 268.75,822.37 269.50,822.91 270.25,822.67 271.00,821.74 271.75,822.23 272.50,822.19 273.25,822.08 274.00,822.02 274.75,822.87 275.50,823.12 276.25,822.29 277.00,823.20 277.75,823.52 278.50,823.37 279.25,822.57 280.00,823.45 280.75,822.82 281.50,823.31 282.25,823.73 283.00,822.87 283.75,823.13 284.50,822.45 285.25,822.38 286.00,823.31 286.75,823.20 287.50,823.11 288.25,823.98 289.00,823.95 289.75,823.74 290.50,824.08 291.25,823.35 292.00,823.40 292.75,823.75 293.50,824.28 294.25,824.38 295.00,824.64 295.75,823.58 296.50,823.63 297.25,823.98 298.00,824.03 298.75,823.71 299.50,824.12 300.25,825.02 301.00,824.00 301.75,824.72 302.50,825.46 303.25,825.55 304.00,825.27 304.75,825.45 305.50,825.86 306.25,825.01 307.00,824.85 307.75,825.14 308.50,825.53 309.25,824.71 310.00,825.90 310.75,825.09 311.50,824.78 312.25,824.74 313.00,824.76 313.75,825.17 314.50,824.98 315.25,825.56 316.00,825.30 316.75,825.14 317.50,825.07 318.25,825.27 319.00,825.05 319.75,825.20 320.50,825.23 321.25,825.55 322.00,825.00 322.75,825.01 323.50,825.71 324.25,824.79 325.00,824.07 325.75,824.41 326.50,824.18 327.25,824.83" fill="none" stroke="#2a1ed0" stroke-width="2.6" stroke-linejoin="round"/>
<polyline points="43.00,823.49 43.75,824.80 44.50,824.40 45.25,822.68 46.00,822.87 46.75,822.54 47.50,823.68 48.25,823.08 49.00,823.42 49.75,823.28 50.50,822.81 51.25,824.65 52.00,823.50 52.75,822.55 53.50,822.55 54.25,824.23 55.00,821.98 55.75,823.06 56.50,822.89 57.25,823.71 58.00,825.22 58.75,821.95 59.50,823.35 60.25,822.97 61.00,822.90 61.75,822.19 62.50,822.45 63.25,822.85 64.00,821.19 64.75,821.68 65.50,822.22 66.25,823.16 67.00,822.55 67.75,824.19 68.50,824.07 69.25,823.18 70.00,824.72 70.75,822.42 71.50,823.32 72.25,822.46 73.00,821.16 73.75,822.41 74.50,823.02 75.25,822.37 76.00,822.79 76.75,821.60 77.50,823.46 78.25,823.07 79.00,822.51 79.75,822.72 80.50,821.57 81.25,822.81 82.00,822.28 82.75,822.02 83.50,822.80 84.25,823.35 85.00,822.22 85.75,822.14 86.50,821.72 87.25,823.24 88.00,823.03 88.75,825.52 89.50,823.45 90.25,822.34 91.00,823.10 91.75,822.91 92.50,822.05 93.25,822.69 94.00,821.65 94.75,821.54 95.50,822.69 96.25,821.19 97.00,820.16 97.75,820.34 98.50,821.16 99.25,819.40 100.00,818.26 100.75,817.88 101.50,816.53 102.25,818.02 103.00,817.89 103.75,817.50 104.50,812.48 105.25,803.54 106.00,795.41 106.75,784.86 107.50,779.86 108.25,770.91 109.00,771.70 109.75,772.31 110.50,768.98 111.25,769.33 112.00,768.45 112.75,768.42 113.50,765.42 114.25,764.53 115.00,766.09 115.75,764.98 116.50,766.82 117.25,762.86 118.00,767.51 118.75,762.63 119.50,761.49 120.25,761.90 121.00,762.28 121.75,766.33 122.50,756.80 123.25,757.65 124.00,759.54 124.75,755.88 125.50,753.94 126.25,752.39 127.00,748.93 127.75,744.19 128.50,743.88 129.25,748.07 130.00,747.89 130.75,742.69 131.50,746.06 132.25,741.64 133.00,747.32 133.75,747.62 134.50,748.44 135.25,750.71 136.00,745.73 136.75,746.33 137.50,746.98 138.25,748.36 139.00,747.32 139.75,750.52 140.50,751.02 141.25,755.22 142.00,754.12 142.75,756.70 143.50,759.25 144.25,755.80 145.00,754.09 145.75,758.45 146.50,756.41 147.25,750.48 148.00,750.70 148.75,748.33 149.50,752.68 150.25,749.73 151.00,751.87 151.75,750.93 152.50,751.37 153.25,755.79 154.00,755.21 154.75,755.70 155.50,753.71 156.25,754.26 157.00,756.69 157.75,761.62 158.50,756.43 159.25,765.15 160.00,763.85 160.75,766.55 161.50,764.87 162.25,759.77 163.00,760.78 163.75,767.65 164.50,764.98 165.25,765.58 166.00,768.52 166.75,771.70 167.50,771.02 168.25,772.35 169.00,777.44 169.75,775.67 170.50,771.56 171.25,768.80 172.00,777.68 172.75,775.22 173.50,775.89 174.25,782.10 175.00,780.38 175.75,780.72 176.50,782.24 177.25,783.33 178.00,784.01 178.75,785.83 179.50,782.62 180.25,784.40 181.00,789.31 181.75,790.74 182.50,790.68 183.25,788.13 184.00,788.78 184.75,790.50 185.50,788.24 186.25,790.90 187.00,793.46 187.75,795.90 188.50,789.49 189.25,794.94 190.00,796.69 190.75,797.41 191.50,794.61 192.25,794.23 193.00,797.01 193.75,796.61 194.50,799.84 195.25,800.69 196.00,801.12 196.75,801.62 197.50,800.65 198.25,798.51 199.00,803.04 199.75,802.32 200.50,802.49 201.25,804.14 202.00,804.26 202.75,805.40 203.50,805.48 204.25,802.62 205.00,804.65 205.75,806.20 206.50,805.77 207.25,805.92 208.00,804.90 208.75,807.10 209.50,807.51 210.25,810.84 211.00,806.60 211.75,809.05 212.50,810.05 213.25,808.20 214.00,807.49 214.75,810.49 215.50,809.62 216.25,809.30 217.00,807.02 217.75,807.63 218.50,807.89 219.25,809.01 220.00,810.92 220.75,809.38 221.50,810.45 222.25,808.94 223.00,809.62 223.75,811.12 224.50,812.28 225.25,810.71 226.00,810.64 226.75,811.65 227.50,809.80 228.25,812.95 229.00,813.95 229.75,813.14 230.50,813.00 231.25,813.05 232.00,813.94 232.75,814.63 233.50,815.40 234.25,815.58 235.00,815.33 235.75,815.47 236.50,816.41 237.25,815.97 238.00,815.64 238.75,815.26 239.50,815.89 240.25,818.12 241.00,816.10 241.75,815.03 242.50,814.79 243.25,818.27 244.00,816.42 244.75,818.10 245.50,817.09 246.25,820.27 247.00,818.33 247.75,817.66 248.50,818.31 249.25,817.46 250.00,818.87 250.75,818.66 251.50,820.34 252.25,817.83 253.00,818.43 253.75,819.22 254.50,817.57 255.25,817.28 256.00,817.75 256.75,817.92 257.50,818.79 258.25,817.93 259.00,817.84 259.75,817.00 260.50,818.58 261.25,818.11 262.00,817.44 262.75,818.08 263.50,820.20 264.25,820.38 265.00,819.36 265.75,817.99 266.50,818.55 267.25,818.31 268.00,817.82 268.75,818.17 269.50,817.24 270.25,817.20 271.00,819.61 271.75,817.75 272.50,818.12 273.25,819.08 274.00,818.20 274.75,818.89 275.50,818.05 276.25,818.05 277.00,817.83 277.75,817.53 278.50,817.05 279.25,817.05 280.00,817.21 280.75,816.92 281.50,816.95 282.25,818.13 283.00,816.65 283.75,818.06 284.50,817.66 285.25,817.07 286.00,817.17 286.75,813.94 287.50,817.38 288.25,815.75 289.00,815.85 289.75,815.73 290.50,815.24 291.25,815.16 292.00,816.66 292.75,816.41 293.50,817.35 294.25,817.77 295.00,816.37 295.75,816.15 296.50,817.22 297.25,815.78 298.00,818.16 298.75,816.46 299.50,814.74 300.25,814.05 301.00,813.41 301.75,814.78 302.50,814.55 303.25,812.88 304.00,812.78 304.75,813.98 305.50,812.68 306.25,812.25 307.00,812.16 307.75,812.13 308.50,814.13 309.25,812.79 310.00,811.61 310.75,813.66 311.50,814.23 312.25,811.28 313.00,811.73 313.75,812.55 314.50,812.03 315.25,812.45 316.00,813.50 316.75,814.65 317.50,816.46 318.25,815.04 319.00,814.01 319.75,815.95 320.50,816.45 321.25,814.83 322.00,814.58 322.75,816.52 323.50,816.15 324.25,814.95 325.00,813.94 325.75,815.54 326.50,816.55 327.25,816.78" fill="none" stroke="#4cbc18" stroke-width="2.2" stroke-linejoin="round"/>
<polyline points="43.00,822.30 43.75,822.40 44.50,823.53 45.25,822.50 46.00,822.20 46.75,822.60 47.50,822.89 48.25,822.40 49.00,824.10 49.75,823.33 50.50,823.33 51.25,822.60 52.00,823.24 52.75,823.49 53.50,823.70 54.25,823.98 55.00,824.07 55.75,824.28 56.50,824.01 57.25,822.98 58.00,821.95 58.75,823.36 59.50,823.63 60.25,823.55 61.00,822.92 61.75,822.93 62.50,823.80 63.25,822.92 64.00,822.78 64.75,821.87 65.50,821.86 66.25,823.46 67.00,823.16 67.75,822.55 68.50,821.93 69.25,822.37 70.00,821.65 70.75,822.10 71.50,823.09 72.25,823.33 73.00,825.45 73.75,823.32 74.50,825.72 75.25,825.53 76.00,824.65 76.75,822.69 77.50,822.47 78.25,821.71 79.00,823.25 79.75,823.79 80.50,824.45 81.25,825.00 82.00,824.86 82.75,824.60 83.50,824.56 84.25,824.53 85.00,824.90 85.75,824.86 86.50,825.29 87.25,824.98 88.00,824.89 88.75,824.28 89.50,822.86 90.25,825.05 91.00,824.75 91.75,823.54 92.50,823.55 93.25,825.65 94.00,824.41 94.75,823.61 95.50,825.25 96.25,824.37 97.00,823.87 97.75,823.24 98.50,823.12 99.25,821.99 100.00,823.54 100.75,821.92 101.50,822.28 102.25,822.09 103.00,819.72 103.75,821.04 104.50,809.80 105.25,800.48 106.00,787.29 106.75,774.24 107.50,762.69 108.25,767.93 109.00,765.29 109.75,764.91 110.50,765.45 111.25,759.80 112.00,759.35 112.75,763.80 113.50,761.72 114.25,762.28 115.00,758.40 115.75,761.69 116.50,757.71 117.25,759.82 118.00,761.12 118.75,771.45 119.50,766.96 120.25,761.46 121.00,752.57 121.75,750.03 122.50,746.71 123.25,745.32 124.00,744.13 124.75,747.97 125.50,745.16 126.25,741.74 127.00,745.12 127.75,743.86 128.50,747.74 129.25,749.90 130.00,751.58 130.75,753.93 131.50,759.95 132.25,759.85 133.00,761.96 133.75,754.12 134.50,754.13 135.25,758.20 136.00,754.83 136.75,749.48 137.50,741.37 138.25,748.21 139.00,738.12 139.75,743.12 140.50,745.98 141.25,751.40 142.00,752.43 142.75,750.24 143.50,749.82 144.25,745.02 145.00,746.87 145.75,749.71 146.50,753.26 147.25,748.69 148.00,748.90 148.75,742.77 149.50,741.63 150.25,747.93 151.00,750.96 151.75,744.82 152.50,751.04 153.25,755.31 154.00,752.27 154.75,755.77 155.50,754.65 156.25,756.13 157.00,753.84 157.75,752.36 158.50,760.18 159.25,764.95 160.00,761.37 160.75,759.75 161.50,766.36 162.25,762.76 163.00,764.69 163.75,761.53 164.50,755.81 165.25,759.29 166.00,763.34 166.75,761.64 167.50,766.77 168.25,764.08 169.00,769.04 169.75,770.92 170.50,772.85 171.25,772.31 172.00,773.40 172.75,776.80 173.50,776.28 174.25,775.59 175.00,781.48 175.75,779.87 176.50,776.97 177.25,781.61 178.00,781.13 178.75,783.42 179.50,783.70 180.25,789.85 181.00,786.49 181.75,787.17 182.50,789.07 183.25,790.60 184.00,791.57 184.75,795.02 185.50,792.99 186.25,790.34 187.00,791.18 187.75,787.83 188.50,789.18 189.25,793.35 190.00,795.98 190.75,797.92 191.50,798.76 192.25,800.77 193.00,801.92 193.75,802.73 194.50,800.74 195.25,802.53 196.00,801.18 196.75,804.22 197.50,803.44 198.25,806.80 199.00,802.69 199.75,805.76 200.50,809.03 201.25,809.43 202.00,806.37 202.75,804.77 203.50,805.07 204.25,806.36 205.00,807.83 205.75,806.83 206.50,808.55 207.25,808.25 208.00,809.37 208.75,809.96 209.50,810.74 210.25,810.38 211.00,809.64 211.75,808.69 212.50,812.54 213.25,810.54 214.00,812.56 214.75,811.09 215.50,811.03 216.25,809.68 217.00,810.66 217.75,808.56 218.50,810.41 219.25,810.00 220.00,810.69 220.75,811.75 221.50,811.16 222.25,813.00 223.00,810.78 223.75,813.73 224.50,810.62 225.25,812.59 226.00,812.53 226.75,813.96 227.50,815.25 228.25,814.49 229.00,813.15 229.75,812.43 230.50,814.81 231.25,815.35 232.00,813.94 232.75,814.11 233.50,814.00 234.25,814.55 235.00,814.75 235.75,814.82 236.50,813.86 237.25,814.53 238.00,814.77 238.75,812.41 239.50,815.20 240.25,815.52 241.00,816.86 241.75,816.45 242.50,816.59 243.25,817.43 244.00,815.49 244.75,817.98 245.50,816.04 246.25,815.30 247.00,816.67 247.75,815.89 248.50,816.51 249.25,817.71 250.00,817.45 250.75,816.32 251.50,816.17 252.25,817.75 253.00,816.99 253.75,816.26 254.50,815.44 255.25,817.54 256.00,815.68 256.75,817.21 257.50,816.48 258.25,816.00 259.00,816.22 259.75,815.61 260.50,815.80 261.25,814.90 262.00,809.73 262.75,805.19 263.50,807.22 264.25,812.87 265.00,816.71 265.75,818.20 266.50,816.01 267.25,816.71 268.00,815.13 268.75,816.34 269.50,814.91 270.25,815.25 271.00,816.33 271.75,816.92 272.50,817.79 273.25,819.08 274.00,819.28 274.75,819.30 275.50,819.18 276.25,818.84 277.00,818.55 277.75,816.67 278.50,817.00 279.25,815.84 280.00,817.03 280.75,818.24 281.50,818.29 282.25,819.07 283.00,818.54 283.75,820.08 284.50,817.50 285.25,818.30 286.00,817.67 286.75,818.54 287.50,819.27 288.25,816.91 289.00,817.45 289.75,817.89 290.50,818.46 291.25,818.98 292.00,818.03 292.75,818.57 293.50,820.50 294.25,820.75 295.00,820.22 295.75,820.29 296.50,819.71 297.25,818.55 298.00,817.43 298.75,815.75 299.50,816.27 300.25,816.96 301.00,815.59 301.75,815.05 302.50,815.03 303.25,816.00 304.00,816.63 304.75,814.31 305.50,811.86 306.25,815.31 307.00,813.00 307.75,813.58 308.50,812.22 309.25,813.20 310.00,814.11 310.75,811.44 311.50,812.34 312.25,812.51 313.00,811.41 313.75,813.78 314.50,812.57 315.25,812.37 316.00,809.03 316.75,802.40 317.50,799.24 318.25,806.43 319.00,810.03 319.75,811.38 320.50,810.88 321.25,808.83 322.00,808.02 322.75,811.60 323.50,813.04 324.25,815.74 325.00,814.36 325.75,817.64 326.50,817.17 327.25,817.58" fill="none" stroke="#d41414" stroke-width="2.6" stroke-linejoin="round"/>
<line x1="236.40" y1="692.80" x2="262.40" y2="692.80" stroke="#b0303c" stroke-width="1.6" stroke-linecap="butt"/>
<line x1="236.40" y1="709.80" x2="262.40" y2="709.80" stroke="#b8dca0" stroke-width="1.6" stroke-linecap="butt"/>
<line x1="236.40" y1="727.10" x2="262.40" y2="727.10" stroke="#3232a8" stroke-width="1.6" stroke-linecap="butt"/>
<text x="274.40" y="697.40" font-size="12.3" text-anchor="start" fill="#000">WT</text>
<text x="272.00" y="714.70" font-size="12.3" text-anchor="start" fill="#000" font-style="italic">unc-31</text>
<text x="272.00" y="731.50" font-size="12.3" text-anchor="start" fill="#000" font-style="italic">unc-13</text>
<text x="347.20" y="493.20" font-size="13.5" text-anchor="start" fill="#000" font-weight="bold">G</text>
<line x1="383.00" y1="509.00" x2="383.00" y2="638.50" stroke="#000" stroke-width="2.0" stroke-linecap="butt"/>
<line x1="379.20" y1="634.80" x2="383.00" y2="634.80" stroke="#000" stroke-width="2.0" stroke-linecap="butt"/>
<text x="372.30" y="638.30" font-size="12" text-anchor="end" fill="#000">0</text>
<line x1="379.20" y1="619.15" x2="383.00" y2="619.15" stroke="#000" stroke-width="2.0" stroke-linecap="butt"/>
<text x="372.30" y="622.65" font-size="12" text-anchor="end" fill="#000">1</text>
<line x1="379.20" y1="603.50" x2="383.00" y2="603.50" stroke="#000" stroke-width="2.0" stroke-linecap="butt"/>
<text x="372.30" y="607.00" font-size="12" text-anchor="end" fill="#000">2</text>
<line x1="379.20" y1="587.85" x2="383.00" y2="587.85" stroke="#000" stroke-width="2.0" stroke-linecap="butt"/>
<text x="372.30" y="591.35" font-size="12" text-anchor="end" fill="#000">3</text>
<line x1="379.20" y1="572.20" x2="383.00" y2="572.20" stroke="#000" stroke-width="2.0" stroke-linecap="butt"/>
<text x="372.30" y="575.70" font-size="12" text-anchor="end" fill="#000">4</text>
<line x1="379.20" y1="556.55" x2="383.00" y2="556.55" stroke="#000" stroke-width="2.0" stroke-linecap="butt"/>
<text x="372.30" y="560.05" font-size="12" text-anchor="end" fill="#000">5</text>
<line x1="379.20" y1="540.90" x2="383.00" y2="540.90" stroke="#000" stroke-width="2.0" stroke-linecap="butt"/>
<text x="372.30" y="544.40" font-size="12" text-anchor="end" fill="#000">6</text>
<line x1="379.20" y1="525.25" x2="383.00" y2="525.25" stroke="#000" stroke-width="2.0" stroke-linecap="butt"/>
<text x="372.30" y="528.75" font-size="12" text-anchor="end" fill="#000">7</text>
<line x1="379.20" y1="509.60" x2="383.00" y2="509.60" stroke="#000" stroke-width="2.0" stroke-linecap="butt"/>
<text x="372.30" y="513.10" font-size="12" text-anchor="end" fill="#000">8</text>
<text x="358.20" y="578.80" font-size="12.3" text-anchor="middle" fill="#000" transform="rotate(-90 358.20 578.80)">Peak GCaMP ΔR/R (fold)</text>
<line x1="379.20" y1="634.80" x2="494.30" y2="634.80" stroke="#000" stroke-width="2.0" stroke-linecap="butt"/>
<line x1="419.30" y1="634.80" x2="419.30" y2="638.50" stroke="#000" stroke-width="2.0" stroke-linecap="butt"/>
<line x1="456.80" y1="634.80" x2="456.80" y2="638.50" stroke="#000" stroke-width="2.0" stroke-linecap="butt"/>
<line x1="494.30" y1="634.80" x2="494.30" y2="638.50" stroke="#000" stroke-width="2.0" stroke-linecap="butt"/>
<line x1="396.50" y1="512.50" x2="477.60" y2="512.50" stroke="#111" stroke-width="1.0" stroke-linecap="butt"/>
<text x="436.60" y="510.40" font-size="10.5" text-anchor="middle" fill="#000">ns</text>
<rect x="392.70" y="576.00" width="17.90" height="58.80" fill="#d41c1c"/>
<rect x="429.80" y="580.80" width="17.90" height="54.00" fill="#82f22a"/>
<rect x="467.00" y="576.50" width="17.60" height="58.30" fill="#1c12e6"/>
<line x1="401.40" y1="565.70" x2="401.40" y2="578.00" stroke="#1a1a1a" stroke-width="1.5" stroke-linecap="butt"/>
<line x1="399.10" y1="565.70" x2="403.70" y2="565.70" stroke="#1a1a1a" stroke-width="1.8" stroke-linecap="butt"/>
<line x1="438.40" y1="575.00" x2="438.40" y2="587.30" stroke="#1a1a1a" stroke-width="1.5" stroke-linecap="butt"/>
<line x1="436.10" y1="575.00" x2="440.70" y2="575.00" stroke="#1a1a1a" stroke-width="1.8" stroke-linecap="butt"/>
<line x1="476.00" y1="570.80" x2="476.00" y2="580.00" stroke="#1a1a1a" stroke-width="1.5" stroke-linecap="butt"/>
<line x1="473.70" y1="570.80" x2="478.30" y2="570.80" stroke="#1a1a1a" stroke-width="1.8" stroke-linecap="butt"/>
<circle cx="404.00" cy="552.90" r="2.15" fill="#8a8a8a" stroke="#6a6a6a" stroke-width="0.5" stroke-opacity="0.6"/>
<circle cx="399.30" cy="563.10" r="2.15" fill="#8a8a8a" stroke="#6a6a6a" stroke-width="0.5" stroke-opacity="0.6"/>
<circle cx="398.30" cy="566.70" r="2.15" fill="#8a8a8a" stroke="#6a6a6a" stroke-width="0.5" stroke-opacity="0.6"/>
<circle cx="397.80" cy="571.90" r="2.15" fill="#8a8a8a" stroke="#6a6a6a" stroke-width="0.5" stroke-opacity="0.6"/>
<circle cx="400.90" cy="576.00" r="2.15" fill="#8a8a8a" stroke="#6a6a6a" stroke-width="0.5" stroke-opacity="0.6"/>
<circle cx="401.40" cy="582.70" r="2.15" fill="#d89a9a" stroke="#6a6a6a" stroke-width="0.5" stroke-opacity="0.6"/>
<circle cx="401.40" cy="601.70" r="2.15" fill="#d89a9a" stroke="#6a6a6a" stroke-width="0.5" stroke-opacity="0.6"/>
<circle cx="399.30" cy="610.00" r="2.15" fill="#d89a9a" stroke="#6a6a6a" stroke-width="0.5" stroke-opacity="0.6"/>
<circle cx="399.80" cy="615.60" r="2.15" fill="#d89a9a" stroke="#6a6a6a" stroke-width="0.5" stroke-opacity="0.6"/>
<circle cx="402.40" cy="619.70" r="2.15" fill="#d89a9a" stroke="#6a6a6a" stroke-width="0.5" stroke-opacity="0.6"/>
<circle cx="400.50" cy="520.00" r="2.15" fill="#8a8a8a" stroke="#6a6a6a" stroke-width="0.5" stroke-opacity="0.6"/>
<circle cx="401.80" cy="526.90" r="2.15" fill="#8a8a8a" stroke="#6a6a6a" stroke-width="0.5" stroke-opacity="0.6"/>
<circle cx="437.40" cy="548.20" r="2.15" fill="#8a8a8a" stroke="#6a6a6a" stroke-width="0.5" stroke-opacity="0.6"/>
<circle cx="440.00" cy="561.60" r="2.15" fill="#8a8a8a" stroke="#6a6a6a" stroke-width="0.5" stroke-opacity="0.6"/>
<circle cx="441.00" cy="574.00" r="2.15" fill="#8a8a8a" stroke="#6a6a6a" stroke-width="0.5" stroke-opacity="0.6"/>
<circle cx="437.40" cy="576.00" r="2.15" fill="#8a8a8a" stroke="#6a6a6a" stroke-width="0.5" stroke-opacity="0.6"/>
<circle cx="438.40" cy="581.20" r="2.15" fill="#8a8a8a" stroke="#6a6a6a" stroke-width="0.5" stroke-opacity="0.6"/>
<circle cx="437.40" cy="590.40" r="2.15" fill="#6a9a58" stroke="#6a6a6a" stroke-width="0.5" stroke-opacity="0.6"/>
<circle cx="440.00" cy="602.20" r="2.15" fill="#6a9a58" stroke="#6a6a6a" stroke-width="0.5" stroke-opacity="0.6"/>
<circle cx="435.30" cy="609.40" r="2.15" fill="#6a9a58" stroke="#6a6a6a" stroke-width="0.5" stroke-opacity="0.6"/>
<circle cx="474.80" cy="540.20" r="2.15" fill="#8a8a8a" stroke="#6a6a6a" stroke-width="0.5" stroke-opacity="0.6"/>
<circle cx="475.40" cy="555.80" r="2.15" fill="#8a8a8a" stroke="#6a6a6a" stroke-width="0.5" stroke-opacity="0.6"/>
<circle cx="477.20" cy="559.40" r="2.15" fill="#8a8a8a" stroke="#6a6a6a" stroke-width="0.5" stroke-opacity="0.6"/>
<circle cx="473.00" cy="562.40" r="2.15" fill="#8a8a8a" stroke="#6a6a6a" stroke-width="0.5" stroke-opacity="0.6"/>
<circle cx="471.80" cy="566.00" r="2.15" fill="#8a8a8a" stroke="#6a6a6a" stroke-width="0.5" stroke-opacity="0.6"/>
<circle cx="474.20" cy="570.80" r="2.15" fill="#8a8a8a" stroke="#6a6a6a" stroke-width="0.5" stroke-opacity="0.6"/>
<circle cx="477.20" cy="581.00" r="2.15" fill="#9c94ee" stroke="#6a6a6a" stroke-width="0.5" stroke-opacity="0.6"/>
<circle cx="473.60" cy="586.50" r="2.15" fill="#9c94ee" stroke="#6a6a6a" stroke-width="0.5" stroke-opacity="0.6"/>
<circle cx="478.40" cy="589.50" r="2.15" fill="#9c94ee" stroke="#6a6a6a" stroke-width="0.5" stroke-opacity="0.6"/>
<circle cx="476.60" cy="597.30" r="2.15" fill="#9c94ee" stroke="#6a6a6a" stroke-width="0.5" stroke-opacity="0.6"/>
<circle cx="475.40" cy="601.50" r="2.15" fill="#9c94ee" stroke="#6a6a6a" stroke-width="0.5" stroke-opacity="0.6"/>
<circle cx="476.00" cy="627.90" r="2.15" fill="#9c94ee" stroke="#6a6a6a" stroke-width="0.5" stroke-opacity="0.6"/>
<text x="404.50" y="650.50" font-size="12.3" text-anchor="end" fill="#000" transform="rotate(-45 404.50 650.50)">WT</text>
<text x="443.00" y="650.00" font-size="12.3" text-anchor="end" fill="#000" font-style="italic" transform="rotate(-45 443.00 650.00)">unc-31</text>
<text x="481.00" y="652.00" font-size="12.3" text-anchor="end" fill="#000" font-style="italic" transform="rotate(-45 481.00 652.00)">unc-13</text>
<text x="347.30" y="692.60" font-size="13.5" text-anchor="start" fill="#000" font-weight="bold">I</text>
<line x1="383.80" y1="704.00" x2="383.80" y2="840.00" stroke="#000" stroke-width="2.0" stroke-linecap="butt"/>
<line x1="380.00" y1="836.50" x2="383.80" y2="836.50" stroke="#000" stroke-width="2.0" stroke-linecap="butt"/>
<text x="372.80" y="840.00" font-size="12" text-anchor="end" fill="#000">0</text>
<line x1="380.00" y1="817.66" x2="383.80" y2="817.66" stroke="#000" stroke-width="2.0" stroke-linecap="butt"/>
<text x="372.80" y="821.16" font-size="12" text-anchor="end" fill="#000">1</text>
<line x1="380.00" y1="798.82" x2="383.80" y2="798.82" stroke="#000" stroke-width="2.0" stroke-linecap="butt"/>
<text x="372.80" y="802.32" font-size="12" text-anchor="end" fill="#000">2</text>
<line x1="380.00" y1="779.98" x2="383.80" y2="779.98" stroke="#000" stroke-width="2.0" stroke-linecap="butt"/>
<text x="372.80" y="783.48" font-size="12" text-anchor="end" fill="#000">3</text>
<line x1="380.00" y1="761.14" x2="383.80" y2="761.14" stroke="#000" stroke-width="2.0" stroke-linecap="butt"/>
<text x="372.80" y="764.64" font-size="12" text-anchor="end" fill="#000">4</text>
<line x1="380.00" y1="742.30" x2="383.80" y2="742.30" stroke="#000" stroke-width="2.0" stroke-linecap="butt"/>
<text x="372.80" y="745.80" font-size="12" text-anchor="end" fill="#000">5</text>
<line x1="380.00" y1="723.46" x2="383.80" y2="723.46" stroke="#000" stroke-width="2.0" stroke-linecap="butt"/>
<text x="372.80" y="726.96" font-size="12" text-anchor="end" fill="#000">6</text>
<line x1="380.00" y1="704.62" x2="383.80" y2="704.62" stroke="#000" stroke-width="2.0" stroke-linecap="butt"/>
<text x="372.80" y="708.12" font-size="12" text-anchor="end" fill="#000">7</text>
<text x="359.20" y="773.70" font-size="12.3" text-anchor="middle" fill="#000" transform="rotate(-90 359.20 773.70)">Peak GCaMP ΔR/R (fold)</text>
<line x1="380.00" y1="836.50" x2="503.80" y2="836.50" stroke="#000" stroke-width="2.0" stroke-linecap="butt"/>
<line x1="423.70" y1="836.50" x2="423.70" y2="840.00" stroke="#000" stroke-width="2.0" stroke-linecap="butt"/>
<line x1="463.20" y1="836.50" x2="463.20" y2="840.00" stroke="#000" stroke-width="2.0" stroke-linecap="butt"/>
<line x1="502.80" y1="836.50" x2="502.80" y2="840.00" stroke="#000" stroke-width="2.0" stroke-linecap="butt"/>
<line x1="401.30" y1="704.50" x2="483.40" y2="704.50" stroke="#111" stroke-width="1.0" stroke-linecap="butt"/>
<text x="439.80" y="702.00" font-size="10.5" text-anchor="middle" fill="#000">ns</text>
<rect x="394.20" y="776.30" width="19.50" height="60.20" fill="#d41c1c"/>
<rect x="434.30" y="778.60" width="18.90" height="57.90" fill="#82f22a"/>
<rect x="473.60" y="794.90" width="19.50" height="41.60" fill="#1c12e6"/>
<line x1="403.70" y1="765.20" x2="403.70" y2="778.00" stroke="#1a1a1a" stroke-width="1.5" stroke-linecap="butt"/>
<line x1="401.10" y1="765.20" x2="406.30" y2="765.20" stroke="#1a1a1a" stroke-width="1.8" stroke-linecap="butt"/>
<line x1="443.50" y1="772.60" x2="443.50" y2="781.00" stroke="#1a1a1a" stroke-width="1.5" stroke-linecap="butt"/>
<line x1="440.90" y1="772.60" x2="446.10" y2="772.60" stroke="#1a1a1a" stroke-width="1.8" stroke-linecap="butt"/>
<line x1="484.00" y1="785.00" x2="484.00" y2="797.00" stroke="#1a1a1a" stroke-width="1.5" stroke-linecap="butt"/>
<line x1="481.40" y1="785.00" x2="486.60" y2="785.00" stroke="#1a1a1a" stroke-width="1.8" stroke-linecap="butt"/>
<circle cx="407.10" cy="714.70" r="2.15" fill="#8a8a8a" stroke="#6a6a6a" stroke-width="0.5" stroke-opacity="0.6"/>
<circle cx="401.90" cy="748.10" r="2.15" fill="#8a8a8a" stroke="#6a6a6a" stroke-width="0.5" stroke-opacity="0.6"/>
<circle cx="400.40" cy="758.20" r="2.15" fill="#8a8a8a" stroke="#6a6a6a" stroke-width="0.5" stroke-opacity="0.6"/>
<circle cx="406.00" cy="760.30" r="2.15" fill="#8a8a8a" stroke="#6a6a6a" stroke-width="0.5" stroke-opacity="0.6"/>
<circle cx="403.40" cy="771.90" r="2.15" fill="#8a8a8a" stroke="#6a6a6a" stroke-width="0.5" stroke-opacity="0.6"/>
<circle cx="403.40" cy="780.80" r="2.15" fill="#d89a9a" stroke="#6a6a6a" stroke-width="0.5" stroke-opacity="0.6"/>
<circle cx="404.10" cy="786.00" r="2.15" fill="#d89a9a" stroke="#6a6a6a" stroke-width="0.5" stroke-opacity="0.6"/>
<circle cx="399.70" cy="812.00" r="2.15" fill="#d89a9a" stroke="#6a6a6a" stroke-width="0.5" stroke-opacity="0.6"/>
<circle cx="405.60" cy="811.30" r="2.15" fill="#d89a9a" stroke="#6a6a6a" stroke-width="0.5" stroke-opacity="0.6"/>
<circle cx="407.80" cy="827.60" r="2.15" fill="#d89a9a" stroke="#6a6a6a" stroke-width="0.5" stroke-opacity="0.6"/>
<circle cx="443.50" cy="730.00" r="2.15" fill="#8a8a8a" stroke="#6a6a6a" stroke-width="0.5" stroke-opacity="0.6"/>
<circle cx="444.70" cy="737.00" r="2.15" fill="#8a8a8a" stroke="#6a6a6a" stroke-width="0.5" stroke-opacity="0.6"/>
<circle cx="444.30" cy="757.80" r="2.15" fill="#8a8a8a" stroke="#6a6a6a" stroke-width="0.5" stroke-opacity="0.6"/>
<circle cx="442.00" cy="768.20" r="2.15" fill="#8a8a8a" stroke="#6a6a6a" stroke-width="0.5" stroke-opacity="0.6"/>
<circle cx="446.20" cy="767.40" r="2.15" fill="#8a8a8a" stroke="#6a6a6a" stroke-width="0.5" stroke-opacity="0.6"/>
<circle cx="441.30" cy="776.40" r="2.15" fill="#8a8a8a" stroke="#6a6a6a" stroke-width="0.5" stroke-opacity="0.6"/>
<circle cx="442.80" cy="782.30" r="2.15" fill="#6a9a58" stroke="#6a6a6a" stroke-width="0.5" stroke-opacity="0.6"/>
<circle cx="444.70" cy="785.30" r="2.15" fill="#6a9a58" stroke="#6a6a6a" stroke-width="0.5" stroke-opacity="0.6"/>
<circle cx="446.50" cy="789.00" r="2.15" fill="#6a9a58" stroke="#6a6a6a" stroke-width="0.5" stroke-opacity="0.6"/>
<circle cx="441.30" cy="795.70" r="2.15" fill="#6a9a58" stroke="#6a6a6a" stroke-width="0.5" stroke-opacity="0.6"/>
<circle cx="445.00" cy="800.90" r="2.15" fill="#6a9a58" stroke="#6a6a6a" stroke-width="0.5" stroke-opacity="0.6"/>
<circle cx="444.30" cy="806.10" r="2.15" fill="#6a9a58" stroke="#6a6a6a" stroke-width="0.5" stroke-opacity="0.6"/>
<circle cx="485.50" cy="749.90" r="2.15" fill="#8a8a8a" stroke="#6a6a6a" stroke-width="0.5" stroke-opacity="0.6"/>
<circle cx="486.90" cy="784.80" r="2.15" fill="#8a8a8a" stroke="#6a6a6a" stroke-width="0.5" stroke-opacity="0.6"/>
<circle cx="481.60" cy="788.40" r="2.15" fill="#8a8a8a" stroke="#6a6a6a" stroke-width="0.5" stroke-opacity="0.6"/>
<circle cx="482.50" cy="792.80" r="2.15" fill="#8a8a8a" stroke="#6a6a6a" stroke-width="0.5" stroke-opacity="0.6"/>
<circle cx="486.90" cy="800.80" r="2.15" fill="#9c94ee" stroke="#6a6a6a" stroke-width="0.5" stroke-opacity="0.6"/>
<circle cx="483.40" cy="821.10" r="2.15" fill="#9c94ee" stroke="#6a6a6a" stroke-width="0.5" stroke-opacity="0.6"/>
<circle cx="486.00" cy="820.80" r="2.15" fill="#9c94ee" stroke="#6a6a6a" stroke-width="0.5" stroke-opacity="0.6"/>
<text x="406.00" y="851.00" font-size="12.3" text-anchor="end" fill="#000" transform="rotate(-45 406.00 851.00)">WT</text>
<text x="444.50" y="850.00" font-size="12.3" text-anchor="end" fill="#000" font-style="italic" transform="rotate(-45 444.50 850.00)">unc-31</text>
<text x="487.00" y="849.00" font-size="12.3" text-anchor="end" fill="#000" font-style="italic" transform="rotate(-45 487.00 849.00)">unc-13</text>
</svg></body></html>
